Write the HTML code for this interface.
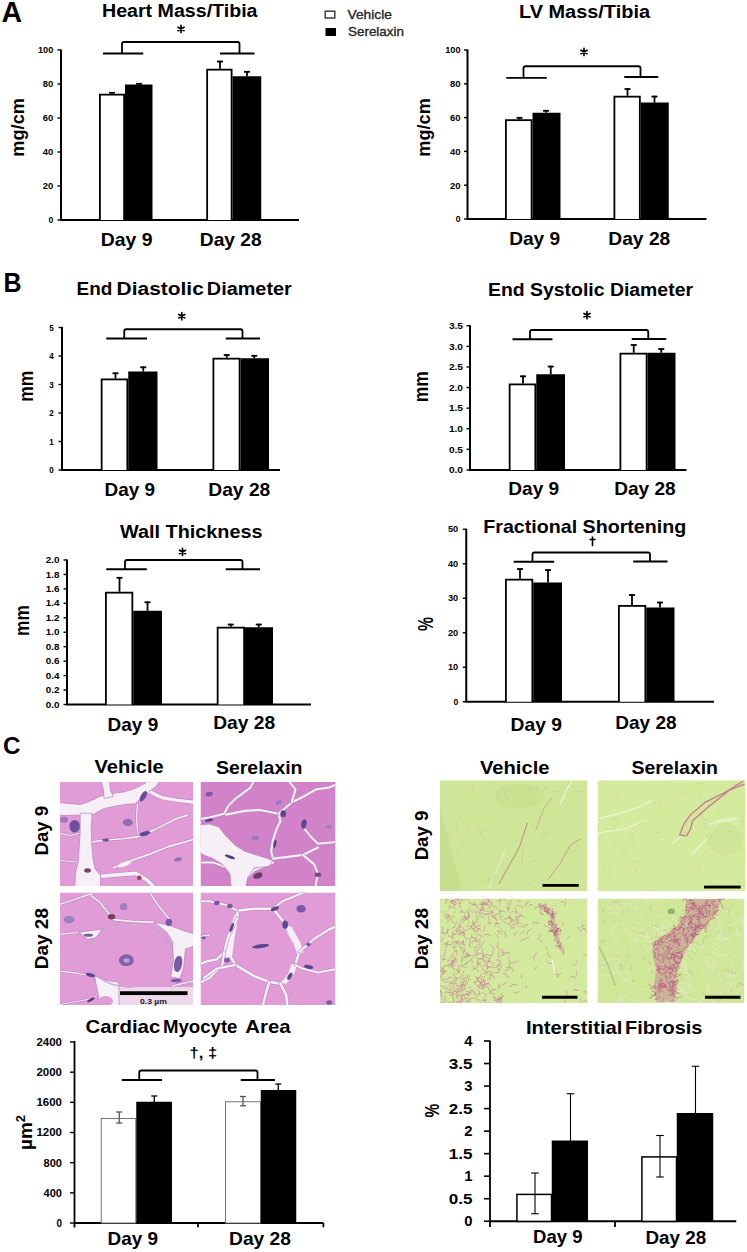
<!DOCTYPE html><html><head><meta charset="utf-8"><style>html,body{margin:0;padding:0;background:#fff;overflow:hidden}svg{display:block}text{font-family:"Liberation Sans",sans-serif;font-weight:bold}</style></head><body>
<svg width="747" height="1252" viewBox="0 0 747 1252">
<rect width="747" height="1252" fill="#fff"/>
<text x="1.4" y="22" font-size="29.3" textLength="20.6" lengthAdjust="spacingAndGlyphs">A</text>
<rect x="325.2" y="11.2" width="9.6" height="6.8" fill="#fff" stroke="#333" stroke-width="1.4"/>
<rect x="325.5" y="28" width="10.5" height="8" fill="#000"/>
<text x="347.5" y="19.3" font-size="13.5" textLength="44.5" lengthAdjust="spacingAndGlyphs" style="font-weight:normal" fill="#262626" stroke="#262626" stroke-width="0.35">Vehicle</text>
<text x="348" y="36.2" font-size="13.5" textLength="56" lengthAdjust="spacingAndGlyphs" style="font-weight:normal" fill="#262626" stroke="#262626" stroke-width="0.35">Serelaxin</text>
<path d="M61,49.5L61,220L299,220" stroke="#000" stroke-width="2" fill="none" stroke-linejoin="miter"/>
<line x1="57.5" y1="50" x2="61" y2="50" stroke="#000" stroke-width="1.4" stroke-linecap="butt"/>
<text x="53.3" y="53.348" font-size="9.3" textLength="15.3" lengthAdjust="spacingAndGlyphs" text-anchor="end">100</text>
<line x1="57.5" y1="84" x2="61" y2="84" stroke="#000" stroke-width="1.4" stroke-linecap="butt"/>
<text x="53.3" y="87.348" font-size="9.3" textLength="10.5" lengthAdjust="spacingAndGlyphs" text-anchor="end">80</text>
<line x1="57.5" y1="118" x2="61" y2="118" stroke="#000" stroke-width="1.4" stroke-linecap="butt"/>
<text x="53.3" y="121.348" font-size="9.3" textLength="10.5" lengthAdjust="spacingAndGlyphs" text-anchor="end">60</text>
<line x1="57.5" y1="152" x2="61" y2="152" stroke="#000" stroke-width="1.4" stroke-linecap="butt"/>
<text x="53.3" y="155.348" font-size="9.3" textLength="10.5" lengthAdjust="spacingAndGlyphs" text-anchor="end">40</text>
<line x1="57.5" y1="186" x2="61" y2="186" stroke="#000" stroke-width="1.4" stroke-linecap="butt"/>
<text x="53.3" y="189.348" font-size="9.3" textLength="10.5" lengthAdjust="spacingAndGlyphs" text-anchor="end">20</text>
<line x1="57.5" y1="220" x2="61" y2="220" stroke="#000" stroke-width="1.4" stroke-linecap="butt"/>
<text x="53.3" y="223.348" font-size="9.3" textLength="4.8" lengthAdjust="spacingAndGlyphs" text-anchor="end">0</text>
<rect x="99" y="93.75" width="26" height="126.25" fill="#000"/>
<rect x="100.8" y="95.55" width="22.4" height="124.45" fill="#fff"/>
<rect x="125" y="84.5" width="27.5" height="135.5" fill="#000"/>
<rect x="206.25" y="68.75" width="26.25" height="151.25" fill="#000"/>
<rect x="208.05" y="70.55" width="22.65" height="149.45" fill="#fff"/>
<rect x="232.5" y="76.25" width="28.75" height="143.75" fill="#000"/>
<line x1="112" y1="92" x2="112" y2="93.75" stroke="#000" stroke-width="1.8" stroke-linecap="butt"/>
<line x1="109" y1="92.8" x2="115" y2="92.8" stroke="#000" stroke-width="1.8" stroke-linecap="butt"/>
<line x1="139" y1="83" x2="139" y2="84.5" stroke="#000" stroke-width="1.8" stroke-linecap="butt"/>
<line x1="136" y1="83.8" x2="142" y2="83.8" stroke="#000" stroke-width="1.8" stroke-linecap="butt"/>
<line x1="220" y1="60.75" x2="220" y2="68.75" stroke="#000" stroke-width="1.8" stroke-linecap="butt"/>
<line x1="217" y1="61.55" x2="223" y2="61.55" stroke="#000" stroke-width="1.8" stroke-linecap="butt"/>
<line x1="247" y1="71" x2="247" y2="76.25" stroke="#000" stroke-width="1.8" stroke-linecap="butt"/>
<line x1="244" y1="71.8" x2="250" y2="71.8" stroke="#000" stroke-width="1.8" stroke-linecap="butt"/>
<path d="M103,53.5L143.25,53.5M122,53.5L122,44Q122,42 124,42L237.5,42Q239.5,42 239.5,44L239.5,53.5M220,53.5L254.5,53.5" stroke="#000" stroke-width="1.8" fill="none"/>
<text x="102" y="17" font-size="17.5" textLength="155.5" lengthAdjust="spacingAndGlyphs">Heart Mass/Tibia</text>
<path d="M181.00,25.40L181.00,32.40M184.03,27.15L177.97,30.65M184.03,30.65L177.97,27.15" stroke="#000" stroke-width="1.7" fill="none" stroke-linecap="round"/>
<text x="100.8" y="245.75" font-size="18.5" textLength="51.8" lengthAdjust="spacingAndGlyphs">Day 9</text>
<text x="199.8" y="245.75" font-size="18.5" textLength="61.8" lengthAdjust="spacingAndGlyphs">Day 28</text>
<text transform="translate(24.1,156.7) rotate(-90)" font-size="19" textLength="58.7" lengthAdjust="spacingAndGlyphs">mg/cm</text>
<path d="M467.5,49.5L467.5,219L706.5,219" stroke="#000" stroke-width="2" fill="none" stroke-linejoin="miter"/>
<line x1="464.0" y1="50" x2="467.5" y2="50" stroke="#000" stroke-width="1.4" stroke-linecap="butt"/>
<text x="460.5" y="53.348" font-size="9.3" textLength="15.3" lengthAdjust="spacingAndGlyphs" text-anchor="end">100</text>
<line x1="464.0" y1="83.8" x2="467.5" y2="83.8" stroke="#000" stroke-width="1.4" stroke-linecap="butt"/>
<text x="460.5" y="87.148" font-size="9.3" textLength="10.5" lengthAdjust="spacingAndGlyphs" text-anchor="end">80</text>
<line x1="464.0" y1="117.6" x2="467.5" y2="117.6" stroke="#000" stroke-width="1.4" stroke-linecap="butt"/>
<text x="460.5" y="120.948" font-size="9.3" textLength="10.5" lengthAdjust="spacingAndGlyphs" text-anchor="end">60</text>
<line x1="464.0" y1="151.4" x2="467.5" y2="151.4" stroke="#000" stroke-width="1.4" stroke-linecap="butt"/>
<text x="460.5" y="154.74800000000002" font-size="9.3" textLength="10.5" lengthAdjust="spacingAndGlyphs" text-anchor="end">40</text>
<line x1="464.0" y1="185.2" x2="467.5" y2="185.2" stroke="#000" stroke-width="1.4" stroke-linecap="butt"/>
<text x="460.5" y="188.548" font-size="9.3" textLength="10.5" lengthAdjust="spacingAndGlyphs" text-anchor="end">20</text>
<line x1="464.0" y1="219" x2="467.5" y2="219" stroke="#000" stroke-width="1.4" stroke-linecap="butt"/>
<text x="460.5" y="222.348" font-size="9.3" textLength="4.8" lengthAdjust="spacingAndGlyphs" text-anchor="end">0</text>
<rect x="505" y="119.25" width="27.5" height="99.75" fill="#000"/>
<rect x="506.8" y="121.05" width="23.9" height="97.95" fill="#fff"/>
<rect x="532.5" y="112.75" width="28.0" height="106.25" fill="#000"/>
<rect x="613.5" y="95.75" width="27.25" height="123.25" fill="#000"/>
<rect x="615.3" y="97.55" width="23.65" height="121.45" fill="#fff"/>
<rect x="640.75" y="102.5" width="28.0" height="116.5" fill="#000"/>
<line x1="519.5" y1="117" x2="519.5" y2="119.25" stroke="#000" stroke-width="1.8" stroke-linecap="butt"/>
<line x1="516.5" y1="117.8" x2="522.5" y2="117.8" stroke="#000" stroke-width="1.8" stroke-linecap="butt"/>
<line x1="546" y1="110" x2="546" y2="112.75" stroke="#000" stroke-width="1.8" stroke-linecap="butt"/>
<line x1="543" y1="110.8" x2="549" y2="110.8" stroke="#000" stroke-width="1.8" stroke-linecap="butt"/>
<line x1="627.5" y1="88.25" x2="627.5" y2="95.75" stroke="#000" stroke-width="1.8" stroke-linecap="butt"/>
<line x1="624.5" y1="89.05" x2="630.5" y2="89.05" stroke="#000" stroke-width="1.8" stroke-linecap="butt"/>
<line x1="654.5" y1="95.75" x2="654.5" y2="102.5" stroke="#000" stroke-width="1.8" stroke-linecap="butt"/>
<line x1="651.5" y1="96.55" x2="657.5" y2="96.55" stroke="#000" stroke-width="1.8" stroke-linecap="butt"/>
<path d="M506.25,77.8L546.75,77.8M523.5,77.8L523.5,68.25Q523.5,66.25 525.5,66.25L638.5,66.25Q640.5,66.25 640.5,68.25L640.5,77M624.25,77L658.25,77" stroke="#000" stroke-width="1.8" fill="none"/>
<text x="519" y="17.5" font-size="17.5" textLength="131" lengthAdjust="spacingAndGlyphs">LV Mass/Tibia</text>
<path d="M584.00,48.40L584.00,55.40M587.03,50.15L580.97,53.65M587.03,53.65L580.97,50.15" stroke="#000" stroke-width="1.7" fill="none" stroke-linecap="round"/>
<text x="509.2" y="245.2" font-size="18.5" textLength="51" lengthAdjust="spacingAndGlyphs">Day 9</text>
<text x="608.3" y="245.2" font-size="18.5" textLength="62" lengthAdjust="spacingAndGlyphs">Day 28</text>
<text transform="translate(430.3,156.7) rotate(-90)" font-size="19" textLength="58.6" lengthAdjust="spacingAndGlyphs">mg/cm</text>
<text x="3.5" y="291.5" font-size="27.5" textLength="18" lengthAdjust="spacingAndGlyphs">B</text>
<path d="M62,327.0L62,470L280,470" stroke="#000" stroke-width="2" fill="none" stroke-linejoin="miter"/>
<line x1="58.5" y1="327.5" x2="62" y2="327.5" stroke="#000" stroke-width="1.4" stroke-linecap="butt"/>
<text x="53.75" y="330.812" font-size="9.2" textLength="4.5" lengthAdjust="spacingAndGlyphs" text-anchor="end">5</text>
<line x1="58.5" y1="356" x2="62" y2="356" stroke="#000" stroke-width="1.4" stroke-linecap="butt"/>
<text x="53.75" y="359.312" font-size="9.2" textLength="4.5" lengthAdjust="spacingAndGlyphs" text-anchor="end">4</text>
<line x1="58.5" y1="384.5" x2="62" y2="384.5" stroke="#000" stroke-width="1.4" stroke-linecap="butt"/>
<text x="53.75" y="387.812" font-size="9.2" textLength="4.5" lengthAdjust="spacingAndGlyphs" text-anchor="end">3</text>
<line x1="58.5" y1="413" x2="62" y2="413" stroke="#000" stroke-width="1.4" stroke-linecap="butt"/>
<text x="53.75" y="416.312" font-size="9.2" textLength="4.5" lengthAdjust="spacingAndGlyphs" text-anchor="end">2</text>
<line x1="58.5" y1="441.5" x2="62" y2="441.5" stroke="#000" stroke-width="1.4" stroke-linecap="butt"/>
<text x="53.75" y="444.812" font-size="9.2" textLength="4.5" lengthAdjust="spacingAndGlyphs" text-anchor="end">1</text>
<line x1="58.5" y1="470" x2="62" y2="470" stroke="#000" stroke-width="1.4" stroke-linecap="butt"/>
<text x="53.75" y="473.312" font-size="9.2" textLength="4.5" lengthAdjust="spacingAndGlyphs" text-anchor="end">0</text>
<rect x="100.75" y="378.5" width="27.5" height="91.5" fill="#000"/>
<rect x="102.55" y="380.3" width="23.9" height="89.7" fill="#fff"/>
<rect x="128.25" y="371.5" width="29.25" height="98.5" fill="#000"/>
<rect x="212.5" y="357.75" width="28.0" height="112.25" fill="#000"/>
<rect x="214.3" y="359.55" width="24.4" height="110.45" fill="#fff"/>
<rect x="240.5" y="358.25" width="28.5" height="111.75" fill="#000"/>
<line x1="115.5" y1="372.5" x2="115.5" y2="378.5" stroke="#000" stroke-width="1.8" stroke-linecap="butt"/>
<line x1="112.5" y1="373.3" x2="118.5" y2="373.3" stroke="#000" stroke-width="1.8" stroke-linecap="butt"/>
<line x1="143.25" y1="366.5" x2="143.25" y2="371.5" stroke="#000" stroke-width="1.8" stroke-linecap="butt"/>
<line x1="140.25" y1="367.3" x2="146.25" y2="367.3" stroke="#000" stroke-width="1.8" stroke-linecap="butt"/>
<line x1="226.75" y1="354.25" x2="226.75" y2="357.75" stroke="#000" stroke-width="1.8" stroke-linecap="butt"/>
<line x1="223.75" y1="355.05" x2="229.75" y2="355.05" stroke="#000" stroke-width="1.8" stroke-linecap="butt"/>
<line x1="254.25" y1="355" x2="254.25" y2="358.25" stroke="#000" stroke-width="1.8" stroke-linecap="butt"/>
<line x1="251.25" y1="355.8" x2="257.25" y2="355.8" stroke="#000" stroke-width="1.8" stroke-linecap="butt"/>
<path d="M106.25,338.5L147,338.5M124.25,338.5L124.25,331.25Q124.25,329.25 126.25,329.25L240.5,329.25Q242.5,329.25 242.5,331.25L242.5,338.5M225.75,338.5L260,338.5" stroke="#000" stroke-width="1.8" fill="none"/>
<text x="76.6" y="295.3" font-size="18.3" textLength="35.8" lengthAdjust="spacingAndGlyphs">End</text>
<text x="116.6" y="295.3" font-size="18.3" textLength="87.2" lengthAdjust="spacingAndGlyphs">Diastolic</text>
<text x="206.8" y="295.3" font-size="18.3" textLength="85.0" lengthAdjust="spacingAndGlyphs">Diameter</text>
<path d="M181.75,312.65L181.75,319.65M184.78,314.40L178.72,317.90M184.78,317.90L178.72,314.40" stroke="#000" stroke-width="1.7" fill="none" stroke-linecap="round"/>
<text x="104.5" y="495.5" font-size="18.5" textLength="50.5" lengthAdjust="spacingAndGlyphs">Day 9</text>
<text x="208.3" y="495.5" font-size="18.5" textLength="62" lengthAdjust="spacingAndGlyphs">Day 28</text>
<text transform="translate(33,401.8) rotate(-90)" font-size="21" textLength="31.1" lengthAdjust="spacingAndGlyphs">mm</text>
<path d="M470,325.25L470,470L686.5,470" stroke="#000" stroke-width="2" fill="none" stroke-linejoin="miter"/>
<line x1="466.5" y1="325.75" x2="470" y2="325.75" stroke="#000" stroke-width="1.4" stroke-linecap="butt"/>
<text x="463" y="329.062" font-size="9.2" textLength="14.1" lengthAdjust="spacingAndGlyphs" text-anchor="end">3.5</text>
<line x1="466.5" y1="346.35" x2="470" y2="346.35" stroke="#000" stroke-width="1.4" stroke-linecap="butt"/>
<text x="463" y="349.66200000000003" font-size="9.2" textLength="14.1" lengthAdjust="spacingAndGlyphs" text-anchor="end">3.0</text>
<line x1="466.5" y1="366.95" x2="470" y2="366.95" stroke="#000" stroke-width="1.4" stroke-linecap="butt"/>
<text x="463" y="370.262" font-size="9.2" textLength="14.1" lengthAdjust="spacingAndGlyphs" text-anchor="end">2.5</text>
<line x1="466.5" y1="387.55" x2="470" y2="387.55" stroke="#000" stroke-width="1.4" stroke-linecap="butt"/>
<text x="463" y="390.862" font-size="9.2" textLength="14.1" lengthAdjust="spacingAndGlyphs" text-anchor="end">2.0</text>
<line x1="466.5" y1="408.15" x2="470" y2="408.15" stroke="#000" stroke-width="1.4" stroke-linecap="butt"/>
<text x="463" y="411.462" font-size="9.2" textLength="14.1" lengthAdjust="spacingAndGlyphs" text-anchor="end">1.5</text>
<line x1="466.5" y1="428.75" x2="470" y2="428.75" stroke="#000" stroke-width="1.4" stroke-linecap="butt"/>
<text x="463" y="432.062" font-size="9.2" textLength="14.1" lengthAdjust="spacingAndGlyphs" text-anchor="end">1.0</text>
<line x1="466.5" y1="449.35" x2="470" y2="449.35" stroke="#000" stroke-width="1.4" stroke-linecap="butt"/>
<text x="463" y="452.66200000000003" font-size="9.2" textLength="14.1" lengthAdjust="spacingAndGlyphs" text-anchor="end">0.5</text>
<line x1="466.5" y1="470" x2="470" y2="470" stroke="#000" stroke-width="1.4" stroke-linecap="butt"/>
<text x="463" y="473.312" font-size="9.2" textLength="14.1" lengthAdjust="spacingAndGlyphs" text-anchor="end">0.0</text>
<rect x="508.75" y="383.5" width="27.5" height="86.5" fill="#000"/>
<rect x="510.55" y="385.3" width="23.9" height="84.7" fill="#fff"/>
<rect x="536.25" y="374.25" width="28.75" height="95.75" fill="#000"/>
<rect x="619.5" y="352.75" width="28.0" height="117.25" fill="#000"/>
<rect x="621.3" y="354.55" width="24.4" height="115.45" fill="#fff"/>
<rect x="647.5" y="352.75" width="28.0" height="117.25" fill="#000"/>
<line x1="523" y1="375.5" x2="523" y2="383.5" stroke="#000" stroke-width="1.8" stroke-linecap="butt"/>
<line x1="520" y1="376.3" x2="526" y2="376.3" stroke="#000" stroke-width="1.8" stroke-linecap="butt"/>
<line x1="550.75" y1="365.75" x2="550.75" y2="374.25" stroke="#000" stroke-width="1.8" stroke-linecap="butt"/>
<line x1="547.75" y1="366.55" x2="553.75" y2="366.55" stroke="#000" stroke-width="1.8" stroke-linecap="butt"/>
<line x1="633.75" y1="344.25" x2="633.75" y2="352.75" stroke="#000" stroke-width="1.8" stroke-linecap="butt"/>
<line x1="630.75" y1="345.05" x2="636.75" y2="345.05" stroke="#000" stroke-width="1.8" stroke-linecap="butt"/>
<line x1="661.25" y1="348.25" x2="661.25" y2="352.75" stroke="#000" stroke-width="1.8" stroke-linecap="butt"/>
<line x1="658.25" y1="349.05" x2="664.25" y2="349.05" stroke="#000" stroke-width="1.8" stroke-linecap="butt"/>
<path d="M512.5,339.25L552.5,339.25M530,339.25L530,332Q530,330 532,330L646.25,330Q648.25,330 648.25,332L648.25,339M631.75,339L666.25,339" stroke="#000" stroke-width="1.8" fill="none"/>
<text x="488" y="296" font-size="17.5" textLength="205" lengthAdjust="spacingAndGlyphs">End Systolic Diameter</text>
<path d="M587.00,311.65L587.00,318.65M590.03,313.40L583.97,316.90M590.03,316.90L583.97,313.40" stroke="#000" stroke-width="1.7" fill="none" stroke-linecap="round"/>
<text x="508.3" y="495" font-size="18.5" textLength="50.8" lengthAdjust="spacingAndGlyphs">Day 9</text>
<text x="614.2" y="495" font-size="18.5" textLength="61.5" lengthAdjust="spacingAndGlyphs">Day 28</text>
<text transform="translate(428,402.3) rotate(-90)" font-size="21" textLength="31.2" lengthAdjust="spacingAndGlyphs">mm</text>
<path d="M67,559.5L67,704.5L311,704.5" stroke="#000" stroke-width="2" fill="none" stroke-linejoin="miter"/>
<line x1="63.5" y1="560.0" x2="67" y2="560.0" stroke="#000" stroke-width="1.4" stroke-linecap="butt"/>
<text x="59.4" y="563.132" font-size="8.7" textLength="13.7" lengthAdjust="spacingAndGlyphs" text-anchor="end">2.0</text>
<line x1="63.5" y1="574.45" x2="67" y2="574.45" stroke="#000" stroke-width="1.4" stroke-linecap="butt"/>
<text x="59.4" y="577.582" font-size="8.7" textLength="13.7" lengthAdjust="spacingAndGlyphs" text-anchor="end">1.8</text>
<line x1="63.5" y1="588.9" x2="67" y2="588.9" stroke="#000" stroke-width="1.4" stroke-linecap="butt"/>
<text x="59.4" y="592.0319999999999" font-size="8.7" textLength="13.7" lengthAdjust="spacingAndGlyphs" text-anchor="end">1.6</text>
<line x1="63.5" y1="603.35" x2="67" y2="603.35" stroke="#000" stroke-width="1.4" stroke-linecap="butt"/>
<text x="59.4" y="606.482" font-size="8.7" textLength="13.7" lengthAdjust="spacingAndGlyphs" text-anchor="end">1.4</text>
<line x1="63.5" y1="617.8" x2="67" y2="617.8" stroke="#000" stroke-width="1.4" stroke-linecap="butt"/>
<text x="59.4" y="620.9319999999999" font-size="8.7" textLength="13.7" lengthAdjust="spacingAndGlyphs" text-anchor="end">1.2</text>
<line x1="63.5" y1="632.25" x2="67" y2="632.25" stroke="#000" stroke-width="1.4" stroke-linecap="butt"/>
<text x="59.4" y="635.382" font-size="8.7" textLength="13.7" lengthAdjust="spacingAndGlyphs" text-anchor="end">1.0</text>
<line x1="63.5" y1="646.7" x2="67" y2="646.7" stroke="#000" stroke-width="1.4" stroke-linecap="butt"/>
<text x="59.4" y="649.832" font-size="8.7" textLength="13.7" lengthAdjust="spacingAndGlyphs" text-anchor="end">0.8</text>
<line x1="63.5" y1="661.15" x2="67" y2="661.15" stroke="#000" stroke-width="1.4" stroke-linecap="butt"/>
<text x="59.4" y="664.2819999999999" font-size="8.7" textLength="13.7" lengthAdjust="spacingAndGlyphs" text-anchor="end">0.6</text>
<line x1="63.5" y1="675.6" x2="67" y2="675.6" stroke="#000" stroke-width="1.4" stroke-linecap="butt"/>
<text x="59.4" y="678.732" font-size="8.7" textLength="13.7" lengthAdjust="spacingAndGlyphs" text-anchor="end">0.4</text>
<line x1="63.5" y1="690.05" x2="67" y2="690.05" stroke="#000" stroke-width="1.4" stroke-linecap="butt"/>
<text x="59.4" y="693.1819999999999" font-size="8.7" textLength="13.7" lengthAdjust="spacingAndGlyphs" text-anchor="end">0.2</text>
<line x1="63.5" y1="704.5" x2="67" y2="704.5" stroke="#000" stroke-width="1.4" stroke-linecap="butt"/>
<text x="59.4" y="707.632" font-size="8.7" textLength="13.7" lengthAdjust="spacingAndGlyphs" text-anchor="end">0.0</text>
<rect x="105" y="591.75" width="28.25" height="112.75" fill="#000"/>
<rect x="106.8" y="593.55" width="24.65" height="110.95" fill="#fff"/>
<rect x="133.25" y="610.75" width="28.75" height="93.75" fill="#000"/>
<rect x="216.75" y="626.75" width="28.25" height="77.75" fill="#000"/>
<rect x="218.55" y="628.55" width="24.65" height="75.95" fill="#fff"/>
<rect x="245" y="627.25" width="28" height="77.25" fill="#000"/>
<line x1="119.5" y1="577" x2="119.5" y2="591.75" stroke="#000" stroke-width="1.8" stroke-linecap="butt"/>
<line x1="116.5" y1="577.8" x2="122.5" y2="577.8" stroke="#000" stroke-width="1.8" stroke-linecap="butt"/>
<line x1="147.5" y1="601.5" x2="147.5" y2="610.75" stroke="#000" stroke-width="1.8" stroke-linecap="butt"/>
<line x1="144.5" y1="602.3" x2="150.5" y2="602.3" stroke="#000" stroke-width="1.8" stroke-linecap="butt"/>
<line x1="230.75" y1="623.75" x2="230.75" y2="626.75" stroke="#000" stroke-width="1.8" stroke-linecap="butt"/>
<line x1="227.75" y1="624.55" x2="233.75" y2="624.55" stroke="#000" stroke-width="1.8" stroke-linecap="butt"/>
<line x1="258.75" y1="623.75" x2="258.75" y2="627.25" stroke="#000" stroke-width="1.8" stroke-linecap="butt"/>
<line x1="255.75" y1="624.55" x2="261.75" y2="624.55" stroke="#000" stroke-width="1.8" stroke-linecap="butt"/>
<path d="M106.25,569.25L146.75,569.25M125,569.25L125,562Q125,560 127,560L240.5,560Q242.5,560 242.5,562L242.5,569.25M225.75,569.25L260,569.25" stroke="#000" stroke-width="1.8" fill="none"/>
<text x="120" y="537.5" font-size="17.5" textLength="142.5" lengthAdjust="spacingAndGlyphs">Wall Thickness</text>
<path d="M182.50,548.40L182.50,555.40M185.53,550.15L179.47,553.65M185.53,553.65L179.47,550.15" stroke="#000" stroke-width="1.7" fill="none" stroke-linecap="round"/>
<text x="107.6" y="730.7" font-size="18.5" textLength="50.6" lengthAdjust="spacingAndGlyphs">Day 9</text>
<text x="213.2" y="729" font-size="18.5" textLength="62" lengthAdjust="spacingAndGlyphs">Day 28</text>
<text transform="translate(28.6,636) rotate(-90)" font-size="20.5" textLength="30.8" lengthAdjust="spacingAndGlyphs">mm</text>
<path d="M466.25,528.75L466.25,701.75L714,701.75" stroke="#000" stroke-width="2" fill="none" stroke-linejoin="miter"/>
<line x1="462.75" y1="529.25" x2="466.25" y2="529.25" stroke="#000" stroke-width="1.4" stroke-linecap="butt"/>
<text x="458.25" y="532.49" font-size="9" textLength="10.25" lengthAdjust="spacingAndGlyphs" text-anchor="end">50</text>
<line x1="462.75" y1="563.75" x2="466.25" y2="563.75" stroke="#000" stroke-width="1.4" stroke-linecap="butt"/>
<text x="458.25" y="566.99" font-size="9" textLength="10.25" lengthAdjust="spacingAndGlyphs" text-anchor="end">40</text>
<line x1="462.75" y1="598.25" x2="466.25" y2="598.25" stroke="#000" stroke-width="1.4" stroke-linecap="butt"/>
<text x="458.25" y="601.49" font-size="9" textLength="10.25" lengthAdjust="spacingAndGlyphs" text-anchor="end">30</text>
<line x1="462.75" y1="632.75" x2="466.25" y2="632.75" stroke="#000" stroke-width="1.4" stroke-linecap="butt"/>
<text x="458.25" y="635.99" font-size="9" textLength="10.25" lengthAdjust="spacingAndGlyphs" text-anchor="end">20</text>
<line x1="462.75" y1="667.25" x2="466.25" y2="667.25" stroke="#000" stroke-width="1.4" stroke-linecap="butt"/>
<text x="458.25" y="670.49" font-size="9" textLength="10.25" lengthAdjust="spacingAndGlyphs" text-anchor="end">10</text>
<line x1="462.75" y1="701.75" x2="466.25" y2="701.75" stroke="#000" stroke-width="1.4" stroke-linecap="butt"/>
<text x="458.25" y="704.99" font-size="9" textLength="4.8" lengthAdjust="spacingAndGlyphs" text-anchor="end">0</text>
<rect x="505" y="578.75" width="28.25" height="123.0" fill="#000"/>
<rect x="506.8" y="580.55" width="24.65" height="121.2" fill="#fff"/>
<rect x="533.25" y="582.5" width="28.75" height="119.25" fill="#000"/>
<rect x="618" y="605" width="28.25" height="96.75" fill="#000"/>
<rect x="619.8" y="606.8" width="24.65" height="94.95" fill="#fff"/>
<rect x="646.25" y="607.5" width="28.25" height="94.25" fill="#000"/>
<line x1="520" y1="568.25" x2="520" y2="578.75" stroke="#000" stroke-width="1.8" stroke-linecap="butt"/>
<line x1="517" y1="569.05" x2="523" y2="569.05" stroke="#000" stroke-width="1.8" stroke-linecap="butt"/>
<line x1="548" y1="569.25" x2="548" y2="582.5" stroke="#000" stroke-width="1.8" stroke-linecap="butt"/>
<line x1="545" y1="570.05" x2="551" y2="570.05" stroke="#000" stroke-width="1.8" stroke-linecap="butt"/>
<line x1="632" y1="594.25" x2="632" y2="605" stroke="#000" stroke-width="1.8" stroke-linecap="butt"/>
<line x1="629" y1="595.05" x2="635" y2="595.05" stroke="#000" stroke-width="1.8" stroke-linecap="butt"/>
<line x1="660" y1="601.75" x2="660" y2="607.5" stroke="#000" stroke-width="1.8" stroke-linecap="butt"/>
<line x1="657" y1="602.55" x2="663" y2="602.55" stroke="#000" stroke-width="1.8" stroke-linecap="butt"/>
<path d="M513.75,561.75L554.25,561.75M532.5,561.75L532.5,554.5Q532.5,552.5 534.5,552.5L648,552.5Q650,552.5 650,554.5L650,561.5M633.25,561.5L667.5,561.5" stroke="#000" stroke-width="1.8" fill="none"/>
<text x="483.25" y="533" font-size="18.5" textLength="203" lengthAdjust="spacingAndGlyphs">Fractional Shortening</text>
<line x1="592.5" y1="536.5" x2="592.5" y2="546.25" stroke="#000" stroke-width="1.6" stroke-linecap="butt"/>
<line x1="589.5" y1="539.5" x2="595.5" y2="539.5" stroke="#000" stroke-width="1.6" stroke-linecap="butt"/>
<text x="510.6" y="730.7" font-size="18.5" textLength="51.3" lengthAdjust="spacingAndGlyphs">Day 9</text>
<text x="615.2" y="729" font-size="18.5" textLength="61.4" lengthAdjust="spacingAndGlyphs">Day 28</text>
<text transform="translate(432.8,631.1) rotate(-90)" font-size="21.5" textLength="14" lengthAdjust="spacingAndGlyphs">%</text>
<text x="3" y="754.25" font-size="24" textLength="17.5" lengthAdjust="spacingAndGlyphs">C</text>
<text x="94.5" y="773" font-size="18.5" textLength="69.25" lengthAdjust="spacingAndGlyphs">Vehicle</text>
<text x="216" y="774" font-size="18.5" textLength="86.5" lengthAdjust="spacingAndGlyphs">Serelaxin</text>
<text x="480" y="774" font-size="18.5" textLength="69.5" lengthAdjust="spacingAndGlyphs">Vehicle</text>
<text x="631.5" y="774" font-size="18.5" textLength="86.5" lengthAdjust="spacingAndGlyphs">Serelaxin</text>
<text transform="translate(48,855.4) rotate(-90)" font-size="18.5" textLength="49.6" lengthAdjust="spacingAndGlyphs">Day 9</text>
<text transform="translate(48,969.3) rotate(-90)" font-size="18.5" textLength="61.3" lengthAdjust="spacingAndGlyphs">Day 28</text>
<text transform="translate(428,860.3) rotate(-90)" font-size="18.5" textLength="49.6" lengthAdjust="spacingAndGlyphs">Day 9</text>
<text transform="translate(428,969.3) rotate(-90)" font-size="18.5" textLength="61.3" lengthAdjust="spacingAndGlyphs">Day 28</text>
<clipPath id="c1"><rect x="60" y="782" width="133" height="104"/></clipPath>
<g clip-path="url(#c1)">
<rect x="60" y="782" width="133" height="104" fill="#e19bd7"/>
<g transform="translate(58,780) scale(0.184739)">
<path d="M0,285L60,300L115,290" fill="none" stroke="#b884c0" stroke-width="12" stroke-linejoin="round" stroke-linecap="round"/><path d="M0,285L60,300L115,290" fill="none" stroke="#f6f0f6" stroke-width="6" stroke-linejoin="round" stroke-linecap="round"/>
<path d="M0,435L60,440L115,445" fill="none" stroke="#b884c0" stroke-width="12" stroke-linejoin="round" stroke-linecap="round"/><path d="M0,435L60,440L115,445" fill="none" stroke="#f6f0f6" stroke-width="6" stroke-linejoin="round" stroke-linecap="round"/>
<path d="M430,130L425,200L432,300" fill="none" stroke="#b884c0" stroke-width="13" stroke-linejoin="round" stroke-linecap="round"/><path d="M430,130L425,200L432,300" fill="none" stroke="#f6f0f6" stroke-width="7" stroke-linejoin="round" stroke-linecap="round"/>
<path d="M185,335L260,325L350,318L430,308L520,270L640,210L700,190" fill="none" stroke="#b884c0" stroke-width="15" stroke-linejoin="round" stroke-linecap="round"/><path d="M185,335L260,325L350,318L430,308L520,270L640,210L700,190" fill="none" stroke="#f6f0f6" stroke-width="9" stroke-linejoin="round" stroke-linecap="round"/>
<path d="M300,475L400,435L500,400L600,360L747,318" fill="none" stroke="#b884c0" stroke-width="16" stroke-linejoin="round" stroke-linecap="round"/><path d="M300,475L400,435L500,400L600,360L747,318" fill="none" stroke="#f6f0f6" stroke-width="10" stroke-linejoin="round" stroke-linecap="round"/>
<path d="M490,60L560,95L650,110L747,122" fill="none" stroke="#b884c0" stroke-width="24" stroke-linejoin="round" stroke-linecap="round"/><path d="M490,60L560,95L650,110L747,122" fill="none" stroke="#f6f0f6" stroke-width="18" stroke-linejoin="round" stroke-linecap="round"/>
<path d="M190,525L300,515L420,505L480,540L530,590" fill="none" stroke="#b884c0" stroke-width="26" stroke-linejoin="round" stroke-linecap="round"/><path d="M190,525L300,515L420,505L480,540L530,590" fill="none" stroke="#f6f0f6" stroke-width="20" stroke-linejoin="round" stroke-linecap="round"/>
<path d="M0,120L60,128L120,132L170,116L230,88L300,72L360,64L420,45L470,18L490,0L555,0L530,35L490,65L450,95L420,128L360,133L300,143L240,158L195,185L150,195L100,190L40,192L0,190Z" fill="#f6f0f6" stroke="#b884c0" stroke-width="4" stroke-linejoin="round"/>
<path d="M120,180L185,180L180,260L182,340L188,420L200,480L230,515L230,600L90,600L95,500L110,440L115,360L120,280Z" fill="#f6f0f6" stroke="#b884c0" stroke-width="4" stroke-linejoin="round"/>
<path d="M232,0L278,0L285,60L300,88L250,100L245,50Z" fill="#f6f0f6" stroke="#b884c0" stroke-width="4" stroke-linejoin="round"/>
<ellipse cx="360" cy="455" rx="40" ry="12" transform="rotate(-20 360 455)" fill="#f6f0f6"/>
<ellipse cx="90" cy="250" rx="28" ry="34" transform="rotate(0 90 250)" fill="#6e4e9e"/>
<ellipse cx="32" cy="215" rx="22" ry="16" transform="rotate(0 32 215)" fill="#a078b8"/>
<ellipse cx="378" cy="230" rx="28" ry="20" transform="rotate(0 378 230)" fill="#9070b4"/>
<ellipse cx="462" cy="88" rx="14" ry="32" transform="rotate(30 462 88)" fill="#6a4c98"/>
<ellipse cx="470" cy="290" rx="30" ry="12" transform="rotate(-15 470 290)" fill="#5e4a96"/>
<ellipse cx="258" cy="325" rx="18" ry="8" transform="rotate(0 258 325)" fill="#6e56a6"/>
<ellipse cx="650" cy="430" rx="22" ry="10" transform="rotate(-10 650 430)" fill="#8c70b8"/>
<ellipse cx="160" cy="490" rx="18" ry="12" transform="rotate(0 160 490)" fill="#7a4070"/>
<ellipse cx="440" cy="530" rx="13" ry="13" transform="rotate(0 440 530)" fill="#a04870"/>
</g></g>
<clipPath id="c2"><rect x="200.5" y="782" width="135.0" height="104"/></clipPath>
<g clip-path="url(#c2)">
<rect x="200.5" y="782" width="135.0" height="104" fill="#d282c8"/>
<g transform="translate(198,780) scale(0.187416)">
<path d="M160,140L200,100L240,70L280,40L300,0" fill="none" stroke="#b884c0" stroke-width="17" stroke-linejoin="round" stroke-linecap="round"/><path d="M160,140L200,100L240,70L280,40L300,0" fill="none" stroke="#f6f0f6" stroke-width="11" stroke-linejoin="round" stroke-linecap="round"/>
<path d="M160,140L140,180L60,200L0,210" fill="none" stroke="#b884c0" stroke-width="17" stroke-linejoin="round" stroke-linecap="round"/><path d="M160,140L140,180L60,200L0,210" fill="none" stroke="#f6f0f6" stroke-width="11" stroke-linejoin="round" stroke-linecap="round"/>
<path d="M150,185L250,165L330,160L430,180L440,220L420,260L400,320L390,380L400,420" fill="none" stroke="#b884c0" stroke-width="18" stroke-linejoin="round" stroke-linecap="round"/><path d="M150,185L250,165L330,160L430,180L440,220L420,260L400,320L390,380L400,420" fill="none" stroke="#f6f0f6" stroke-width="12" stroke-linejoin="round" stroke-linecap="round"/>
<path d="M430,180L500,120L560,90L630,50L700,40L747,20" fill="none" stroke="#b884c0" stroke-width="18" stroke-linejoin="round" stroke-linecap="round"/><path d="M430,180L500,120L560,90L630,50L700,40L747,20" fill="none" stroke="#f6f0f6" stroke-width="12" stroke-linejoin="round" stroke-linecap="round"/>
<path d="M500,120L520,50L480,0" fill="none" stroke="#b884c0" stroke-width="17" stroke-linejoin="round" stroke-linecap="round"/><path d="M500,120L520,50L480,0" fill="none" stroke="#f6f0f6" stroke-width="11" stroke-linejoin="round" stroke-linecap="round"/>
<path d="M560,250L600,300L640,340L747,330" fill="none" stroke="#b884c0" stroke-width="16" stroke-linejoin="round" stroke-linecap="round"/><path d="M560,250L600,300L640,340L747,330" fill="none" stroke="#f6f0f6" stroke-width="10" stroke-linejoin="round" stroke-linecap="round"/>
<path d="M400,420L480,410L560,400L640,360" fill="none" stroke="#b884c0" stroke-width="18" stroke-linejoin="round" stroke-linecap="round"/><path d="M400,420L480,410L560,400L640,360" fill="none" stroke="#f6f0f6" stroke-width="12" stroke-linejoin="round" stroke-linecap="round"/>
<path d="M560,400L620,450L640,500L620,600" fill="none" stroke="#b884c0" stroke-width="17" stroke-linejoin="round" stroke-linecap="round"/><path d="M560,400L620,450L640,500L620,600" fill="none" stroke="#f6f0f6" stroke-width="11" stroke-linejoin="round" stroke-linecap="round"/>
<path d="M250,530L300,480L400,440" fill="none" stroke="#b884c0" stroke-width="18" stroke-linejoin="round" stroke-linecap="round"/><path d="M250,530L300,480L400,440" fill="none" stroke="#f6f0f6" stroke-width="12" stroke-linejoin="round" stroke-linecap="round"/>
<path d="M0,440L80,440L160,470" fill="none" stroke="#b884c0" stroke-width="16" stroke-linejoin="round" stroke-linecap="round"/><path d="M0,440L80,440L160,470" fill="none" stroke="#f6f0f6" stroke-width="10" stroke-linejoin="round" stroke-linecap="round"/>
<path d="M0,240L60,235L110,250L150,300L200,350L250,380L310,400L360,415L400,430L380,460L300,470L265,520L250,600L180,600L170,500L130,450L80,420L30,400L0,380Z" fill="#f6f0f6" stroke="#b884c0" stroke-width="4" stroke-linejoin="round"/>
<ellipse cx="565" cy="235" rx="14" ry="25" transform="rotate(10 565 235)" fill="#5a4690"/>
<ellipse cx="455" cy="180" rx="15" ry="18" transform="rotate(0 455 180)" fill="#5a4690"/>
<ellipse cx="430" cy="120" rx="18" ry="10" transform="rotate(-20 430 120)" fill="#9a78c0"/>
<ellipse cx="305" cy="310" rx="20" ry="12" transform="rotate(0 305 310)" fill="#9a78c0"/>
<ellipse cx="320" cy="510" rx="25" ry="15" transform="rotate(-20 320 510)" fill="#6a3a6a"/>
<ellipse cx="640" cy="505" rx="18" ry="12" transform="rotate(0 640 505)" fill="#7a4a80"/>
<ellipse cx="60" cy="75" rx="20" ry="12" transform="rotate(-10 60 75)" fill="#7a5aa8"/>
<ellipse cx="170" cy="410" rx="28" ry="8" transform="rotate(20 170 410)" fill="#4e3e80"/>
<ellipse cx="410" cy="340" rx="8" ry="22" transform="rotate(10 410 340)" fill="#5a4690"/>
<ellipse cx="700" cy="250" rx="15" ry="12" transform="rotate(0 700 250)" fill="#a080c0"/>
<ellipse cx="60" cy="215" rx="22" ry="8" transform="rotate(-10 60 215)" fill="#5a4690"/>
</g></g>
<clipPath id="c3"><rect x="60" y="892.5" width="133" height="112.5"/></clipPath>
<g clip-path="url(#c3)">
<rect x="60" y="892.5" width="133" height="112.5" fill="#e19bd7"/>
<g transform="translate(58,890) scale(0.184739)">
<rect x="320" y="525" width="430" height="110" fill="#eed8ec"/>
<path d="M180,30L230,70L270,120L300,160L400,170L520,175" fill="none" stroke="#b884c0" stroke-width="15" stroke-linejoin="round" stroke-linecap="round"/><path d="M180,30L230,70L270,120L300,160L400,170L520,175" fill="none" stroke="#f6f0f6" stroke-width="9" stroke-linejoin="round" stroke-linecap="round"/>
<path d="M500,20L540,80L580,130L610,165" fill="none" stroke="#b884c0" stroke-width="14" stroke-linejoin="round" stroke-linecap="round"/><path d="M500,20L540,80L580,130L610,165" fill="none" stroke="#f6f0f6" stroke-width="8" stroke-linejoin="round" stroke-linecap="round"/>
<path d="M0,80L80,55L150,30L185,20" fill="none" stroke="#b884c0" stroke-width="14" stroke-linejoin="round" stroke-linecap="round"/><path d="M0,80L80,55L150,30L185,20" fill="none" stroke="#f6f0f6" stroke-width="8" stroke-linejoin="round" stroke-linecap="round"/>
<path d="M0,240L60,235L110,230" fill="none" stroke="#b884c0" stroke-width="12" stroke-linejoin="round" stroke-linecap="round"/><path d="M0,240L60,235L110,230" fill="none" stroke="#f6f0f6" stroke-width="6" stroke-linejoin="round" stroke-linecap="round"/>
<path d="M0,438L100,450L203,468" fill="none" stroke="#b884c0" stroke-width="12" stroke-linejoin="round" stroke-linecap="round"/><path d="M0,438L100,450L203,468" fill="none" stroke="#f6f0f6" stroke-width="6" stroke-linejoin="round" stroke-linecap="round"/>
<path d="M198,466L260,488L330,500L330,640L235,640L222,590L210,530Z" fill="#f6f0f6" stroke="#b884c0" stroke-width="4" stroke-linejoin="round"/>
<ellipse cx="258" cy="602" rx="40" ry="28" fill="#e19bd7"/>
<path d="M0,622L120,600L195,586L212,560" fill="none" stroke="#b884c0" stroke-width="11" stroke-linejoin="round" stroke-linecap="round"/><path d="M0,622L120,600L195,586L212,560" fill="none" stroke="#f6f0f6" stroke-width="5" stroke-linejoin="round" stroke-linecap="round"/>
<ellipse cx="178" cy="595" rx="22" ry="7" transform="rotate(-30 178 595)" fill="#4e3e80"/>
<path d="M620,520L700,500L747,490" fill="none" stroke="#b884c0" stroke-width="14" stroke-linejoin="round" stroke-linecap="round"/><path d="M620,520L700,500L747,490" fill="none" stroke="#f6f0f6" stroke-width="8" stroke-linejoin="round" stroke-linecap="round"/>
<ellipse cx="388" cy="355" rx="232" ry="170" fill="none" stroke="#b884c0" stroke-width="7"/>
<ellipse cx="388" cy="355" rx="232" ry="170" fill="none" stroke="#f0dcef" stroke-width="3"/>
<path d="M115,228L240,212L205,258L160,268Z" fill="#f6f0f6" stroke="#b884c0" stroke-width="4" stroke-linejoin="round"/>
<path d="M520,175L600,190L680,220L747,240L747,300L690,320L680,420L660,480L610,470L625,380L620,280L590,230Z" fill="#f6f0f6" stroke="#b884c0" stroke-width="4" stroke-linejoin="round"/>
<ellipse cx="370" cy="380" rx="40" ry="32" transform="rotate(0 370 380)" fill="#8060a8"/>
<ellipse cx="372" cy="382" rx="16" ry="12" transform="rotate(0 372 382)" fill="#c0a0d0"/>
<ellipse cx="290" cy="145" rx="20" ry="15" transform="rotate(0 290 145)" fill="#7a3a5a"/>
<ellipse cx="600" cy="175" rx="18" ry="20" transform="rotate(0 600 175)" fill="#7a5aa8"/>
<ellipse cx="60" cy="160" rx="30" ry="20" transform="rotate(0 60 160)" fill="#a080c0"/>
<ellipse cx="355" cy="90" rx="20" ry="20" transform="rotate(0 355 90)" fill="#a080c0"/>
<ellipse cx="650" cy="400" rx="22" ry="45" transform="rotate(10 650 400)" fill="#7a5aa8"/>
<ellipse cx="640" cy="490" rx="30" ry="10" transform="rotate(0 640 490)" fill="#7a5aa8"/>
<ellipse cx="175" cy="460" rx="25" ry="10" transform="rotate(15 175 460)" fill="#5a4690"/>
<ellipse cx="165" cy="245" rx="25" ry="8" transform="rotate(0 165 245)" fill="#7a5aa8"/>
</g></g>
<clipPath id="c4"><rect x="200.5" y="892.5" width="135.0" height="112.5"/></clipPath>
<g clip-path="url(#c4)">
<rect x="200.5" y="892.5" width="135.0" height="112.5" fill="#e19bd7"/>
<g transform="translate(198,890) scale(0.187416)">
<path d="M210,110L300,100L400,100L440,150L480,200L520,280L540,330L520,400L480,470L440,500L380,490L300,460L200,400L170,350L180,250L210,150L210,110" fill="none" stroke="#b884c0" stroke-width="20" stroke-linejoin="round" stroke-linecap="round"/><path d="M210,110L300,100L400,100L440,150L480,200L520,280L540,330L520,400L480,470L440,500L380,490L300,460L200,400L170,350L180,250L210,150L210,110" fill="none" stroke="#f6f0f6" stroke-width="14" stroke-linejoin="round" stroke-linecap="round"/>
<path d="M205,120L218,140L195,250L182,350L150,362L138,330L160,250L190,150Z" fill="#f6f0f6" stroke="#f6f0f6" stroke-width="1" stroke-linejoin="round"/>
<path d="M468,188L500,198L545,280L562,332L532,345L508,282L478,232Z" fill="#f6f0f6" stroke="#f6f0f6" stroke-width="1" stroke-linejoin="round"/>
<path d="M500,395L530,400L510,450L470,500L445,495L480,450Z" fill="#f6f0f6" stroke="#f6f0f6" stroke-width="1" stroke-linejoin="round"/>
<path d="M210,150L160,250L140,330L100,370L50,380L0,400" fill="none" stroke="#b884c0" stroke-width="19" stroke-linejoin="round" stroke-linecap="round"/><path d="M210,150L160,250L140,330L100,370L50,380L0,400" fill="none" stroke="#f6f0f6" stroke-width="13" stroke-linejoin="round" stroke-linecap="round"/>
<path d="M140,330L130,400L60,470L0,500" fill="none" stroke="#b884c0" stroke-width="18" stroke-linejoin="round" stroke-linecap="round"/><path d="M140,330L130,400L60,470L0,500" fill="none" stroke="#f6f0f6" stroke-width="12" stroke-linejoin="round" stroke-linecap="round"/>
<path d="M200,400L100,420L30,470" fill="none" stroke="#b884c0" stroke-width="18" stroke-linejoin="round" stroke-linecap="round"/><path d="M200,400L100,420L30,470" fill="none" stroke="#f6f0f6" stroke-width="12" stroke-linejoin="round" stroke-linecap="round"/>
<path d="M210,110L150,80L60,60L0,60" fill="none" stroke="#b884c0" stroke-width="17" stroke-linejoin="round" stroke-linecap="round"/><path d="M210,110L150,80L60,60L0,60" fill="none" stroke="#f6f0f6" stroke-width="11" stroke-linejoin="round" stroke-linecap="round"/>
<path d="M400,100L450,60L500,40L560,15" fill="none" stroke="#b884c0" stroke-width="17" stroke-linejoin="round" stroke-linecap="round"/><path d="M400,100L450,60L500,40L560,15" fill="none" stroke="#f6f0f6" stroke-width="11" stroke-linejoin="round" stroke-linecap="round"/>
<path d="M540,330L620,260L700,210L747,190" fill="none" stroke="#b884c0" stroke-width="18" stroke-linejoin="round" stroke-linecap="round"/><path d="M540,330L620,260L700,210L747,190" fill="none" stroke="#f6f0f6" stroke-width="12" stroke-linejoin="round" stroke-linecap="round"/>
<path d="M520,400L560,420L640,440L747,420" fill="none" stroke="#b884c0" stroke-width="17" stroke-linejoin="round" stroke-linecap="round"/><path d="M520,400L560,420L640,440L747,420" fill="none" stroke="#f6f0f6" stroke-width="11" stroke-linejoin="round" stroke-linecap="round"/>
<path d="M440,500L470,560L480,640" fill="none" stroke="#b884c0" stroke-width="20" stroke-linejoin="round" stroke-linecap="round"/><path d="M440,500L470,560L480,640" fill="none" stroke="#f6f0f6" stroke-width="14" stroke-linejoin="round" stroke-linecap="round"/>
<path d="M380,490L360,560L340,640" fill="none" stroke="#b884c0" stroke-width="19" stroke-linejoin="round" stroke-linecap="round"/><path d="M380,490L360,560L340,640" fill="none" stroke="#f6f0f6" stroke-width="13" stroke-linejoin="round" stroke-linecap="round"/>
<path d="M0,250L60,240" fill="none" stroke="#b884c0" stroke-width="15" stroke-linejoin="round" stroke-linecap="round"/><path d="M0,250L60,240" fill="none" stroke="#f6f0f6" stroke-width="9" stroke-linejoin="round" stroke-linecap="round"/>
<ellipse cx="335" cy="300" rx="45" ry="10" transform="rotate(-8 335 300)" fill="#5a4690"/>
<ellipse cx="465" cy="185" rx="15" ry="22" transform="rotate(0 465 185)" fill="#5a4690"/>
<ellipse cx="550" cy="100" rx="25" ry="20" transform="rotate(0 550 100)" fill="#7a5aa8"/>
<ellipse cx="410" cy="100" rx="22" ry="10" transform="rotate(-20 410 100)" fill="#5a4690"/>
<ellipse cx="100" cy="70" rx="15" ry="12" transform="rotate(0 100 70)" fill="#7a5aa8"/>
<ellipse cx="170" cy="85" rx="15" ry="12" transform="rotate(0 170 85)" fill="#7a5aa8"/>
<ellipse cx="180" cy="200" rx="8" ry="25" transform="rotate(20 180 200)" fill="#5a4690"/>
<ellipse cx="155" cy="375" rx="15" ry="12" transform="rotate(0 155 375)" fill="#7a5aa8"/>
<ellipse cx="590" cy="410" rx="25" ry="10" transform="rotate(10 590 410)" fill="#5a4690"/>
<ellipse cx="30" cy="255" rx="12" ry="8" transform="rotate(0 30 255)" fill="#7a5aa8"/>
<ellipse cx="590" cy="290" rx="12" ry="10" transform="rotate(0 590 290)" fill="#7a5aa8"/>
<ellipse cx="490" cy="460" rx="10" ry="22" transform="rotate(30 490 460)" fill="#5a4690"/>
<ellipse cx="700" cy="600" rx="15" ry="12" transform="rotate(0 700 600)" fill="#7a5aa8"/>
</g></g>
<clipPath id="c5"><rect x="440" y="780.3" width="147.5" height="110.70000000000005"/></clipPath>
<g clip-path="url(#c5)">
<rect x="440" y="780.3" width="147.5" height="110.70000000000005" fill="#cfe698"/>
<g transform="translate(438,778) scale(0.203481)">
<path d="M10,150 L120,560 L10,560Z" fill="#c2dc88" opacity="0.6"/>
<ellipse cx="400" cy="90" rx="120" ry="60" fill="#c4de8a" opacity="0.5"/>
<path d="M300,520L350,430L400,340L440,220" fill="none" stroke="#c07c88" stroke-width="5" opacity="0.8"/>
<path d="M540,500L600,420L650,330L700,300" fill="none" stroke="#c07c88" stroke-width="4" opacity="0.8"/>
<path d="M480,260L520,150L560,100" fill="none" stroke="#c07c88" stroke-width="3" opacity="0.8"/>
<path d="M600,130 L630,60 L660,15" fill="none" stroke="#eef6d8" stroke-width="6"/>
<path d="M250,540 L300,430 L330,350" fill="none" stroke="#e6f0c8" stroke-width="5"/>
<path d="M462,414L468,406L481,405L485,401L485,392" fill="none" stroke="#c89098" stroke-width="2.4" stroke-linecap="round" stroke-linejoin="round" opacity="0.5"/>
<path d="M286,66L291,72L287,84L293,95L304,97" fill="none" stroke="#c89098" stroke-width="1.6" stroke-linecap="round" stroke-linejoin="round" opacity="0.5"/>
<path d="M11,485L6,489L6,497" fill="none" stroke="#c89098" stroke-width="1.7" stroke-linecap="round" stroke-linejoin="round" opacity="0.5"/>
<path d="M645,351L659,357L664,358L678,357L685,352" fill="none" stroke="#c89098" stroke-width="2.3" stroke-linecap="round" stroke-linejoin="round" opacity="0.5"/>
<path d="M435,335L426,325L421,319" fill="none" stroke="#c89098" stroke-width="2.0" stroke-linecap="round" stroke-linejoin="round" opacity="0.5"/>
<path d="M521,41L526,48L534,55" fill="none" stroke="#c89098" stroke-width="1.9" stroke-linecap="round" stroke-linejoin="round" opacity="0.5"/>
<path d="M283,468L276,481L279,493L268,503L264,511" fill="none" stroke="#c89098" stroke-width="2.0" stroke-linecap="round" stroke-linejoin="round" opacity="0.5"/>
<path d="M572,69L576,65L582,67L593,67" fill="none" stroke="#c89098" stroke-width="2.4" stroke-linecap="round" stroke-linejoin="round" opacity="0.5"/>
<path d="M256,514L250,508L249,497L252,490" fill="none" stroke="#c89098" stroke-width="2.0" stroke-linecap="round" stroke-linejoin="round" opacity="0.5"/>
<path d="M532,54L521,60L516,66L511,69" fill="none" stroke="#c89098" stroke-width="2.5" stroke-linecap="round" stroke-linejoin="round" opacity="0.5"/>
<path d="M473,447L477,458L470,467" fill="none" stroke="#c89098" stroke-width="2.3" stroke-linecap="round" stroke-linejoin="round" opacity="0.5"/>
<path d="M87,247L96,251L95,264L86,268" fill="none" stroke="#c89098" stroke-width="2.0" stroke-linecap="round" stroke-linejoin="round" opacity="0.5"/>
<path d="M539,271L533,273L524,269L510,274" fill="none" stroke="#c89098" stroke-width="2.4" stroke-linecap="round" stroke-linejoin="round" opacity="0.5"/>
<path d="M141,278L136,271L137,258L143,248L151,245" fill="none" stroke="#c89098" stroke-width="2.2" stroke-linecap="round" stroke-linejoin="round" opacity="0.5"/>
<path d="M214,275L222,263L224,256L233,252L241,254" fill="none" stroke="#c89098" stroke-width="1.8" stroke-linecap="round" stroke-linejoin="round" opacity="0.5"/>
<path d="M219,283L211,275L207,262L199,251" fill="none" stroke="#c89098" stroke-width="2.4" stroke-linecap="round" stroke-linejoin="round" opacity="0.5"/>
<path d="M509,542L515,529L513,520L517,514L512,503" fill="none" stroke="#c89098" stroke-width="1.9" stroke-linecap="round" stroke-linejoin="round" opacity="0.5"/>
<path d="M457,520L447,524L441,520L442,513" fill="none" stroke="#c89098" stroke-width="2.1" stroke-linecap="round" stroke-linejoin="round" opacity="0.5"/>
<path d="M462,109L464,103L467,97" fill="none" stroke="#c89098" stroke-width="1.6" stroke-linecap="round" stroke-linejoin="round" opacity="0.5"/>
<path d="M107,183L110,192L117,201" fill="none" stroke="#c89098" stroke-width="1.6" stroke-linecap="round" stroke-linejoin="round" opacity="0.5"/>
<path d="M158,401L154,408L152,414L144,417" fill="none" stroke="#c89098" stroke-width="1.5" stroke-linecap="round" stroke-linejoin="round" opacity="0.5"/>
<path d="M455,62L453,54L450,49L442,41" fill="none" stroke="#c89098" stroke-width="2.0" stroke-linecap="round" stroke-linejoin="round" opacity="0.5"/>
<path d="M349,95L335,90L328,85L328,80" fill="none" stroke="#c89098" stroke-width="1.6" stroke-linecap="round" stroke-linejoin="round" opacity="0.5"/>
<path d="M420,345L418,356L417,370L417,380L412,388" fill="none" stroke="#c89098" stroke-width="2.4" stroke-linecap="round" stroke-linejoin="round" opacity="0.5"/>
<path d="M125,334L125,325L118,312L114,305" fill="none" stroke="#c89098" stroke-width="2.0" stroke-linecap="round" stroke-linejoin="round" opacity="0.5"/>
<path d="M98,349L98,355L99,365L99,372" fill="none" stroke="#c89098" stroke-width="2.0" stroke-linecap="round" stroke-linejoin="round" opacity="0.5"/>
<path d="M37,277L44,279L53,283L61,291L62,297" fill="none" stroke="#c89098" stroke-width="2.3" stroke-linecap="round" stroke-linejoin="round" opacity="0.5"/>
<path d="M228,301L223,303L215,312L209,312" fill="none" stroke="#c89098" stroke-width="1.5" stroke-linecap="round" stroke-linejoin="round" opacity="0.5"/>
<path d="M411,384L415,387L416,397L415,409L411,418" fill="none" stroke="#c89098" stroke-width="2.4" stroke-linecap="round" stroke-linejoin="round" opacity="0.5"/>
<path d="M289,224L299,224L306,229" fill="none" stroke="#c89098" stroke-width="1.5" stroke-linecap="round" stroke-linejoin="round" opacity="0.5"/>
<path d="M575,327L577,321L580,311L582,303" fill="none" stroke="#c89098" stroke-width="1.7" stroke-linecap="round" stroke-linejoin="round" opacity="0.5"/>
<path d="M435,452L441,452L446,438" fill="none" stroke="#c89098" stroke-width="1.8" stroke-linecap="round" stroke-linejoin="round" opacity="0.5"/>
<path d="M321,47L323,61L331,69L327,80" fill="none" stroke="#c89098" stroke-width="1.6" stroke-linecap="round" stroke-linejoin="round" opacity="0.5"/>
<path d="M222,510L235,513L240,507L248,500L256,499" fill="none" stroke="#c89098" stroke-width="2.1" stroke-linecap="round" stroke-linejoin="round" opacity="0.5"/>
<path d="M96,227L89,223L83,215" fill="none" stroke="#c89098" stroke-width="2.4" stroke-linecap="round" stroke-linejoin="round" opacity="0.5"/>
<path d="M281,40L279,29L270,17" fill="none" stroke="#c89098" stroke-width="2.0" stroke-linecap="round" stroke-linejoin="round" opacity="0.5"/>
<path d="M170,44L170,51L176,58L177,64" fill="none" stroke="#c89098" stroke-width="2.2" stroke-linecap="round" stroke-linejoin="round" opacity="0.5"/>
<path d="M485,56L488,47L491,38" fill="none" stroke="#c89098" stroke-width="2.0" stroke-linecap="round" stroke-linejoin="round" opacity="0.5"/>
<path d="M708,69L704,65L690,66L683,64L671,72" fill="none" stroke="#c89098" stroke-width="2.2" stroke-linecap="round" stroke-linejoin="round" opacity="0.5"/>
<path d="M605,86L605,78L616,72L624,74" fill="none" stroke="#c89098" stroke-width="2.2" stroke-linecap="round" stroke-linejoin="round" opacity="0.5"/>
</g></g>
<clipPath id="c6"><rect x="597.5" y="780.3" width="147.5" height="110.70000000000005"/></clipPath>
<g clip-path="url(#c6)">
<rect x="597.5" y="780.3" width="147.5" height="110.70000000000005" fill="#d4eb9e"/>
<g transform="translate(595,778) scale(0.203481)">
<path d="M15,200L100,180L200,150L280,110" fill="none" stroke="#eef4dc" stroke-width="6"/>
<path d="M15,270L150,250L240,210" fill="none" stroke="#eef4dc" stroke-width="5"/>
<path d="M470,380L550,300L600,220L700,200" fill="none" stroke="#eef4dc" stroke-width="5"/>
<path d="M380,320L420,290" fill="none" stroke="#eef4dc" stroke-width="6"/>
<path d="M560,230L620,205L700,195" fill="none" stroke="#eef4dc" stroke-width="5"/>
<ellipse cx="640" cy="300" rx="90" ry="80" fill="#cce090" opacity="0.5"/>
<path d="M730,15 L640,70 L540,120 L470,180 L440,220 L415,280 L440,290 L470,250 L480,210 L560,140 L660,60 L730,30" fill="#d8d8a0" opacity="0.4"/>
<path d="M730,15 L640,70 L540,120 L470,180 L440,220 L415,280 M415,280 L450,285 L470,250 L480,210 L560,140 L660,60 L735,30" fill="none" stroke="#bc6e86" stroke-width="6" stroke-linejoin="round" opacity="0.9"/>
<path d="M585,458L583,464L575,476L567,480" fill="none" stroke="#c89098" stroke-width="1.5" stroke-linecap="round" stroke-linejoin="round" opacity="0.5"/>
<path d="M364,118L369,114L379,108L391,108L396,109" fill="none" stroke="#c89098" stroke-width="1.9" stroke-linecap="round" stroke-linejoin="round" opacity="0.5"/>
<path d="M728,207L723,211L722,222L727,236" fill="none" stroke="#c89098" stroke-width="2.1" stroke-linecap="round" stroke-linejoin="round" opacity="0.5"/>
<path d="M156,367L148,376L136,380" fill="none" stroke="#c89098" stroke-width="2.5" stroke-linecap="round" stroke-linejoin="round" opacity="0.5"/>
<path d="M31,207L25,205L13,202L3,206" fill="none" stroke="#c89098" stroke-width="1.8" stroke-linecap="round" stroke-linejoin="round" opacity="0.5"/>
<path d="M531,217L542,226L544,231L542,236L544,249" fill="none" stroke="#c89098" stroke-width="2.1" stroke-linecap="round" stroke-linejoin="round" opacity="0.5"/>
<path d="M232,216L222,218L217,228" fill="none" stroke="#c89098" stroke-width="2.5" stroke-linecap="round" stroke-linejoin="round" opacity="0.5"/>
<path d="M80,250L91,247L98,253" fill="none" stroke="#c89098" stroke-width="2.3" stroke-linecap="round" stroke-linejoin="round" opacity="0.5"/>
<path d="M587,292L575,284L563,286L552,289L548,285" fill="none" stroke="#c89098" stroke-width="2.0" stroke-linecap="round" stroke-linejoin="round" opacity="0.5"/>
<path d="M192,447L199,459L207,464L209,475L216,482" fill="none" stroke="#c89098" stroke-width="2.0" stroke-linecap="round" stroke-linejoin="round" opacity="0.5"/>
<path d="M113,216L114,227L102,234L94,242" fill="none" stroke="#c89098" stroke-width="1.8" stroke-linecap="round" stroke-linejoin="round" opacity="0.5"/>
<path d="M299,276L303,266L310,265L321,268" fill="none" stroke="#c89098" stroke-width="2.2" stroke-linecap="round" stroke-linejoin="round" opacity="0.5"/>
<path d="M279,546L276,552L264,552L252,554L243,548" fill="none" stroke="#c89098" stroke-width="2.0" stroke-linecap="round" stroke-linejoin="round" opacity="0.5"/>
<path d="M83,207L90,210L98,201L104,200L115,195" fill="none" stroke="#c89098" stroke-width="1.6" stroke-linecap="round" stroke-linejoin="round" opacity="0.5"/>
<path d="M32,311L21,311L10,319" fill="none" stroke="#c89098" stroke-width="2.2" stroke-linecap="round" stroke-linejoin="round" opacity="0.5"/>
<path d="M372,21L375,12L382,6" fill="none" stroke="#c89098" stroke-width="1.8" stroke-linecap="round" stroke-linejoin="round" opacity="0.5"/>
<path d="M527,45L524,31L511,26L497,28" fill="none" stroke="#c89098" stroke-width="1.9" stroke-linecap="round" stroke-linejoin="round" opacity="0.5"/>
<path d="M679,27L685,35L692,34L696,31L707,38" fill="none" stroke="#c89098" stroke-width="2.4" stroke-linecap="round" stroke-linejoin="round" opacity="0.5"/>
<path d="M518,197L524,204L536,205L542,207L557,207" fill="none" stroke="#c89098" stroke-width="1.7" stroke-linecap="round" stroke-linejoin="round" opacity="0.5"/>
<path d="M523,110L524,101L520,95L515,82L511,77" fill="none" stroke="#c89098" stroke-width="1.8" stroke-linecap="round" stroke-linejoin="round" opacity="0.5"/>
<path d="M184,322L184,309L191,302L186,290L182,277" fill="none" stroke="#c89098" stroke-width="1.6" stroke-linecap="round" stroke-linejoin="round" opacity="0.5"/>
<path d="M179,306L185,293L180,283L176,278" fill="none" stroke="#c89098" stroke-width="1.5" stroke-linecap="round" stroke-linejoin="round" opacity="0.5"/>
<path d="M560,72L562,62L557,57" fill="none" stroke="#c89098" stroke-width="1.9" stroke-linecap="round" stroke-linejoin="round" opacity="0.5"/>
<path d="M564,385L575,380L581,383" fill="none" stroke="#c89098" stroke-width="2.2" stroke-linecap="round" stroke-linejoin="round" opacity="0.5"/>
<path d="M97,71L102,73L108,87" fill="none" stroke="#c89098" stroke-width="1.9" stroke-linecap="round" stroke-linejoin="round" opacity="0.5"/>
<path d="M524,149L517,160L518,171L527,181L529,196" fill="none" stroke="#c89098" stroke-width="2.2" stroke-linecap="round" stroke-linejoin="round" opacity="0.5"/>
<path d="M506,433L511,440L512,448L508,455L502,460" fill="none" stroke="#c89098" stroke-width="2.2" stroke-linecap="round" stroke-linejoin="round" opacity="0.5"/>
<path d="M714,197L717,194L723,193L731,195" fill="none" stroke="#c89098" stroke-width="1.6" stroke-linecap="round" stroke-linejoin="round" opacity="0.5"/>
<path d="M314,109L319,117L325,129L322,135" fill="none" stroke="#c89098" stroke-width="1.8" stroke-linecap="round" stroke-linejoin="round" opacity="0.5"/>
<path d="M34,423L43,434L43,444" fill="none" stroke="#c89098" stroke-width="1.6" stroke-linecap="round" stroke-linejoin="round" opacity="0.5"/>
<path d="M440,268L450,266L456,269L462,276L463,285" fill="none" stroke="#c89098" stroke-width="2.4" stroke-linecap="round" stroke-linejoin="round" opacity="0.5"/>
<path d="M18,238L16,251L17,256L21,261" fill="none" stroke="#c89098" stroke-width="2.1" stroke-linecap="round" stroke-linejoin="round" opacity="0.5"/>
<path d="M567,515L579,519L580,526L576,529" fill="none" stroke="#c89098" stroke-width="2.0" stroke-linecap="round" stroke-linejoin="round" opacity="0.5"/>
<path d="M712,512L723,513L730,522L729,528" fill="none" stroke="#c89098" stroke-width="1.6" stroke-linecap="round" stroke-linejoin="round" opacity="0.5"/>
<path d="M89,339L95,330L107,326" fill="none" stroke="#c89098" stroke-width="2.5" stroke-linecap="round" stroke-linejoin="round" opacity="0.5"/>
<path d="M73,464L71,458L74,444" fill="none" stroke="#c89098" stroke-width="1.7" stroke-linecap="round" stroke-linejoin="round" opacity="0.5"/>
<path d="M143,353L155,354L159,358L158,365L158,372" fill="none" stroke="#c89098" stroke-width="1.8" stroke-linecap="round" stroke-linejoin="round" opacity="0.5"/>
<path d="M201,47L205,44L214,49" fill="none" stroke="#c89098" stroke-width="1.6" stroke-linecap="round" stroke-linejoin="round" opacity="0.5"/>
<path d="M209,403L204,414L198,416L189,413L182,403" fill="none" stroke="#c89098" stroke-width="2.3" stroke-linecap="round" stroke-linejoin="round" opacity="0.5"/>
<path d="M696,494L707,503L706,509L704,516" fill="none" stroke="#c89098" stroke-width="2.0" stroke-linecap="round" stroke-linejoin="round" opacity="0.5"/>
<path d="M299,118L292,117L284,115" fill="none" stroke="#c89098" stroke-width="2.0" stroke-linecap="round" stroke-linejoin="round" opacity="0.5"/>
<path d="M651,257L660,262L674,261L679,270L677,280" fill="none" stroke="#c89098" stroke-width="1.8" stroke-linecap="round" stroke-linejoin="round" opacity="0.5"/>
<path d="M622,185L623,178L614,170L609,157L599,151" fill="none" stroke="#c89098" stroke-width="2.1" stroke-linecap="round" stroke-linejoin="round" opacity="0.5"/>
<path d="M75,487L72,496L66,504" fill="none" stroke="#c89098" stroke-width="2.4" stroke-linecap="round" stroke-linejoin="round" opacity="0.5"/>
<path d="M461,77L448,72L439,74L431,87" fill="none" stroke="#c89098" stroke-width="1.6" stroke-linecap="round" stroke-linejoin="round" opacity="0.5"/>
</g></g>
<clipPath id="c7"><rect x="440" y="898.5" width="147.5" height="104.5"/></clipPath>
<g clip-path="url(#c7)">
<rect x="440" y="898.5" width="147.5" height="104.5" fill="#d3e99e"/>
<g transform="translate(438,896) scale(0.203481)">
<path d="M245,88L254,83L260,86L267,82L271,73" fill="none" stroke="#c87896" stroke-width="2.6" stroke-linecap="round" stroke-linejoin="round" opacity="0.75"/>
<path d="M433,42L442,33L444,27" fill="none" stroke="#c87896" stroke-width="2.7" stroke-linecap="round" stroke-linejoin="round" opacity="0.75"/>
<path d="M234,434L228,436L218,433L210,428L201,421" fill="none" stroke="#c87896" stroke-width="3.4" stroke-linecap="round" stroke-linejoin="round" opacity="0.75"/>
<path d="M140,416L129,420L121,430L122,439" fill="none" stroke="#c87896" stroke-width="4.0" stroke-linecap="round" stroke-linejoin="round" opacity="0.75"/>
<path d="M120,264L116,252L108,244L103,235L95,226" fill="none" stroke="#c87896" stroke-width="4.4" stroke-linecap="round" stroke-linejoin="round" opacity="0.75"/>
<path d="M354,355L352,344L350,333L355,327L363,328" fill="none" stroke="#c87896" stroke-width="3.7" stroke-linecap="round" stroke-linejoin="round" opacity="0.75"/>
<path d="M368,123L364,111L355,109L343,105" fill="none" stroke="#c87896" stroke-width="4.1" stroke-linecap="round" stroke-linejoin="round" opacity="0.75"/>
<path d="M119,102L115,107L114,113L112,123" fill="none" stroke="#c87896" stroke-width="3.1" stroke-linecap="round" stroke-linejoin="round" opacity="0.75"/>
<path d="M101,457L88,458L77,451L75,443L72,438" fill="none" stroke="#c87896" stroke-width="3.8" stroke-linecap="round" stroke-linejoin="round" opacity="0.75"/>
<path d="M55,45L57,51L58,60L50,67" fill="none" stroke="#c87896" stroke-width="2.6" stroke-linecap="round" stroke-linejoin="round" opacity="0.75"/>
<path d="M161,206L166,202L179,205L189,207L193,202" fill="none" stroke="#c87896" stroke-width="3.2" stroke-linecap="round" stroke-linejoin="round" opacity="0.75"/>
<path d="M202,441L213,439L221,447L231,451L241,443" fill="none" stroke="#c87896" stroke-width="3.5" stroke-linecap="round" stroke-linejoin="round" opacity="0.75"/>
<path d="M151,134L155,127L151,123" fill="none" stroke="#c87896" stroke-width="3.1" stroke-linecap="round" stroke-linejoin="round" opacity="0.75"/>
<path d="M198,370L189,360L183,357L176,358L169,365" fill="none" stroke="#c87896" stroke-width="4.3" stroke-linecap="round" stroke-linejoin="round" opacity="0.75"/>
<path d="M251,426L245,427L237,438L241,447" fill="none" stroke="#c87896" stroke-width="3.4" stroke-linecap="round" stroke-linejoin="round" opacity="0.75"/>
<path d="M111,523L112,515L108,506" fill="none" stroke="#c87896" stroke-width="3.0" stroke-linecap="round" stroke-linejoin="round" opacity="0.75"/>
<path d="M24,239L30,232L40,230" fill="none" stroke="#c87896" stroke-width="3.2" stroke-linecap="round" stroke-linejoin="round" opacity="0.75"/>
<path d="M87,301L85,311L75,320" fill="none" stroke="#c87896" stroke-width="3.4" stroke-linecap="round" stroke-linejoin="round" opacity="0.75"/>
<path d="M109,73L116,75L122,74" fill="none" stroke="#c87896" stroke-width="4.1" stroke-linecap="round" stroke-linejoin="round" opacity="0.75"/>
<path d="M194,81L191,72L201,65" fill="none" stroke="#c87896" stroke-width="2.8" stroke-linecap="round" stroke-linejoin="round" opacity="0.75"/>
<path d="M323,278L331,280L340,279L348,282" fill="none" stroke="#c87896" stroke-width="3.5" stroke-linecap="round" stroke-linejoin="round" opacity="0.75"/>
<path d="M224,510L229,513L234,513" fill="none" stroke="#c87896" stroke-width="4.1" stroke-linecap="round" stroke-linejoin="round" opacity="0.75"/>
<path d="M206,77L213,70L220,64L223,57" fill="none" stroke="#c87896" stroke-width="4.1" stroke-linecap="round" stroke-linejoin="round" opacity="0.75"/>
<path d="M143,476L147,480L146,485" fill="none" stroke="#c87896" stroke-width="4.2" stroke-linecap="round" stroke-linejoin="round" opacity="0.75"/>
<path d="M392,134L405,137L413,142" fill="none" stroke="#c87896" stroke-width="2.9" stroke-linecap="round" stroke-linejoin="round" opacity="0.75"/>
<path d="M593,527L599,529L612,531L621,523L627,515" fill="none" stroke="#c87896" stroke-width="4.2" stroke-linecap="round" stroke-linejoin="round" opacity="0.75"/>
<path d="M262,38L264,47L274,50L284,50L288,60" fill="none" stroke="#c87896" stroke-width="3.9" stroke-linecap="round" stroke-linejoin="round" opacity="0.75"/>
<path d="M43,106L49,119L51,126L45,131" fill="none" stroke="#c87896" stroke-width="3.2" stroke-linecap="round" stroke-linejoin="round" opacity="0.75"/>
<path d="M11,208L1,215L1,227" fill="none" stroke="#c87896" stroke-width="2.8" stroke-linecap="round" stroke-linejoin="round" opacity="0.75"/>
<path d="M22,367L22,361L13,355L14,347L14,342" fill="none" stroke="#c87896" stroke-width="2.5" stroke-linecap="round" stroke-linejoin="round" opacity="0.75"/>
<path d="M395,137L386,134L376,130" fill="none" stroke="#c87896" stroke-width="2.6" stroke-linecap="round" stroke-linejoin="round" opacity="0.75"/>
<path d="M544,141L540,146L532,151L526,149L524,142" fill="none" stroke="#c87896" stroke-width="2.6" stroke-linecap="round" stroke-linejoin="round" opacity="0.75"/>
<path d="M251,349L245,351L239,360" fill="none" stroke="#c87896" stroke-width="3.9" stroke-linecap="round" stroke-linejoin="round" opacity="0.75"/>
<path d="M163,312L154,321L144,329L137,331" fill="none" stroke="#c87896" stroke-width="4.3" stroke-linecap="round" stroke-linejoin="round" opacity="0.75"/>
<path d="M362,23L351,26L344,30L342,38" fill="none" stroke="#c87896" stroke-width="3.1" stroke-linecap="round" stroke-linejoin="round" opacity="0.75"/>
<path d="M152,16L155,30L155,38" fill="none" stroke="#c87896" stroke-width="3.4" stroke-linecap="round" stroke-linejoin="round" opacity="0.75"/>
<path d="M209,35L214,31L222,35L234,34" fill="none" stroke="#c87896" stroke-width="4.1" stroke-linecap="round" stroke-linejoin="round" opacity="0.75"/>
<path d="M308,330L304,317L295,314L287,314" fill="none" stroke="#c87896" stroke-width="4.0" stroke-linecap="round" stroke-linejoin="round" opacity="0.75"/>
<path d="M228,300L238,300L245,307" fill="none" stroke="#c87896" stroke-width="3.4" stroke-linecap="round" stroke-linejoin="round" opacity="0.75"/>
<path d="M251,405L245,410L246,417" fill="none" stroke="#c87896" stroke-width="3.0" stroke-linecap="round" stroke-linejoin="round" opacity="0.75"/>
<path d="M283,186L290,193L295,205L301,208" fill="none" stroke="#c87896" stroke-width="3.0" stroke-linecap="round" stroke-linejoin="round" opacity="0.75"/>
<path d="M625,464L634,473L630,482L638,492L634,501" fill="none" stroke="#c87896" stroke-width="3.4" stroke-linecap="round" stroke-linejoin="round" opacity="0.75"/>
<path d="M120,515L129,507L136,500L131,489L120,482" fill="none" stroke="#c87896" stroke-width="3.8" stroke-linecap="round" stroke-linejoin="round" opacity="0.75"/>
<path d="M230,77L230,71L223,59L216,57L213,53" fill="none" stroke="#c87896" stroke-width="3.6" stroke-linecap="round" stroke-linejoin="round" opacity="0.75"/>
<path d="M407,25L397,27L389,25" fill="none" stroke="#c87896" stroke-width="3.0" stroke-linecap="round" stroke-linejoin="round" opacity="0.75"/>
<path d="M35,186L27,186L23,182" fill="none" stroke="#c87896" stroke-width="3.5" stroke-linecap="round" stroke-linejoin="round" opacity="0.75"/>
<path d="M155,408L148,405L148,396L142,391" fill="none" stroke="#c87896" stroke-width="3.3" stroke-linecap="round" stroke-linejoin="round" opacity="0.75"/>
<path d="M113,37L102,34L100,21L97,15L102,5" fill="none" stroke="#c87896" stroke-width="2.6" stroke-linecap="round" stroke-linejoin="round" opacity="0.75"/>
<path d="M250,98L251,111L249,123L251,134" fill="none" stroke="#c87896" stroke-width="3.1" stroke-linecap="round" stroke-linejoin="round" opacity="0.75"/>
<path d="M152,292L147,292L135,297L130,295L126,300" fill="none" stroke="#c87896" stroke-width="4.3" stroke-linecap="round" stroke-linejoin="round" opacity="0.75"/>
<path d="M196,399L194,412L204,419L210,431" fill="none" stroke="#c87896" stroke-width="3.1" stroke-linecap="round" stroke-linejoin="round" opacity="0.75"/>
<path d="M88,382L99,377L102,368L91,360" fill="none" stroke="#c87896" stroke-width="3.1" stroke-linecap="round" stroke-linejoin="round" opacity="0.75"/>
<path d="M126,222L114,229L101,224L96,225L92,233" fill="none" stroke="#c87896" stroke-width="3.9" stroke-linecap="round" stroke-linejoin="round" opacity="0.75"/>
<path d="M334,132L324,131L316,122L315,115L310,109" fill="none" stroke="#c87896" stroke-width="3.0" stroke-linecap="round" stroke-linejoin="round" opacity="0.75"/>
<path d="M199,238L191,245L188,253L178,253" fill="none" stroke="#c87896" stroke-width="3.0" stroke-linecap="round" stroke-linejoin="round" opacity="0.75"/>
<path d="M619,485L627,493L627,499" fill="none" stroke="#c87896" stroke-width="2.7" stroke-linecap="round" stroke-linejoin="round" opacity="0.75"/>
<path d="M382,102L387,100L398,99L404,93L403,87" fill="none" stroke="#c87896" stroke-width="3.0" stroke-linecap="round" stroke-linejoin="round" opacity="0.75"/>
<path d="M18,180L23,181L33,182L45,181" fill="none" stroke="#c87896" stroke-width="3.8" stroke-linecap="round" stroke-linejoin="round" opacity="0.75"/>
<path d="M122,288L117,293L114,307L116,316" fill="none" stroke="#c87896" stroke-width="3.2" stroke-linecap="round" stroke-linejoin="round" opacity="0.75"/>
<path d="M317,437L323,436L326,430L334,427" fill="none" stroke="#c87896" stroke-width="3.6" stroke-linecap="round" stroke-linejoin="round" opacity="0.75"/>
<path d="M262,94L274,99L274,106L285,114" fill="none" stroke="#c87896" stroke-width="4.5" stroke-linecap="round" stroke-linejoin="round" opacity="0.75"/>
<path d="M300,279L296,291L301,303" fill="none" stroke="#c87896" stroke-width="4.2" stroke-linecap="round" stroke-linejoin="round" opacity="0.75"/>
<path d="M191,212L186,222L183,228" fill="none" stroke="#c87896" stroke-width="4.0" stroke-linecap="round" stroke-linejoin="round" opacity="0.75"/>
<path d="M353,66L344,63L340,60" fill="none" stroke="#c87896" stroke-width="2.8" stroke-linecap="round" stroke-linejoin="round" opacity="0.75"/>
<path d="M68,401L62,402L51,401" fill="none" stroke="#c87896" stroke-width="2.7" stroke-linecap="round" stroke-linejoin="round" opacity="0.75"/>
<path d="M105,471L114,463L116,450" fill="none" stroke="#c87896" stroke-width="3.7" stroke-linecap="round" stroke-linejoin="round" opacity="0.75"/>
<path d="M193,178L194,169L200,166L205,158" fill="none" stroke="#c87896" stroke-width="3.1" stroke-linecap="round" stroke-linejoin="round" opacity="0.75"/>
<path d="M37,105L42,99L50,98L54,101L57,114" fill="none" stroke="#c87896" stroke-width="3.4" stroke-linecap="round" stroke-linejoin="round" opacity="0.75"/>
<path d="M193,289L184,277L181,270L182,261" fill="none" stroke="#c87896" stroke-width="2.9" stroke-linecap="round" stroke-linejoin="round" opacity="0.75"/>
<path d="M194,342L193,331L196,325L196,314L195,306" fill="none" stroke="#c87896" stroke-width="2.6" stroke-linecap="round" stroke-linejoin="round" opacity="0.75"/>
<path d="M364,329L370,328L377,326L387,325L394,317" fill="none" stroke="#c87896" stroke-width="3.4" stroke-linecap="round" stroke-linejoin="round" opacity="0.75"/>
<path d="M108,497L114,496L121,498" fill="none" stroke="#c87896" stroke-width="4.1" stroke-linecap="round" stroke-linejoin="round" opacity="0.75"/>
<path d="M130,10L135,8L140,9" fill="none" stroke="#c87896" stroke-width="3.6" stroke-linecap="round" stroke-linejoin="round" opacity="0.75"/>
<path d="M578,382L583,382L589,385L589,392L587,398" fill="none" stroke="#c87896" stroke-width="4.3" stroke-linecap="round" stroke-linejoin="round" opacity="0.75"/>
<path d="M48,341L53,335L66,337L73,330L72,317" fill="none" stroke="#c87896" stroke-width="4.2" stroke-linecap="round" stroke-linejoin="round" opacity="0.75"/>
<path d="M149,212L136,209L131,200L126,192L121,193" fill="none" stroke="#c87896" stroke-width="4.4" stroke-linecap="round" stroke-linejoin="round" opacity="0.75"/>
<path d="M180,470L181,483L185,486L198,482L203,477" fill="none" stroke="#c87896" stroke-width="2.6" stroke-linecap="round" stroke-linejoin="round" opacity="0.75"/>
<path d="M40,370L28,368L23,363L26,354L34,344" fill="none" stroke="#c87896" stroke-width="4.0" stroke-linecap="round" stroke-linejoin="round" opacity="0.75"/>
<path d="M671,402L668,397L656,396L649,400L646,404" fill="none" stroke="#c87896" stroke-width="3.0" stroke-linecap="round" stroke-linejoin="round" opacity="0.75"/>
<path d="M215,382L209,394L206,397L201,405L194,408" fill="none" stroke="#c87896" stroke-width="3.9" stroke-linecap="round" stroke-linejoin="round" opacity="0.75"/>
<path d="M76,436L86,431L86,423" fill="none" stroke="#c87896" stroke-width="2.7" stroke-linecap="round" stroke-linejoin="round" opacity="0.75"/>
<path d="M320,293L327,287L336,280L347,279L354,276" fill="none" stroke="#c87896" stroke-width="2.8" stroke-linecap="round" stroke-linejoin="round" opacity="0.75"/>
<path d="M133,238L122,237L114,232" fill="none" stroke="#c87896" stroke-width="3.0" stroke-linecap="round" stroke-linejoin="round" opacity="0.75"/>
<path d="M152,88L151,95L148,100L149,109" fill="none" stroke="#c87896" stroke-width="2.6" stroke-linecap="round" stroke-linejoin="round" opacity="0.75"/>
<path d="M113,324L117,315L126,306L136,301" fill="none" stroke="#c87896" stroke-width="4.3" stroke-linecap="round" stroke-linejoin="round" opacity="0.75"/>
<path d="M142,75L148,80L151,91L150,98L151,107" fill="none" stroke="#c87896" stroke-width="3.7" stroke-linecap="round" stroke-linejoin="round" opacity="0.75"/>
<path d="M143,350L137,349L130,351L117,348" fill="none" stroke="#c87896" stroke-width="2.9" stroke-linecap="round" stroke-linejoin="round" opacity="0.75"/>
<path d="M262,451L265,461L260,469L256,482" fill="none" stroke="#c87896" stroke-width="2.9" stroke-linecap="round" stroke-linejoin="round" opacity="0.75"/>
<path d="M99,522L104,522L112,512L121,505" fill="none" stroke="#c87896" stroke-width="3.7" stroke-linecap="round" stroke-linejoin="round" opacity="0.75"/>
<path d="M89,168L98,178L102,183" fill="none" stroke="#c87896" stroke-width="4.4" stroke-linecap="round" stroke-linejoin="round" opacity="0.75"/>
<path d="M60,425L47,422L36,423L26,416L20,412" fill="none" stroke="#c87896" stroke-width="3.6" stroke-linecap="round" stroke-linejoin="round" opacity="0.75"/>
<path d="M101,444L111,439L119,446L129,454" fill="none" stroke="#c87896" stroke-width="4.1" stroke-linecap="round" stroke-linejoin="round" opacity="0.75"/>
<path d="M270,350L259,348L246,349L242,345L241,332" fill="none" stroke="#c87896" stroke-width="4.1" stroke-linecap="round" stroke-linejoin="round" opacity="0.75"/>
<path d="M112,442L116,439L121,430" fill="none" stroke="#c87896" stroke-width="3.7" stroke-linecap="round" stroke-linejoin="round" opacity="0.75"/>
<path d="M368,121L378,120L384,116L385,106L377,101" fill="none" stroke="#c87896" stroke-width="2.8" stroke-linecap="round" stroke-linejoin="round" opacity="0.75"/>
<path d="M222,440L217,434L208,432L203,436" fill="none" stroke="#c87896" stroke-width="3.9" stroke-linecap="round" stroke-linejoin="round" opacity="0.75"/>
<path d="M102,516L114,522L118,525L123,526" fill="none" stroke="#c87896" stroke-width="2.9" stroke-linecap="round" stroke-linejoin="round" opacity="0.75"/>
<path d="M83,104L73,97L65,100L53,97L48,100" fill="none" stroke="#c87896" stroke-width="2.5" stroke-linecap="round" stroke-linejoin="round" opacity="0.75"/>
<path d="M303,45L305,36L305,30L307,23L304,19" fill="none" stroke="#c87896" stroke-width="2.5" stroke-linecap="round" stroke-linejoin="round" opacity="0.75"/>
<path d="M74,462L83,465L91,475L101,481L105,486" fill="none" stroke="#c87896" stroke-width="4.0" stroke-linecap="round" stroke-linejoin="round" opacity="0.75"/>
<path d="M223,300L225,295L222,291L225,280" fill="none" stroke="#c87896" stroke-width="3.7" stroke-linecap="round" stroke-linejoin="round" opacity="0.75"/>
<path d="M292,172L300,172L305,183L309,188" fill="none" stroke="#c87896" stroke-width="4.4" stroke-linecap="round" stroke-linejoin="round" opacity="0.75"/>
<path d="M95,506L95,494L106,489L113,487" fill="none" stroke="#c87896" stroke-width="2.6" stroke-linecap="round" stroke-linejoin="round" opacity="0.75"/>
<path d="M251,325L261,322L265,328L272,333L274,340" fill="none" stroke="#c87896" stroke-width="3.4" stroke-linecap="round" stroke-linejoin="round" opacity="0.75"/>
<path d="M124,489L134,482L144,485L156,482" fill="none" stroke="#c87896" stroke-width="4.1" stroke-linecap="round" stroke-linejoin="round" opacity="0.75"/>
<path d="M72,298L67,303L58,309L52,314L49,325" fill="none" stroke="#c87896" stroke-width="4.1" stroke-linecap="round" stroke-linejoin="round" opacity="0.75"/>
<path d="M149,104L145,115L138,118L131,112L131,103" fill="none" stroke="#c87896" stroke-width="3.4" stroke-linecap="round" stroke-linejoin="round" opacity="0.75"/>
<path d="M69,174L74,177L71,190L69,200L73,211" fill="none" stroke="#c87896" stroke-width="3.4" stroke-linecap="round" stroke-linejoin="round" opacity="0.75"/>
<path d="M709,142L711,146L720,145" fill="none" stroke="#c87896" stroke-width="3.9" stroke-linecap="round" stroke-linejoin="round" opacity="0.75"/>
<path d="M135,500L138,512L149,515L157,522L155,528" fill="none" stroke="#c87896" stroke-width="2.8" stroke-linecap="round" stroke-linejoin="round" opacity="0.75"/>
<path d="M227,318L235,321L243,321L255,320" fill="none" stroke="#c87896" stroke-width="4.3" stroke-linecap="round" stroke-linejoin="round" opacity="0.75"/>
<path d="M66,332L78,326L82,322L79,309" fill="none" stroke="#c87896" stroke-width="3.1" stroke-linecap="round" stroke-linejoin="round" opacity="0.75"/>
<path d="M180,70L186,80L188,86L185,92L183,98" fill="none" stroke="#c87896" stroke-width="3.0" stroke-linecap="round" stroke-linejoin="round" opacity="0.75"/>
<path d="M93,519L102,522L105,528L102,541L101,549" fill="none" stroke="#c87896" stroke-width="3.0" stroke-linecap="round" stroke-linejoin="round" opacity="0.75"/>
<path d="M183,213L179,218L172,223L164,229L155,237" fill="none" stroke="#c87896" stroke-width="4.4" stroke-linecap="round" stroke-linejoin="round" opacity="0.75"/>
<path d="M218,197L212,200L207,211L202,215" fill="none" stroke="#c87896" stroke-width="2.7" stroke-linecap="round" stroke-linejoin="round" opacity="0.75"/>
<path d="M73,326L81,335L83,341" fill="none" stroke="#c87896" stroke-width="3.1" stroke-linecap="round" stroke-linejoin="round" opacity="0.75"/>
<path d="M17,370L22,363L23,353" fill="none" stroke="#c87896" stroke-width="4.4" stroke-linecap="round" stroke-linejoin="round" opacity="0.75"/>
<path d="M75,223L82,225L86,232L94,234L98,237" fill="none" stroke="#c87896" stroke-width="3.5" stroke-linecap="round" stroke-linejoin="round" opacity="0.75"/>
<path d="M243,380L240,375L240,366" fill="none" stroke="#c87896" stroke-width="2.6" stroke-linecap="round" stroke-linejoin="round" opacity="0.75"/>
<path d="M74,332L69,334L67,345L70,350L73,359" fill="none" stroke="#c87896" stroke-width="3.5" stroke-linecap="round" stroke-linejoin="round" opacity="0.75"/>
<path d="M98,221L89,224L83,222" fill="none" stroke="#c87896" stroke-width="4.2" stroke-linecap="round" stroke-linejoin="round" opacity="0.75"/>
<path d="M184,184L194,192L203,188L214,196" fill="none" stroke="#c87896" stroke-width="3.0" stroke-linecap="round" stroke-linejoin="round" opacity="0.75"/>
<path d="M316,339L309,341L302,339" fill="none" stroke="#c87896" stroke-width="3.3" stroke-linecap="round" stroke-linejoin="round" opacity="0.75"/>
<path d="M298,529L305,521L307,510" fill="none" stroke="#c87896" stroke-width="3.0" stroke-linecap="round" stroke-linejoin="round" opacity="0.75"/>
<path d="M192,281L194,273L192,268L200,257" fill="none" stroke="#c87896" stroke-width="4.3" stroke-linecap="round" stroke-linejoin="round" opacity="0.75"/>
<path d="M71,317L69,324L68,332L71,337L76,348" fill="none" stroke="#c87896" stroke-width="3.7" stroke-linecap="round" stroke-linejoin="round" opacity="0.75"/>
<path d="M186,125L178,136L181,150L186,156L198,161" fill="none" stroke="#c87896" stroke-width="2.9" stroke-linecap="round" stroke-linejoin="round" opacity="0.75"/>
<path d="M51,21L46,19L38,16L34,12" fill="none" stroke="#c87896" stroke-width="3.0" stroke-linecap="round" stroke-linejoin="round" opacity="0.75"/>
<path d="M144,168L131,170L120,178L113,180L103,189" fill="none" stroke="#c87896" stroke-width="4.3" stroke-linecap="round" stroke-linejoin="round" opacity="0.75"/>
<path d="M237,332L243,327L249,319L252,305L258,298" fill="none" stroke="#c87896" stroke-width="2.7" stroke-linecap="round" stroke-linejoin="round" opacity="0.75"/>
<path d="M90,475L99,473L103,467L108,459L107,452" fill="none" stroke="#c87896" stroke-width="3.8" stroke-linecap="round" stroke-linejoin="round" opacity="0.75"/>
<path d="M124,405L122,414L122,423" fill="none" stroke="#c87896" stroke-width="4.1" stroke-linecap="round" stroke-linejoin="round" opacity="0.75"/>
<path d="M114,134L124,125L131,121L137,115L135,102" fill="none" stroke="#c87896" stroke-width="3.7" stroke-linecap="round" stroke-linejoin="round" opacity="0.75"/>
<path d="M186,213L191,223L204,223L207,218" fill="none" stroke="#c87896" stroke-width="3.3" stroke-linecap="round" stroke-linejoin="round" opacity="0.75"/>
<path d="M16,469L10,475L7,479L11,491" fill="none" stroke="#c87896" stroke-width="3.2" stroke-linecap="round" stroke-linejoin="round" opacity="0.75"/>
<path d="M188,109L191,114L190,121" fill="none" stroke="#c87896" stroke-width="2.8" stroke-linecap="round" stroke-linejoin="round" opacity="0.75"/>
<path d="M152,293L147,282L140,279L134,273" fill="none" stroke="#c87896" stroke-width="4.4" stroke-linecap="round" stroke-linejoin="round" opacity="0.75"/>
<path d="M161,504L157,517L147,518L133,522" fill="none" stroke="#c87896" stroke-width="3.6" stroke-linecap="round" stroke-linejoin="round" opacity="0.75"/>
<path d="M303,275L303,265L297,255L290,247L285,241" fill="none" stroke="#c87896" stroke-width="3.3" stroke-linecap="round" stroke-linejoin="round" opacity="0.75"/>
<path d="M243,355L238,344L227,340L221,344" fill="none" stroke="#c87896" stroke-width="4.1" stroke-linecap="round" stroke-linejoin="round" opacity="0.75"/>
<path d="M206,327L200,327L194,332L191,336" fill="none" stroke="#c87896" stroke-width="3.1" stroke-linecap="round" stroke-linejoin="round" opacity="0.75"/>
<path d="M325,366L330,363L340,367L345,362L344,350" fill="none" stroke="#c87896" stroke-width="2.9" stroke-linecap="round" stroke-linejoin="round" opacity="0.75"/>
<path d="M673,400L681,393L683,383L680,370" fill="none" stroke="#c87896" stroke-width="3.4" stroke-linecap="round" stroke-linejoin="round" opacity="0.75"/>
<path d="M147,505L135,499L128,492" fill="none" stroke="#c87896" stroke-width="3.0" stroke-linecap="round" stroke-linejoin="round" opacity="0.75"/>
<path d="M53,196L63,200L72,204L75,207" fill="none" stroke="#c87896" stroke-width="3.9" stroke-linecap="round" stroke-linejoin="round" opacity="0.75"/>
<path d="M106,343L117,343L128,338L139,334L144,325" fill="none" stroke="#c87896" stroke-width="3.7" stroke-linecap="round" stroke-linejoin="round" opacity="0.75"/>
<path d="M93,160L88,166L90,174" fill="none" stroke="#c87896" stroke-width="4.4" stroke-linecap="round" stroke-linejoin="round" opacity="0.75"/>
<path d="M127,241L131,245L126,256L132,265L127,274" fill="none" stroke="#c87896" stroke-width="2.7" stroke-linecap="round" stroke-linejoin="round" opacity="0.75"/>
<path d="M111,24L114,11L118,-1L122,-6" fill="none" stroke="#c87896" stroke-width="3.9" stroke-linecap="round" stroke-linejoin="round" opacity="0.75"/>
<path d="M235,331L228,327L221,322L220,315" fill="none" stroke="#c87896" stroke-width="2.6" stroke-linecap="round" stroke-linejoin="round" opacity="0.75"/>
<path d="M227,312L217,309L203,308" fill="none" stroke="#c87896" stroke-width="4.2" stroke-linecap="round" stroke-linejoin="round" opacity="0.75"/>
<path d="M358,124L364,134L368,140L371,149L375,156" fill="none" stroke="#c87896" stroke-width="3.4" stroke-linecap="round" stroke-linejoin="round" opacity="0.75"/>
<path d="M129,164L121,159L114,153L105,148" fill="none" stroke="#c87896" stroke-width="3.8" stroke-linecap="round" stroke-linejoin="round" opacity="0.75"/>
<path d="M122,219L126,226L127,236" fill="none" stroke="#c87896" stroke-width="3.3" stroke-linecap="round" stroke-linejoin="round" opacity="0.75"/>
<path d="M277,351L282,352L291,345L295,341L303,337" fill="none" stroke="#c87896" stroke-width="3.7" stroke-linecap="round" stroke-linejoin="round" opacity="0.75"/>
<path d="M297,69L304,69L312,76L324,76L330,79" fill="none" stroke="#c87896" stroke-width="3.4" stroke-linecap="round" stroke-linejoin="round" opacity="0.75"/>
<path d="M354,58L346,57L341,66L342,74" fill="none" stroke="#c87896" stroke-width="3.9" stroke-linecap="round" stroke-linejoin="round" opacity="0.75"/>
<path d="M258,407L256,398L255,389" fill="none" stroke="#c87896" stroke-width="3.5" stroke-linecap="round" stroke-linejoin="round" opacity="0.75"/>
<path d="M247,324L250,317L254,305" fill="none" stroke="#c87896" stroke-width="3.7" stroke-linecap="round" stroke-linejoin="round" opacity="0.75"/>
<path d="M92,21L86,9L90,-1" fill="none" stroke="#c87896" stroke-width="4.2" stroke-linecap="round" stroke-linejoin="round" opacity="0.75"/>
<path d="M28,527L24,524L11,526" fill="none" stroke="#c87896" stroke-width="3.9" stroke-linecap="round" stroke-linejoin="round" opacity="0.75"/>
<path d="M295,257L294,244L294,236L294,228" fill="none" stroke="#c87896" stroke-width="2.8" stroke-linecap="round" stroke-linejoin="round" opacity="0.75"/>
<path d="M360,128L359,122L359,114L356,106L347,100" fill="none" stroke="#c87896" stroke-width="3.6" stroke-linecap="round" stroke-linejoin="round" opacity="0.75"/>
<path d="M704,526L700,514L701,504" fill="none" stroke="#c87896" stroke-width="3.2" stroke-linecap="round" stroke-linejoin="round" opacity="0.75"/>
<path d="M214,424L216,410L214,402L219,396L230,396" fill="none" stroke="#c87896" stroke-width="3.2" stroke-linecap="round" stroke-linejoin="round" opacity="0.75"/>
<path d="M159,472L152,475L150,481L151,488" fill="none" stroke="#c87896" stroke-width="4.0" stroke-linecap="round" stroke-linejoin="round" opacity="0.75"/>
<path d="M678,313L684,320L681,330L671,339L663,338" fill="none" stroke="#c87896" stroke-width="2.9" stroke-linecap="round" stroke-linejoin="round" opacity="0.75"/>
<path d="M464,133L474,129L483,134L495,131" fill="none" stroke="#c87896" stroke-width="4.4" stroke-linecap="round" stroke-linejoin="round" opacity="0.75"/>
<path d="M146,289L139,288L131,280" fill="none" stroke="#c87896" stroke-width="3.3" stroke-linecap="round" stroke-linejoin="round" opacity="0.75"/>
<path d="M502,186L502,196L493,207" fill="none" stroke="#c87896" stroke-width="3.3" stroke-linecap="round" stroke-linejoin="round" opacity="0.75"/>
<path d="M692,464L686,464L675,461L669,461L666,466" fill="none" stroke="#c87896" stroke-width="4.0" stroke-linecap="round" stroke-linejoin="round" opacity="0.75"/>
<path d="M75,433L72,428L79,420L80,409L86,403" fill="none" stroke="#c87896" stroke-width="2.6" stroke-linecap="round" stroke-linejoin="round" opacity="0.75"/>
<path d="M394,152L385,144L372,139" fill="none" stroke="#c87896" stroke-width="3.0" stroke-linecap="round" stroke-linejoin="round" opacity="0.75"/>
<path d="M559,57L563,62L562,70" fill="none" stroke="#c87896" stroke-width="3.7" stroke-linecap="round" stroke-linejoin="round" opacity="0.75"/>
<path d="M264,379L271,375L280,376" fill="none" stroke="#c87896" stroke-width="3.1" stroke-linecap="round" stroke-linejoin="round" opacity="0.75"/>
<path d="M57,346L58,337L65,333" fill="none" stroke="#c87896" stroke-width="3.8" stroke-linecap="round" stroke-linejoin="round" opacity="0.75"/>
<path d="M634,26L628,22L625,11" fill="none" stroke="#c87896" stroke-width="3.1" stroke-linecap="round" stroke-linejoin="round" opacity="0.75"/>
<path d="M124,459L118,464L113,472" fill="none" stroke="#c87896" stroke-width="4.3" stroke-linecap="round" stroke-linejoin="round" opacity="0.75"/>
<path d="M127,365L125,377L115,383L115,395L117,403" fill="none" stroke="#c87896" stroke-width="2.8" stroke-linecap="round" stroke-linejoin="round" opacity="0.75"/>
<path d="M120,485L116,488L114,499L121,504L119,516" fill="none" stroke="#c87896" stroke-width="4.3" stroke-linecap="round" stroke-linejoin="round" opacity="0.75"/>
<path d="M584,369L573,366L569,362" fill="none" stroke="#c87896" stroke-width="4.3" stroke-linecap="round" stroke-linejoin="round" opacity="0.75"/>
<path d="M714,283L724,289L729,293L738,295L741,302" fill="none" stroke="#c87896" stroke-width="2.9" stroke-linecap="round" stroke-linejoin="round" opacity="0.75"/>
<path d="M208,102L213,101L226,106" fill="none" stroke="#c87896" stroke-width="3.0" stroke-linecap="round" stroke-linejoin="round" opacity="0.75"/>
<path d="M246,32L238,42L226,43L219,45" fill="none" stroke="#c87896" stroke-width="3.3" stroke-linecap="round" stroke-linejoin="round" opacity="0.75"/>
<path d="M14,326L6,338L-5,340L-8,350L-1,358" fill="none" stroke="#c87896" stroke-width="3.3" stroke-linecap="round" stroke-linejoin="round" opacity="0.75"/>
<path d="M258,294L266,292L270,279L268,269L271,264" fill="none" stroke="#c87896" stroke-width="4.1" stroke-linecap="round" stroke-linejoin="round" opacity="0.75"/>
<path d="M200,447L196,453L200,466L203,475L205,488" fill="none" stroke="#c87896" stroke-width="3.0" stroke-linecap="round" stroke-linejoin="round" opacity="0.75"/>
<path d="M135,437L136,432L135,420L139,415L138,408" fill="none" stroke="#c87896" stroke-width="2.7" stroke-linecap="round" stroke-linejoin="round" opacity="0.75"/>
<path d="M338,56L345,47L351,45L355,43L358,34" fill="none" stroke="#c87896" stroke-width="3.8" stroke-linecap="round" stroke-linejoin="round" opacity="0.75"/>
<path d="M193,299L201,308L208,310L220,307L223,296" fill="none" stroke="#c87896" stroke-width="4.2" stroke-linecap="round" stroke-linejoin="round" opacity="0.75"/>
<path d="M156,230L158,219L158,213L164,201" fill="none" stroke="#c87896" stroke-width="3.4" stroke-linecap="round" stroke-linejoin="round" opacity="0.75"/>
<path d="M68,242L63,241L54,239L42,236L32,236" fill="none" stroke="#c87896" stroke-width="4.3" stroke-linecap="round" stroke-linejoin="round" opacity="0.75"/>
<path d="M301,31L298,26L292,24L290,19" fill="none" stroke="#c87896" stroke-width="2.7" stroke-linecap="round" stroke-linejoin="round" opacity="0.75"/>
<path d="M556,303L547,295L539,286L540,280L539,274" fill="none" stroke="#c87896" stroke-width="3.8" stroke-linecap="round" stroke-linejoin="round" opacity="0.75"/>
<path d="M145,290L158,290L167,291L173,290" fill="none" stroke="#c87896" stroke-width="3.1" stroke-linecap="round" stroke-linejoin="round" opacity="0.75"/>
<path d="M196,115L193,105L194,98L202,96" fill="none" stroke="#c87896" stroke-width="3.4" stroke-linecap="round" stroke-linejoin="round" opacity="0.75"/>
<path d="M328,114L341,111L353,105L354,97L356,92" fill="none" stroke="#c87896" stroke-width="4.2" stroke-linecap="round" stroke-linejoin="round" opacity="0.75"/>
<path d="M62,320L69,321L78,314L90,314L97,315" fill="none" stroke="#c87896" stroke-width="4.1" stroke-linecap="round" stroke-linejoin="round" opacity="0.75"/>
<path d="M156,58L153,66L151,79L146,81" fill="none" stroke="#c87896" stroke-width="2.8" stroke-linecap="round" stroke-linejoin="round" opacity="0.75"/>
<path d="M234,144L228,149L229,158L228,164L227,170" fill="none" stroke="#c87896" stroke-width="3.4" stroke-linecap="round" stroke-linejoin="round" opacity="0.75"/>
<path d="M93,441L101,446L109,447L117,453L116,458" fill="none" stroke="#c87896" stroke-width="3.5" stroke-linecap="round" stroke-linejoin="round" opacity="0.75"/>
<path d="M74,83L81,79L87,77" fill="none" stroke="#c87896" stroke-width="2.5" stroke-linecap="round" stroke-linejoin="round" opacity="0.75"/>
<path d="M151,89L155,95L155,102L151,108" fill="none" stroke="#c87896" stroke-width="2.6" stroke-linecap="round" stroke-linejoin="round" opacity="0.75"/>
<path d="M415,60L415,54L406,50L395,47L383,47" fill="none" stroke="#c87896" stroke-width="2.7" stroke-linecap="round" stroke-linejoin="round" opacity="0.75"/>
<path d="M490,57L484,54L478,57L476,64" fill="none" stroke="#c87896" stroke-width="3.6" stroke-linecap="round" stroke-linejoin="round" opacity="0.75"/>
<path d="M245,138L252,138L258,136L261,129" fill="none" stroke="#c87896" stroke-width="4.2" stroke-linecap="round" stroke-linejoin="round" opacity="0.75"/>
<path d="M374,473L384,477L395,473L397,467" fill="none" stroke="#c87896" stroke-width="4.2" stroke-linecap="round" stroke-linejoin="round" opacity="0.75"/>
<path d="M89,306L80,302L74,292" fill="none" stroke="#c87896" stroke-width="2.6" stroke-linecap="round" stroke-linejoin="round" opacity="0.75"/>
<path d="M188,322L192,327L197,329L202,338L210,341" fill="none" stroke="#c87896" stroke-width="4.4" stroke-linecap="round" stroke-linejoin="round" opacity="0.75"/>
<path d="M117,276L112,264L112,252" fill="none" stroke="#c87896" stroke-width="2.6" stroke-linecap="round" stroke-linejoin="round" opacity="0.75"/>
<path d="M12,468L7,457L6,451L9,438" fill="none" stroke="#c87896" stroke-width="4.1" stroke-linecap="round" stroke-linejoin="round" opacity="0.75"/>
<path d="M77,383L79,395L89,401L89,414" fill="none" stroke="#c87896" stroke-width="4.0" stroke-linecap="round" stroke-linejoin="round" opacity="0.75"/>
<path d="M342,133L347,135L353,141L359,151L366,156" fill="none" stroke="#c87896" stroke-width="4.4" stroke-linecap="round" stroke-linejoin="round" opacity="0.75"/>
<path d="M176,359L176,354L177,349L168,341" fill="none" stroke="#c87896" stroke-width="3.3" stroke-linecap="round" stroke-linejoin="round" opacity="0.75"/>
<path d="M459,162L451,166L445,169L440,178L438,191" fill="none" stroke="#c87896" stroke-width="3.3" stroke-linecap="round" stroke-linejoin="round" opacity="0.75"/>
<path d="M251,88L238,89L231,92L220,87L210,79" fill="none" stroke="#c87896" stroke-width="4.4" stroke-linecap="round" stroke-linejoin="round" opacity="0.75"/>
<path d="M85,138L80,134L71,126L65,120L69,107" fill="none" stroke="#c87896" stroke-width="3.8" stroke-linecap="round" stroke-linejoin="round" opacity="0.75"/>
<path d="M65,334L73,327L86,323L91,326" fill="none" stroke="#c87896" stroke-width="3.8" stroke-linecap="round" stroke-linejoin="round" opacity="0.75"/>
<path d="M368,370L367,361L361,353L351,352L337,351" fill="none" stroke="#c87896" stroke-width="3.5" stroke-linecap="round" stroke-linejoin="round" opacity="0.75"/>
<path d="M15,497L20,510L30,514L30,525L37,535" fill="none" stroke="#c87896" stroke-width="2.6" stroke-linecap="round" stroke-linejoin="round" opacity="0.75"/>
<path d="M407,222L419,214L430,213L435,209L446,204" fill="none" stroke="#c87896" stroke-width="4.1" stroke-linecap="round" stroke-linejoin="round" opacity="0.75"/>
<path d="M262,83L265,74L274,64" fill="none" stroke="#c87896" stroke-width="3.7" stroke-linecap="round" stroke-linejoin="round" opacity="0.75"/>
<path d="M302,364L303,371L296,377L286,376" fill="none" stroke="#c87896" stroke-width="4.1" stroke-linecap="round" stroke-linejoin="round" opacity="0.75"/>
<path d="M40,440L39,447L47,453L51,463" fill="none" stroke="#c87896" stroke-width="3.3" stroke-linecap="round" stroke-linejoin="round" opacity="0.75"/>
<path d="M295,429L298,438L297,451" fill="none" stroke="#c87896" stroke-width="2.8" stroke-linecap="round" stroke-linejoin="round" opacity="0.75"/>
<path d="M256,44L246,40L236,38L224,43L213,39" fill="none" stroke="#c87896" stroke-width="2.8" stroke-linecap="round" stroke-linejoin="round" opacity="0.75"/>
<path d="M105,376L101,365L100,355L102,342" fill="none" stroke="#c87896" stroke-width="3.1" stroke-linecap="round" stroke-linejoin="round" opacity="0.75"/>
<path d="M67,22L76,23L83,29L93,38" fill="none" stroke="#c87896" stroke-width="3.7" stroke-linecap="round" stroke-linejoin="round" opacity="0.75"/>
<path d="M442,27L435,35L432,42L429,49" fill="none" stroke="#c87896" stroke-width="4.1" stroke-linecap="round" stroke-linejoin="round" opacity="0.75"/>
<path d="M162,446L156,449L149,447" fill="none" stroke="#c87896" stroke-width="3.2" stroke-linecap="round" stroke-linejoin="round" opacity="0.75"/>
<path d="M702,152L710,159L722,160L726,172" fill="none" stroke="#c87896" stroke-width="4.4" stroke-linecap="round" stroke-linejoin="round" opacity="0.75"/>
<path d="M249,523L236,527L227,521" fill="none" stroke="#c87896" stroke-width="2.9" stroke-linecap="round" stroke-linejoin="round" opacity="0.75"/>
<path d="M22,414L14,406L14,398L18,394" fill="none" stroke="#c87896" stroke-width="4.0" stroke-linecap="round" stroke-linejoin="round" opacity="0.75"/>
<path d="M511,229L504,218L494,211" fill="none" stroke="#c87896" stroke-width="3.5" stroke-linecap="round" stroke-linejoin="round" opacity="0.75"/>
<path d="M70,186L80,187L87,184" fill="none" stroke="#c87896" stroke-width="3.2" stroke-linecap="round" stroke-linejoin="round" opacity="0.75"/>
<path d="M212,434L210,422L214,417L211,411L209,403" fill="none" stroke="#c87896" stroke-width="2.5" stroke-linecap="round" stroke-linejoin="round" opacity="0.75"/>
<path d="M41,472L51,473L63,472L66,477" fill="none" stroke="#c87896" stroke-width="2.9" stroke-linecap="round" stroke-linejoin="round" opacity="0.75"/>
<path d="M267,468L273,460L284,461" fill="none" stroke="#c87896" stroke-width="4.3" stroke-linecap="round" stroke-linejoin="round" opacity="0.75"/>
<path d="M96,269L86,268L80,264" fill="none" stroke="#c87896" stroke-width="4.0" stroke-linecap="round" stroke-linejoin="round" opacity="0.75"/>
<path d="M155,10L150,10L140,8" fill="none" stroke="#c87896" stroke-width="3.3" stroke-linecap="round" stroke-linejoin="round" opacity="0.75"/>
<path d="M40,253L42,247L46,238L46,228L53,224" fill="none" stroke="#c87896" stroke-width="4.3" stroke-linecap="round" stroke-linejoin="round" opacity="0.75"/>
<path d="M62,25L69,33L69,39L78,43L87,43" fill="none" stroke="#c87896" stroke-width="2.5" stroke-linecap="round" stroke-linejoin="round" opacity="0.75"/>
<path d="M90,518L92,524L85,536" fill="none" stroke="#c87896" stroke-width="2.7" stroke-linecap="round" stroke-linejoin="round" opacity="0.75"/>
<path d="M209,171L203,160L198,161L192,170L185,177" fill="none" stroke="#c87896" stroke-width="3.4" stroke-linecap="round" stroke-linejoin="round" opacity="0.75"/>
<path d="M32,364L27,377L25,388" fill="none" stroke="#c87896" stroke-width="3.0" stroke-linecap="round" stroke-linejoin="round" opacity="0.75"/>
<path d="M228,191L241,188L250,190L261,195" fill="none" stroke="#c87896" stroke-width="4.0" stroke-linecap="round" stroke-linejoin="round" opacity="0.75"/>
<path d="M246,428L234,433L228,429L224,417" fill="none" stroke="#c87896" stroke-width="4.3" stroke-linecap="round" stroke-linejoin="round" opacity="0.75"/>
<path d="M127,286L124,277L128,267L132,262" fill="none" stroke="#c87896" stroke-width="4.0" stroke-linecap="round" stroke-linejoin="round" opacity="0.75"/>
<path d="M96,503L91,492L93,485" fill="none" stroke="#c87896" stroke-width="3.0" stroke-linecap="round" stroke-linejoin="round" opacity="0.75"/>
<path d="M30,369L26,379L19,386L11,389L10,394" fill="none" stroke="#c87896" stroke-width="2.5" stroke-linecap="round" stroke-linejoin="round" opacity="0.75"/>
<path d="M272,84L265,81L262,75L254,74L243,76" fill="none" stroke="#c87896" stroke-width="3.4" stroke-linecap="round" stroke-linejoin="round" opacity="0.75"/>
<path d="M258,443L255,437L249,431" fill="none" stroke="#c87896" stroke-width="3.7" stroke-linecap="round" stroke-linejoin="round" opacity="0.75"/>
<path d="M623,48L627,38L625,32L612,28L601,29" fill="none" stroke="#c87896" stroke-width="3.6" stroke-linecap="round" stroke-linejoin="round" opacity="0.75"/>
<path d="M172,44L180,45L186,46" fill="none" stroke="#c87896" stroke-width="3.2" stroke-linecap="round" stroke-linejoin="round" opacity="0.75"/>
<path d="M130,406L136,402L142,396L150,392L155,394" fill="none" stroke="#c87896" stroke-width="3.8" stroke-linecap="round" stroke-linejoin="round" opacity="0.75"/>
<path d="M616,132L614,142L612,150" fill="none" stroke="#c87896" stroke-width="3.5" stroke-linecap="round" stroke-linejoin="round" opacity="0.75"/>
<path d="M54,109L46,103L40,105" fill="none" stroke="#c87896" stroke-width="4.0" stroke-linecap="round" stroke-linejoin="round" opacity="0.75"/>
<path d="M391,135L388,126L384,113" fill="none" stroke="#c87896" stroke-width="4.1" stroke-linecap="round" stroke-linejoin="round" opacity="0.75"/>
<path d="M106,430L110,436L124,438L130,438" fill="none" stroke="#c87896" stroke-width="2.5" stroke-linecap="round" stroke-linejoin="round" opacity="0.75"/>
<path d="M483,278L481,288L472,295L471,303L474,316" fill="none" stroke="#c87896" stroke-width="3.1" stroke-linecap="round" stroke-linejoin="round" opacity="0.75"/>
<path d="M40,456L30,453L29,447L24,445L18,442" fill="none" stroke="#c87896" stroke-width="2.9" stroke-linecap="round" stroke-linejoin="round" opacity="0.75"/>
<path d="M301,363L303,355L313,349" fill="none" stroke="#c87896" stroke-width="3.8" stroke-linecap="round" stroke-linejoin="round" opacity="0.75"/>
<path d="M164,481L159,473L146,469L138,469" fill="none" stroke="#c87896" stroke-width="3.2" stroke-linecap="round" stroke-linejoin="round" opacity="0.75"/>
<path d="M128,441L122,433L118,426L109,421" fill="none" stroke="#c87896" stroke-width="3.0" stroke-linecap="round" stroke-linejoin="round" opacity="0.75"/>
<path d="M108,177L118,180L127,181L132,190" fill="none" stroke="#c87896" stroke-width="4.2" stroke-linecap="round" stroke-linejoin="round" opacity="0.75"/>
<path d="M85,19L78,23L66,27" fill="none" stroke="#c87896" stroke-width="4.1" stroke-linecap="round" stroke-linejoin="round" opacity="0.75"/>
<path d="M187,352L193,351L199,339L202,334L209,330" fill="none" stroke="#c87896" stroke-width="3.0" stroke-linecap="round" stroke-linejoin="round" opacity="0.75"/>
<path d="M63,395L52,403L46,408L33,410L26,403" fill="none" stroke="#c87896" stroke-width="3.1" stroke-linecap="round" stroke-linejoin="round" opacity="0.75"/>
<path d="M714,519L727,513L733,517L736,525L737,536" fill="none" stroke="#c87896" stroke-width="2.8" stroke-linecap="round" stroke-linejoin="round" opacity="0.75"/>
<path d="M171,122L176,131L176,141" fill="none" stroke="#c87896" stroke-width="3.4" stroke-linecap="round" stroke-linejoin="round" opacity="0.75"/>
<path d="M251,292L245,285L234,289L230,296" fill="none" stroke="#c87896" stroke-width="4.4" stroke-linecap="round" stroke-linejoin="round" opacity="0.75"/>
<path d="M152,408L149,421L139,425" fill="none" stroke="#c87896" stroke-width="2.9" stroke-linecap="round" stroke-linejoin="round" opacity="0.75"/>
<path d="M21,288L11,296L12,303" fill="none" stroke="#c87896" stroke-width="2.8" stroke-linecap="round" stroke-linejoin="round" opacity="0.75"/>
<path d="M137,478L148,485L147,492" fill="none" stroke="#c87896" stroke-width="3.2" stroke-linecap="round" stroke-linejoin="round" opacity="0.75"/>
<path d="M389,176L377,183L374,190L377,194" fill="none" stroke="#c87896" stroke-width="4.4" stroke-linecap="round" stroke-linejoin="round" opacity="0.75"/>
<path d="M106,461L96,470L91,473" fill="none" stroke="#c87896" stroke-width="2.8" stroke-linecap="round" stroke-linejoin="round" opacity="0.75"/>
<path d="M176,425L188,422L197,418L207,422L210,431" fill="none" stroke="#c87896" stroke-width="3.4" stroke-linecap="round" stroke-linejoin="round" opacity="0.75"/>
<path d="M20,495L19,488L17,479L18,474" fill="none" stroke="#c87896" stroke-width="3.9" stroke-linecap="round" stroke-linejoin="round" opacity="0.75"/>
<path d="M170,161L164,158L165,144L170,141L170,132" fill="none" stroke="#c87896" stroke-width="3.2" stroke-linecap="round" stroke-linejoin="round" opacity="0.75"/>
<path d="M232,413L230,419L218,422L211,424" fill="none" stroke="#c87896" stroke-width="2.7" stroke-linecap="round" stroke-linejoin="round" opacity="0.75"/>
<path d="M87,46L79,41L68,35L68,26" fill="none" stroke="#c87896" stroke-width="3.9" stroke-linecap="round" stroke-linejoin="round" opacity="0.75"/>
<path d="M74,490L72,481L72,473L63,466L60,458" fill="none" stroke="#c87896" stroke-width="2.7" stroke-linecap="round" stroke-linejoin="round" opacity="0.75"/>
<path d="M47,160L49,167L44,176" fill="none" stroke="#c87896" stroke-width="3.3" stroke-linecap="round" stroke-linejoin="round" opacity="0.75"/>
<path d="M342,297L350,302L348,313L352,321L350,333" fill="none" stroke="#c87896" stroke-width="2.8" stroke-linecap="round" stroke-linejoin="round" opacity="0.75"/>
<path d="M150,508L155,506L166,501L180,502" fill="none" stroke="#c87896" stroke-width="3.7" stroke-linecap="round" stroke-linejoin="round" opacity="0.75"/>
<path d="M237,389L230,379L233,369L223,362L215,352" fill="none" stroke="#c87896" stroke-width="4.4" stroke-linecap="round" stroke-linejoin="round" opacity="0.75"/>
<path d="M247,451L251,461L255,467L253,472" fill="none" stroke="#c87896" stroke-width="3.9" stroke-linecap="round" stroke-linejoin="round" opacity="0.75"/>
<path d="M48,473L58,476L71,477L77,470" fill="none" stroke="#c87896" stroke-width="3.2" stroke-linecap="round" stroke-linejoin="round" opacity="0.75"/>
<path d="M165,187L165,200L173,204L180,210" fill="none" stroke="#c87896" stroke-width="2.6" stroke-linecap="round" stroke-linejoin="round" opacity="0.75"/>
<path d="M733,476L724,470L716,471" fill="none" stroke="#c87896" stroke-width="3.2" stroke-linecap="round" stroke-linejoin="round" opacity="0.75"/>
<path d="M323,383L333,384L338,388L340,398L348,400" fill="none" stroke="#c87896" stroke-width="4.4" stroke-linecap="round" stroke-linejoin="round" opacity="0.75"/>
<path d="M66,227L72,230L79,235L83,241L75,253" fill="none" stroke="#c87896" stroke-width="3.6" stroke-linecap="round" stroke-linejoin="round" opacity="0.75"/>
<path d="M272,490L279,500L279,507L280,513L285,517" fill="none" stroke="#c87896" stroke-width="3.4" stroke-linecap="round" stroke-linejoin="round" opacity="0.75"/>
<path d="M32,81L23,77L18,74" fill="none" stroke="#c87896" stroke-width="2.5" stroke-linecap="round" stroke-linejoin="round" opacity="0.75"/>
<path d="M257,383L265,392L271,393L278,406" fill="none" stroke="#c87896" stroke-width="3.9" stroke-linecap="round" stroke-linejoin="round" opacity="0.75"/>
<path d="M90,250L86,254L77,252L73,255" fill="none" stroke="#c87896" stroke-width="4.1" stroke-linecap="round" stroke-linejoin="round" opacity="0.75"/>
<path d="M127,223L121,230L123,240" fill="none" stroke="#c87896" stroke-width="2.7" stroke-linecap="round" stroke-linejoin="round" opacity="0.75"/>
<path d="M211,280L207,283L193,287L186,291L180,296" fill="none" stroke="#c87896" stroke-width="3.9" stroke-linecap="round" stroke-linejoin="round" opacity="0.75"/>
<path d="M226,298L219,293L218,281L220,270L216,257" fill="none" stroke="#c87896" stroke-width="3.6" stroke-linecap="round" stroke-linejoin="round" opacity="0.75"/>
<path d="M302,105L313,100L320,97" fill="none" stroke="#c87896" stroke-width="3.5" stroke-linecap="round" stroke-linejoin="round" opacity="0.75"/>
<path d="M24,295L28,302L29,312L26,316" fill="none" stroke="#c87896" stroke-width="4.1" stroke-linecap="round" stroke-linejoin="round" opacity="0.75"/>
<path d="M59,431L67,427L74,432L80,430" fill="none" stroke="#c87896" stroke-width="4.0" stroke-linecap="round" stroke-linejoin="round" opacity="0.75"/>
<path d="M112,172L101,170L95,158" fill="none" stroke="#c87896" stroke-width="3.6" stroke-linecap="round" stroke-linejoin="round" opacity="0.75"/>
<path d="M632,211L644,203L644,198" fill="none" stroke="#c87896" stroke-width="2.7" stroke-linecap="round" stroke-linejoin="round" opacity="0.75"/>
<path d="M26,378L32,377L44,369" fill="none" stroke="#c87896" stroke-width="2.9" stroke-linecap="round" stroke-linejoin="round" opacity="0.75"/>
<path d="M98,456L93,469L81,469L77,474" fill="none" stroke="#c87896" stroke-width="2.8" stroke-linecap="round" stroke-linejoin="round" opacity="0.75"/>
<path d="M264,393L260,382L256,370L247,369L242,378" fill="none" stroke="#c87896" stroke-width="3.8" stroke-linecap="round" stroke-linejoin="round" opacity="0.75"/>
<path d="M381,87L377,81L368,74L357,81L348,79" fill="none" stroke="#c87896" stroke-width="2.5" stroke-linecap="round" stroke-linejoin="round" opacity="0.75"/>
<path d="M205,480L216,478L226,472" fill="none" stroke="#c87896" stroke-width="3.0" stroke-linecap="round" stroke-linejoin="round" opacity="0.75"/>
<path d="M70,494L76,506L78,514" fill="none" stroke="#c87896" stroke-width="4.4" stroke-linecap="round" stroke-linejoin="round" opacity="0.75"/>
<path d="M73,414L70,422L58,425" fill="none" stroke="#c87896" stroke-width="2.7" stroke-linecap="round" stroke-linejoin="round" opacity="0.75"/>
<path d="M335,202L334,191L328,184L333,172" fill="none" stroke="#c87896" stroke-width="4.5" stroke-linecap="round" stroke-linejoin="round" opacity="0.75"/>
<path d="M301,504L301,516L306,525L302,536L294,538" fill="none" stroke="#c87896" stroke-width="4.2" stroke-linecap="round" stroke-linejoin="round" opacity="0.75"/>
<path d="M332,23L328,14L331,9" fill="none" stroke="#c87896" stroke-width="3.1" stroke-linecap="round" stroke-linejoin="round" opacity="0.75"/>
<path d="M172,145L184,152L192,148L205,145L210,138" fill="none" stroke="#c87896" stroke-width="3.4" stroke-linecap="round" stroke-linejoin="round" opacity="0.75"/>
<path d="M237,41L239,28L245,25L255,26" fill="none" stroke="#c87896" stroke-width="3.3" stroke-linecap="round" stroke-linejoin="round" opacity="0.75"/>
<path d="M132,81L126,81L112,79L104,82" fill="none" stroke="#c87896" stroke-width="2.7" stroke-linecap="round" stroke-linejoin="round" opacity="0.75"/>
<path d="M372,157L366,157L361,161" fill="none" stroke="#c87896" stroke-width="3.1" stroke-linecap="round" stroke-linejoin="round" opacity="0.75"/>
<path d="M228,514L234,512L236,502" fill="none" stroke="#c87896" stroke-width="3.8" stroke-linecap="round" stroke-linejoin="round" opacity="0.75"/>
<path d="M218,62L214,66L205,76L202,86L209,91" fill="none" stroke="#c87896" stroke-width="4.3" stroke-linecap="round" stroke-linejoin="round" opacity="0.75"/>
<path d="M437,439L433,444L433,450" fill="none" stroke="#c87896" stroke-width="3.7" stroke-linecap="round" stroke-linejoin="round" opacity="0.75"/>
<path d="M289,526L290,520L295,515L294,507L299,494" fill="none" stroke="#c87896" stroke-width="4.5" stroke-linecap="round" stroke-linejoin="round" opacity="0.75"/>
<path d="M127,388L126,394L130,399L136,409" fill="none" stroke="#c87896" stroke-width="2.8" stroke-linecap="round" stroke-linejoin="round" opacity="0.75"/>
<path d="M309,293L321,286L319,273L314,263" fill="none" stroke="#c87896" stroke-width="4.2" stroke-linecap="round" stroke-linejoin="round" opacity="0.75"/>
<path d="M40,517L45,516L50,520L62,521L68,527" fill="none" stroke="#c87896" stroke-width="2.7" stroke-linecap="round" stroke-linejoin="round" opacity="0.75"/>
<path d="M323,494L314,492L313,480" fill="none" stroke="#c87896" stroke-width="4.0" stroke-linecap="round" stroke-linejoin="round" opacity="0.75"/>
<path d="M39,35L39,28L42,20" fill="none" stroke="#c87896" stroke-width="3.8" stroke-linecap="round" stroke-linejoin="round" opacity="0.75"/>
<path d="M76,479L84,483L91,487L98,488" fill="none" stroke="#c87896" stroke-width="3.8" stroke-linecap="round" stroke-linejoin="round" opacity="0.75"/>
<path d="M249,30L248,24L246,10" fill="none" stroke="#c87896" stroke-width="4.3" stroke-linecap="round" stroke-linejoin="round" opacity="0.75"/>
<path d="M82,271L76,279L73,284L64,293L65,299" fill="none" stroke="#c87896" stroke-width="3.4" stroke-linecap="round" stroke-linejoin="round" opacity="0.75"/>
<path d="M305,440L305,446L298,457" fill="none" stroke="#c87896" stroke-width="3.8" stroke-linecap="round" stroke-linejoin="round" opacity="0.75"/>
<path d="M123,463L129,462L135,450L132,444" fill="none" stroke="#c87896" stroke-width="3.7" stroke-linecap="round" stroke-linejoin="round" opacity="0.75"/>
<path d="M102,194L109,189L117,184L123,183L131,182" fill="none" stroke="#c87896" stroke-width="4.0" stroke-linecap="round" stroke-linejoin="round" opacity="0.75"/>
<path d="M190,491L187,503L192,508L203,512" fill="none" stroke="#c87896" stroke-width="4.0" stroke-linecap="round" stroke-linejoin="round" opacity="0.75"/>
<path d="M72,197L81,190L91,186L94,181" fill="none" stroke="#c87896" stroke-width="3.2" stroke-linecap="round" stroke-linejoin="round" opacity="0.75"/>
<path d="M33,510L35,503L34,497L40,488" fill="none" stroke="#c87896" stroke-width="3.5" stroke-linecap="round" stroke-linejoin="round" opacity="0.75"/>
<path d="M278,150L285,140L289,132L289,118" fill="none" stroke="#c87896" stroke-width="2.9" stroke-linecap="round" stroke-linejoin="round" opacity="0.75"/>
<path d="M442,143L430,143L425,149L427,154" fill="none" stroke="#c87896" stroke-width="3.9" stroke-linecap="round" stroke-linejoin="round" opacity="0.75"/>
<path d="M160,311L169,320L168,327" fill="none" stroke="#c87896" stroke-width="3.7" stroke-linecap="round" stroke-linejoin="round" opacity="0.75"/>
<path d="M427,177L421,179L414,181L402,188L398,186" fill="none" stroke="#c87896" stroke-width="3.0" stroke-linecap="round" stroke-linejoin="round" opacity="0.75"/>
<path d="M316,183L316,171L309,161L301,150L293,151" fill="none" stroke="#c87896" stroke-width="3.0" stroke-linecap="round" stroke-linejoin="round" opacity="0.75"/>
<path d="M86,145L77,155L72,157" fill="none" stroke="#c87896" stroke-width="4.3" stroke-linecap="round" stroke-linejoin="round" opacity="0.75"/>
<path d="M143,12L137,17L131,18L125,19L116,24" fill="none" stroke="#c87896" stroke-width="2.9" stroke-linecap="round" stroke-linejoin="round" opacity="0.75"/>
<path d="M110,360L105,368L104,374" fill="none" stroke="#c87896" stroke-width="3.8" stroke-linecap="round" stroke-linejoin="round" opacity="0.75"/>
<path d="M179,421L184,419L195,412L199,404" fill="none" stroke="#c87896" stroke-width="2.6" stroke-linecap="round" stroke-linejoin="round" opacity="0.75"/>
<path d="M59,101L54,91L45,89L35,90L30,98" fill="none" stroke="#c87896" stroke-width="3.7" stroke-linecap="round" stroke-linejoin="round" opacity="0.75"/>
<path d="M108,171L100,159L103,149L108,143L107,130" fill="none" stroke="#c87896" stroke-width="3.5" stroke-linecap="round" stroke-linejoin="round" opacity="0.75"/>
<path d="M409,95L414,95L422,105" fill="none" stroke="#c87896" stroke-width="4.0" stroke-linecap="round" stroke-linejoin="round" opacity="0.75"/>
<path d="M204,450L198,441L192,440L187,432L181,429" fill="none" stroke="#c87896" stroke-width="3.1" stroke-linecap="round" stroke-linejoin="round" opacity="0.75"/>
<path d="M280,483L274,479L260,478" fill="none" stroke="#c87896" stroke-width="4.3" stroke-linecap="round" stroke-linejoin="round" opacity="0.75"/>
<path d="M76,491L67,487L55,485" fill="none" stroke="#c87896" stroke-width="4.2" stroke-linecap="round" stroke-linejoin="round" opacity="0.75"/>
<path d="M232,34L224,37L215,43L203,41" fill="none" stroke="#c87896" stroke-width="3.9" stroke-linecap="round" stroke-linejoin="round" opacity="0.75"/>
<path d="M301,93L303,82L303,75L310,72" fill="none" stroke="#c87896" stroke-width="4.4" stroke-linecap="round" stroke-linejoin="round" opacity="0.75"/>
<path d="M98,157L100,152L107,149L116,153" fill="none" stroke="#c87896" stroke-width="3.7" stroke-linecap="round" stroke-linejoin="round" opacity="0.75"/>
<path d="M222,459L215,450L219,444L215,436" fill="none" stroke="#c87896" stroke-width="3.5" stroke-linecap="round" stroke-linejoin="round" opacity="0.75"/>
<path d="M291,87L282,91L276,100" fill="none" stroke="#c87896" stroke-width="3.5" stroke-linecap="round" stroke-linejoin="round" opacity="0.75"/>
<path d="M82,520L72,522L64,531L62,542L66,551" fill="none" stroke="#c87896" stroke-width="3.8" stroke-linecap="round" stroke-linejoin="round" opacity="0.75"/>
<path d="M279,260L273,256L268,245L258,244L255,238" fill="none" stroke="#c87896" stroke-width="2.9" stroke-linecap="round" stroke-linejoin="round" opacity="0.75"/>
<path d="M195,443L203,449L214,453" fill="none" stroke="#c87896" stroke-width="3.9" stroke-linecap="round" stroke-linejoin="round" opacity="0.75"/>
<path d="M93,126L89,135L94,140" fill="none" stroke="#c87896" stroke-width="3.2" stroke-linecap="round" stroke-linejoin="round" opacity="0.75"/>
<path d="M397,126L394,116L394,106L398,100L411,97" fill="none" stroke="#c87896" stroke-width="4.1" stroke-linecap="round" stroke-linejoin="round" opacity="0.75"/>
<path d="M163,36L169,43L180,43" fill="none" stroke="#c87896" stroke-width="4.3" stroke-linecap="round" stroke-linejoin="round" opacity="0.75"/>
<path d="M322,15L316,8L308,9" fill="none" stroke="#c87896" stroke-width="3.9" stroke-linecap="round" stroke-linejoin="round" opacity="0.75"/>
<path d="M486,352L479,354L478,360L482,363" fill="none" stroke="#c87896" stroke-width="3.1" stroke-linecap="round" stroke-linejoin="round" opacity="0.75"/>
<path d="M76,344L66,347L55,347L44,340L35,342" fill="none" stroke="#c87896" stroke-width="3.5" stroke-linecap="round" stroke-linejoin="round" opacity="0.75"/>
<path d="M286,114L280,104L275,100L267,105" fill="none" stroke="#c87896" stroke-width="4.2" stroke-linecap="round" stroke-linejoin="round" opacity="0.75"/>
<path d="M157,239L155,245L158,252" fill="none" stroke="#c87896" stroke-width="4.2" stroke-linecap="round" stroke-linejoin="round" opacity="0.75"/>
<path d="M99,19L100,11L104,0L95,-10L88,-9" fill="none" stroke="#c87896" stroke-width="3.9" stroke-linecap="round" stroke-linejoin="round" opacity="0.75"/>
<path d="M24,205L21,214L15,225" fill="none" stroke="#c87896" stroke-width="3.6" stroke-linecap="round" stroke-linejoin="round" opacity="0.75"/>
<path d="M448,47L453,42L459,42L463,45" fill="none" stroke="#c87896" stroke-width="4.4" stroke-linecap="round" stroke-linejoin="round" opacity="0.75"/>
<path d="M83,43L81,32L75,24L66,26L58,32" fill="none" stroke="#c87896" stroke-width="3.8" stroke-linecap="round" stroke-linejoin="round" opacity="0.75"/>
<path d="M379,59L382,68L386,79L392,86" fill="none" stroke="#c87896" stroke-width="4.3" stroke-linecap="round" stroke-linejoin="round" opacity="0.75"/>
<path d="M209,520L218,513L225,510L232,518" fill="none" stroke="#c87896" stroke-width="4.1" stroke-linecap="round" stroke-linejoin="round" opacity="0.75"/>
<path d="M137,145L147,149L159,149L167,141" fill="none" stroke="#c87896" stroke-width="3.6" stroke-linecap="round" stroke-linejoin="round" opacity="0.75"/>
<path d="M294,366L295,355L293,345L292,339L303,331" fill="none" stroke="#c87896" stroke-width="4.1" stroke-linecap="round" stroke-linejoin="round" opacity="0.75"/>
<path d="M184,396L191,400L194,409L200,414" fill="none" stroke="#c87896" stroke-width="4.1" stroke-linecap="round" stroke-linejoin="round" opacity="0.75"/>
<path d="M133,91L128,99L130,108L120,116" fill="none" stroke="#c87896" stroke-width="4.4" stroke-linecap="round" stroke-linejoin="round" opacity="0.75"/>
<path d="M219,53L223,44L225,34L230,30" fill="none" stroke="#c87896" stroke-width="4.4" stroke-linecap="round" stroke-linejoin="round" opacity="0.75"/>
<path d="M302,135L293,135L287,140L279,136" fill="none" stroke="#c87896" stroke-width="4.5" stroke-linecap="round" stroke-linejoin="round" opacity="0.75"/>
<path d="M25,380L17,377L15,368L11,362L-2,363" fill="none" stroke="#c87896" stroke-width="4.1" stroke-linecap="round" stroke-linejoin="round" opacity="0.75"/>
<path d="M150,161L156,161L167,156L176,162L183,174" fill="none" stroke="#c87896" stroke-width="4.1" stroke-linecap="round" stroke-linejoin="round" opacity="0.75"/>
<path d="M240,67L249,61L256,60" fill="none" stroke="#c87896" stroke-width="2.9" stroke-linecap="round" stroke-linejoin="round" opacity="0.75"/>
<path d="M538,261L536,255L534,250" fill="none" stroke="#c87896" stroke-width="3.5" stroke-linecap="round" stroke-linejoin="round" opacity="0.75"/>
<path d="M309,506L314,501L317,493" fill="none" stroke="#c87896" stroke-width="3.3" stroke-linecap="round" stroke-linejoin="round" opacity="0.75"/>
<path d="M253,16L257,25L260,33L268,35" fill="none" stroke="#c87896" stroke-width="3.1" stroke-linecap="round" stroke-linejoin="round" opacity="0.75"/>
<path d="M85,61L77,54L67,56L56,48" fill="none" stroke="#c87896" stroke-width="4.0" stroke-linecap="round" stroke-linejoin="round" opacity="0.75"/>
<path d="M43,467L33,474L29,484" fill="none" stroke="#c87896" stroke-width="3.3" stroke-linecap="round" stroke-linejoin="round" opacity="0.75"/>
<path d="M225,406L226,418L231,430L227,441L225,453" fill="none" stroke="#c87896" stroke-width="3.8" stroke-linecap="round" stroke-linejoin="round" opacity="0.75"/>
<path d="M230,479L237,484L237,490L233,494L223,500" fill="none" stroke="#c87896" stroke-width="3.0" stroke-linecap="round" stroke-linejoin="round" opacity="0.75"/>
<path d="M137,300L148,296L149,290" fill="none" stroke="#c87896" stroke-width="4.2" stroke-linecap="round" stroke-linejoin="round" opacity="0.75"/>
<path d="M11,444L8,439L1,437L-7,430" fill="none" stroke="#c87896" stroke-width="2.7" stroke-linecap="round" stroke-linejoin="round" opacity="0.75"/>
<path d="M11,461L14,471L7,483" fill="none" stroke="#c87896" stroke-width="3.2" stroke-linecap="round" stroke-linejoin="round" opacity="0.75"/>
<path d="M421,153L414,149L403,152" fill="none" stroke="#c87896" stroke-width="2.5" stroke-linecap="round" stroke-linejoin="round" opacity="0.75"/>
<path d="M15,178L25,171L26,165L23,153L19,150" fill="none" stroke="#c87896" stroke-width="4.0" stroke-linecap="round" stroke-linejoin="round" opacity="0.75"/>
<path d="M76,357L88,363L92,368L98,371L105,377" fill="none" stroke="#c87896" stroke-width="3.2" stroke-linecap="round" stroke-linejoin="round" opacity="0.75"/>
<path d="M222,71L212,66L205,62" fill="none" stroke="#c87896" stroke-width="4.3" stroke-linecap="round" stroke-linejoin="round" opacity="0.75"/>
<path d="M85,271L90,272L95,284L90,290" fill="none" stroke="#c87896" stroke-width="3.8" stroke-linecap="round" stroke-linejoin="round" opacity="0.75"/>
<path d="M414,386L410,395L411,404" fill="none" stroke="#c87896" stroke-width="3.4" stroke-linecap="round" stroke-linejoin="round" opacity="0.75"/>
<path d="M310,525L314,513L309,502L305,495" fill="none" stroke="#c87896" stroke-width="2.9" stroke-linecap="round" stroke-linejoin="round" opacity="0.75"/>
<path d="M590,390L596,386L603,378" fill="none" stroke="#c87896" stroke-width="3.9" stroke-linecap="round" stroke-linejoin="round" opacity="0.75"/>
<path d="M174,170L177,161L182,156L190,150" fill="none" stroke="#c87896" stroke-width="4.5" stroke-linecap="round" stroke-linejoin="round" opacity="0.75"/>
<path d="M51,165L47,173L42,181L45,186" fill="none" stroke="#c87896" stroke-width="3.8" stroke-linecap="round" stroke-linejoin="round" opacity="0.75"/>
<path d="M604,167L598,166L593,172L585,172L578,167" fill="none" stroke="#c87896" stroke-width="4.5" stroke-linecap="round" stroke-linejoin="round" opacity="0.75"/>
<path d="M204,253L214,247L216,236L225,229L224,221" fill="none" stroke="#c87896" stroke-width="3.2" stroke-linecap="round" stroke-linejoin="round" opacity="0.75"/>
<path d="M241,15L234,14L224,20L218,30L216,42" fill="none" stroke="#c87896" stroke-width="3.6" stroke-linecap="round" stroke-linejoin="round" opacity="0.75"/>
<path d="M32,294L33,285L37,275L34,262" fill="none" stroke="#c87896" stroke-width="3.4" stroke-linecap="round" stroke-linejoin="round" opacity="0.75"/>
<path d="M109,404L100,402L89,408" fill="none" stroke="#c87896" stroke-width="4.5" stroke-linecap="round" stroke-linejoin="round" opacity="0.75"/>
<path d="M299,22L305,19L311,21" fill="none" stroke="#c87896" stroke-width="4.0" stroke-linecap="round" stroke-linejoin="round" opacity="0.75"/>
<path d="M117,60L109,56L107,45L110,32" fill="none" stroke="#c87896" stroke-width="3.2" stroke-linecap="round" stroke-linejoin="round" opacity="0.75"/>
<path d="M171,129L176,128L183,131L193,123" fill="none" stroke="#c87896" stroke-width="3.0" stroke-linecap="round" stroke-linejoin="round" opacity="0.75"/>
<path d="M164,71L169,74L168,83" fill="none" stroke="#c87896" stroke-width="3.2" stroke-linecap="round" stroke-linejoin="round" opacity="0.75"/>
<path d="M385,437L375,435L367,434L358,443L352,445" fill="none" stroke="#c87896" stroke-width="4.4" stroke-linecap="round" stroke-linejoin="round" opacity="0.75"/>
<path d="M183,289L181,294L176,299L170,306" fill="none" stroke="#c87896" stroke-width="2.6" stroke-linecap="round" stroke-linejoin="round" opacity="0.75"/>
<path d="M259,54L253,55L248,51L241,40L234,40" fill="none" stroke="#c87896" stroke-width="4.0" stroke-linecap="round" stroke-linejoin="round" opacity="0.75"/>
<path d="M299,508L304,500L310,501L317,511" fill="none" stroke="#c87896" stroke-width="4.0" stroke-linecap="round" stroke-linejoin="round" opacity="0.75"/>
<path d="M84,417L88,422L91,429L93,441L95,448" fill="none" stroke="#c87896" stroke-width="3.2" stroke-linecap="round" stroke-linejoin="round" opacity="0.75"/>
<path d="M139,116L140,103L145,101" fill="none" stroke="#c87896" stroke-width="3.9" stroke-linecap="round" stroke-linejoin="round" opacity="0.75"/>
<path d="M537,325L547,331L560,331L570,329" fill="none" stroke="#c87896" stroke-width="3.6" stroke-linecap="round" stroke-linejoin="round" opacity="0.75"/>
<path d="M206,250L205,237L207,227" fill="none" stroke="#c87896" stroke-width="2.8" stroke-linecap="round" stroke-linejoin="round" opacity="0.75"/>
<path d="M310,502L297,509L288,514" fill="none" stroke="#c87896" stroke-width="4.2" stroke-linecap="round" stroke-linejoin="round" opacity="0.75"/>
<path d="M685,155L691,157L694,166L702,171L708,168" fill="none" stroke="#c87896" stroke-width="3.0" stroke-linecap="round" stroke-linejoin="round" opacity="0.75"/>
<path d="M176,34L187,41L193,51L192,59" fill="none" stroke="#c87896" stroke-width="4.0" stroke-linecap="round" stroke-linejoin="round" opacity="0.75"/>
<path d="M159,299L151,293L143,293" fill="none" stroke="#c87896" stroke-width="4.3" stroke-linecap="round" stroke-linejoin="round" opacity="0.75"/>
<path d="M15,310L24,312L34,312L42,309" fill="none" stroke="#c87896" stroke-width="3.4" stroke-linecap="round" stroke-linejoin="round" opacity="0.75"/>
<path d="M279,515L286,508L286,502L276,498L271,500" fill="none" stroke="#c87896" stroke-width="3.9" stroke-linecap="round" stroke-linejoin="round" opacity="0.75"/>
<path d="M145,430L134,438L125,439L121,444" fill="none" stroke="#c87896" stroke-width="4.0" stroke-linecap="round" stroke-linejoin="round" opacity="0.75"/>
<path d="M60,431L54,440L60,447L67,456L61,465" fill="none" stroke="#c87896" stroke-width="3.4" stroke-linecap="round" stroke-linejoin="round" opacity="0.75"/>
<path d="M168,475L165,465L173,457" fill="none" stroke="#c87896" stroke-width="2.6" stroke-linecap="round" stroke-linejoin="round" opacity="0.75"/>
<path d="M159,459L171,464L177,471L179,478L177,485" fill="none" stroke="#c87896" stroke-width="3.7" stroke-linecap="round" stroke-linejoin="round" opacity="0.75"/>
<path d="M500,50 L555,80 L572,150 L588,220 L610,262" fill="none" stroke="#c68a9c" stroke-width="22" stroke-linejoin="round" stroke-linecap="round" opacity="0.45"/>
<path d="M568,141L564,132L559,125" fill="none" stroke="#b85a80" stroke-width="3.8" stroke-linecap="round" stroke-linejoin="round" opacity="0.8"/>
<path d="M596,256L599,245L599,238L608,233" fill="none" stroke="#b85a80" stroke-width="3.3" stroke-linecap="round" stroke-linejoin="round" opacity="0.8"/>
<path d="M579,173L571,178L565,177L556,174L552,168" fill="none" stroke="#b85a80" stroke-width="4.7" stroke-linecap="round" stroke-linejoin="round" opacity="0.8"/>
<path d="M557,104L558,97L560,89L563,79L570,77" fill="none" stroke="#b85a80" stroke-width="3.1" stroke-linecap="round" stroke-linejoin="round" opacity="0.8"/>
<path d="M518,54L522,59L533,60L545,59" fill="none" stroke="#b85a80" stroke-width="3.5" stroke-linecap="round" stroke-linejoin="round" opacity="0.8"/>
<path d="M587,163L581,168L578,179L573,183L573,189" fill="none" stroke="#b85a80" stroke-width="4.9" stroke-linecap="round" stroke-linejoin="round" opacity="0.8"/>
<path d="M563,165L557,168L546,169" fill="none" stroke="#b85a80" stroke-width="3.9" stroke-linecap="round" stroke-linejoin="round" opacity="0.8"/>
<path d="M563,168L552,173L547,173L544,178" fill="none" stroke="#b85a80" stroke-width="4.1" stroke-linecap="round" stroke-linejoin="round" opacity="0.8"/>
<path d="M564,141L555,135L556,128L557,121" fill="none" stroke="#b85a80" stroke-width="4.0" stroke-linecap="round" stroke-linejoin="round" opacity="0.8"/>
<path d="M587,166L590,160L590,155" fill="none" stroke="#b85a80" stroke-width="3.5" stroke-linecap="round" stroke-linejoin="round" opacity="0.8"/>
<path d="M581,170L577,179L579,186L575,193L580,204" fill="none" stroke="#b85a80" stroke-width="3.6" stroke-linecap="round" stroke-linejoin="round" opacity="0.8"/>
<path d="M575,157L580,152L583,143L588,137" fill="none" stroke="#b85a80" stroke-width="4.2" stroke-linecap="round" stroke-linejoin="round" opacity="0.8"/>
<path d="M588,234L593,224L588,217" fill="none" stroke="#b85a80" stroke-width="4.5" stroke-linecap="round" stroke-linejoin="round" opacity="0.8"/>
<path d="M567,89L564,82L562,76" fill="none" stroke="#b85a80" stroke-width="3.2" stroke-linecap="round" stroke-linejoin="round" opacity="0.8"/>
<path d="M573,174L582,180L591,176" fill="none" stroke="#b85a80" stroke-width="4.7" stroke-linecap="round" stroke-linejoin="round" opacity="0.8"/>
<path d="M524,78L522,72L525,61L531,59L531,49" fill="none" stroke="#b85a80" stroke-width="4.2" stroke-linecap="round" stroke-linejoin="round" opacity="0.8"/>
<path d="M511,49L520,46L523,39" fill="none" stroke="#b85a80" stroke-width="5.0" stroke-linecap="round" stroke-linejoin="round" opacity="0.8"/>
<path d="M564,154L560,157L553,160L547,155" fill="none" stroke="#b85a80" stroke-width="3.3" stroke-linecap="round" stroke-linejoin="round" opacity="0.8"/>
<path d="M523,54L526,48L534,41" fill="none" stroke="#b85a80" stroke-width="3.5" stroke-linecap="round" stroke-linejoin="round" opacity="0.8"/>
<path d="M561,96L566,105L564,110" fill="none" stroke="#b85a80" stroke-width="4.3" stroke-linecap="round" stroke-linejoin="round" opacity="0.8"/>
<path d="M573,143L574,151L573,161L566,166L561,176" fill="none" stroke="#b85a80" stroke-width="3.0" stroke-linecap="round" stroke-linejoin="round" opacity="0.8"/>
<path d="M583,160L595,160L604,167L603,172L599,177" fill="none" stroke="#b85a80" stroke-width="3.6" stroke-linecap="round" stroke-linejoin="round" opacity="0.8"/>
<path d="M545,62L541,64L537,76L539,83L535,88" fill="none" stroke="#b85a80" stroke-width="3.1" stroke-linecap="round" stroke-linejoin="round" opacity="0.8"/>
<path d="M543,90L539,79L533,76L528,74" fill="none" stroke="#b85a80" stroke-width="3.6" stroke-linecap="round" stroke-linejoin="round" opacity="0.8"/>
<path d="M561,150L553,144L546,137L544,128L546,123" fill="none" stroke="#b85a80" stroke-width="5.0" stroke-linecap="round" stroke-linejoin="round" opacity="0.8"/>
<path d="M590,190L597,189L603,186" fill="none" stroke="#b85a80" stroke-width="3.0" stroke-linecap="round" stroke-linejoin="round" opacity="0.8"/>
<path d="M603,253L601,248L593,245L584,248L576,244" fill="none" stroke="#b85a80" stroke-width="4.3" stroke-linecap="round" stroke-linejoin="round" opacity="0.8"/>
<path d="M581,174L585,168L592,163" fill="none" stroke="#b85a80" stroke-width="3.7" stroke-linecap="round" stroke-linejoin="round" opacity="0.8"/>
<path d="M546,88L556,92L563,93L574,89L583,84" fill="none" stroke="#b85a80" stroke-width="4.4" stroke-linecap="round" stroke-linejoin="round" opacity="0.8"/>
<path d="M535,68L531,77L535,81L542,82" fill="none" stroke="#b85a80" stroke-width="3.8" stroke-linecap="round" stroke-linejoin="round" opacity="0.8"/>
<path d="M551,65L539,68L538,75L537,82" fill="none" stroke="#b85a80" stroke-width="3.5" stroke-linecap="round" stroke-linejoin="round" opacity="0.8"/>
<path d="M507,68L503,72L504,84L512,90L518,88" fill="none" stroke="#b85a80" stroke-width="3.6" stroke-linecap="round" stroke-linejoin="round" opacity="0.8"/>
<path d="M578,223L574,220L567,214" fill="none" stroke="#b85a80" stroke-width="3.2" stroke-linecap="round" stroke-linejoin="round" opacity="0.8"/>
<path d="M567,142L563,135L558,130L553,123L546,125" fill="none" stroke="#b85a80" stroke-width="3.7" stroke-linecap="round" stroke-linejoin="round" opacity="0.8"/>
<path d="M566,82L566,91L565,96L561,104" fill="none" stroke="#b85a80" stroke-width="4.5" stroke-linecap="round" stroke-linejoin="round" opacity="0.8"/>
<path d="M567,110L571,105L577,99" fill="none" stroke="#b85a80" stroke-width="4.7" stroke-linecap="round" stroke-linejoin="round" opacity="0.8"/>
<path d="M500,37L498,44L502,50L504,57" fill="none" stroke="#b85a80" stroke-width="3.6" stroke-linecap="round" stroke-linejoin="round" opacity="0.8"/>
<path d="M568,186L571,178L576,174L582,166" fill="none" stroke="#b85a80" stroke-width="4.4" stroke-linecap="round" stroke-linejoin="round" opacity="0.8"/>
<path d="M570,193L574,194L581,190L586,190" fill="none" stroke="#b85a80" stroke-width="4.6" stroke-linecap="round" stroke-linejoin="round" opacity="0.8"/>
<path d="M617,271L619,276L613,285L616,289" fill="none" stroke="#b85a80" stroke-width="4.1" stroke-linecap="round" stroke-linejoin="round" opacity="0.8"/>
<path d="M560,310 L575,380" fill="none" stroke="#eef4dc" stroke-width="8"/>
</g></g>
<clipPath id="c8"><rect x="597.5" y="898.5" width="147.0" height="104.5"/></clipPath>
<g clip-path="url(#c8)">
<rect x="597.5" y="898.5" width="147.0" height="104.5" fill="#d0e79a"/>
<g transform="translate(595,896) scale(0.203481)">
<path d="M175,510L189,506L208,515L221,518L239,521" fill="none" stroke="#e4eecc" stroke-width="3.1" stroke-linecap="round" stroke-linejoin="round" opacity="0.9"/>
<path d="M665,219L645,211L618,202" fill="none" stroke="#e4eecc" stroke-width="3.2" stroke-linecap="round" stroke-linejoin="round" opacity="0.9"/>
<path d="M494,61L506,46L522,38L543,37" fill="none" stroke="#e4eecc" stroke-width="3.1" stroke-linecap="round" stroke-linejoin="round" opacity="0.9"/>
<path d="M668,312L675,323L676,338" fill="none" stroke="#e4eecc" stroke-width="3.4" stroke-linecap="round" stroke-linejoin="round" opacity="0.9"/>
<path d="M343,314L322,332L321,357L341,371L355,397" fill="none" stroke="#e4eecc" stroke-width="3.3" stroke-linecap="round" stroke-linejoin="round" opacity="0.9"/>
<path d="M378,113L399,123L410,148L398,166L392,194" fill="none" stroke="#e4eecc" stroke-width="2.8" stroke-linecap="round" stroke-linejoin="round" opacity="0.9"/>
<path d="M170,27L150,46L149,65L165,83" fill="none" stroke="#e4eecc" stroke-width="3.5" stroke-linecap="round" stroke-linejoin="round" opacity="0.9"/>
<path d="M157,409L141,418L120,413" fill="none" stroke="#e4eecc" stroke-width="3.4" stroke-linecap="round" stroke-linejoin="round" opacity="0.9"/>
<path d="M111,303L95,310L92,323" fill="none" stroke="#e4eecc" stroke-width="2.6" stroke-linecap="round" stroke-linejoin="round" opacity="0.9"/>
<path d="M390,197L395,183L404,171L422,171L435,176" fill="none" stroke="#e4eecc" stroke-width="2.8" stroke-linecap="round" stroke-linejoin="round" opacity="0.9"/>
<path d="M248,200L220,194L202,217L174,225" fill="none" stroke="#e4eecc" stroke-width="3.1" stroke-linecap="round" stroke-linejoin="round" opacity="0.9"/>
<path d="M140,514L132,529L108,537" fill="none" stroke="#e4eecc" stroke-width="2.9" stroke-linecap="round" stroke-linejoin="round" opacity="0.9"/>
<path d="M89,385L71,367L66,347L57,331L42,326" fill="none" stroke="#e4eecc" stroke-width="2.9" stroke-linecap="round" stroke-linejoin="round" opacity="0.9"/>
<path d="M89,387L105,369L126,368L138,390L145,416" fill="none" stroke="#e4eecc" stroke-width="3.1" stroke-linecap="round" stroke-linejoin="round" opacity="0.9"/>
<path d="M376,179L365,183L337,186L311,173L312,157" fill="none" stroke="#e4eecc" stroke-width="2.8" stroke-linecap="round" stroke-linejoin="round" opacity="0.9"/>
<path d="M410,518L388,518L361,508L351,494L355,479" fill="none" stroke="#e4eecc" stroke-width="2.9" stroke-linecap="round" stroke-linejoin="round" opacity="0.9"/>
<path d="M710,450L707,469L688,478L669,477" fill="none" stroke="#e4eecc" stroke-width="3.2" stroke-linecap="round" stroke-linejoin="round" opacity="0.9"/>
<path d="M437,360L441,373L460,382L468,411L458,432" fill="none" stroke="#e4eecc" stroke-width="3.3" stroke-linecap="round" stroke-linejoin="round" opacity="0.9"/>
<path d="M730,153L729,125L724,107L743,89" fill="none" stroke="#e4eecc" stroke-width="3.2" stroke-linecap="round" stroke-linejoin="round" opacity="0.9"/>
<path d="M192,433L167,425L157,410" fill="none" stroke="#e4eecc" stroke-width="3.2" stroke-linecap="round" stroke-linejoin="round" opacity="0.9"/>
<path d="M580,526L578,511L570,500" fill="none" stroke="#e4eecc" stroke-width="3.0" stroke-linecap="round" stroke-linejoin="round" opacity="0.9"/>
<path d="M499,157L477,140L468,124" fill="none" stroke="#e4eecc" stroke-width="2.5" stroke-linecap="round" stroke-linejoin="round" opacity="0.9"/>
<path d="M681,457L689,446L688,433L697,420" fill="none" stroke="#e4eecc" stroke-width="3.2" stroke-linecap="round" stroke-linejoin="round" opacity="0.9"/>
<path d="M716,44L735,37L745,11L734,-11L712,-13" fill="none" stroke="#e4eecc" stroke-width="2.6" stroke-linecap="round" stroke-linejoin="round" opacity="0.9"/>
<path d="M685,185L711,190L724,182" fill="none" stroke="#e4eecc" stroke-width="3.1" stroke-linecap="round" stroke-linejoin="round" opacity="0.9"/>
<path d="M226,136L197,132L191,104" fill="none" stroke="#e4eecc" stroke-width="2.6" stroke-linecap="round" stroke-linejoin="round" opacity="0.9"/>
<path d="M249,222L277,222L299,227L328,227" fill="none" stroke="#e4eecc" stroke-width="3.1" stroke-linecap="round" stroke-linejoin="round" opacity="0.9"/>
<path d="M664,490L657,473L667,453L666,429L665,415" fill="none" stroke="#e4eecc" stroke-width="3.3" stroke-linecap="round" stroke-linejoin="round" opacity="0.9"/>
<path d="M375,515L360,520L335,526L314,513L297,520" fill="none" stroke="#e4eecc" stroke-width="2.5" stroke-linecap="round" stroke-linejoin="round" opacity="0.9"/>
<path d="M281,501L296,527L293,539L275,549L254,535" fill="none" stroke="#e4eecc" stroke-width="3.3" stroke-linecap="round" stroke-linejoin="round" opacity="0.9"/>
<path d="M422,311L433,316L452,331L447,349" fill="none" stroke="#e4eecc" stroke-width="3.4" stroke-linecap="round" stroke-linejoin="round" opacity="0.9"/>
<path d="M485,258L497,277L485,300" fill="none" stroke="#e4eecc" stroke-width="2.9" stroke-linecap="round" stroke-linejoin="round" opacity="0.9"/>
<path d="M552,359L559,336L539,315L525,299L514,289" fill="none" stroke="#e4eecc" stroke-width="2.6" stroke-linecap="round" stroke-linejoin="round" opacity="0.9"/>
<path d="M205,22L188,25L174,14L173,-6" fill="none" stroke="#e4eecc" stroke-width="3.1" stroke-linecap="round" stroke-linejoin="round" opacity="0.9"/>
<path d="M374,350L361,348L342,334L320,327L301,335" fill="none" stroke="#e4eecc" stroke-width="3.1" stroke-linecap="round" stroke-linejoin="round" opacity="0.9"/>
<path d="M581,272L596,293L619,298L645,289L652,276" fill="none" stroke="#e4eecc" stroke-width="2.5" stroke-linecap="round" stroke-linejoin="round" opacity="0.9"/>
<path d="M535,120L514,134L492,144" fill="none" stroke="#e4eecc" stroke-width="2.5" stroke-linecap="round" stroke-linejoin="round" opacity="0.9"/>
<path d="M603,181L604,154L623,139L636,130" fill="none" stroke="#e4eecc" stroke-width="3.4" stroke-linecap="round" stroke-linejoin="round" opacity="0.9"/>
<path d="M562,436L550,445L549,470" fill="none" stroke="#e4eecc" stroke-width="3.5" stroke-linecap="round" stroke-linejoin="round" opacity="0.9"/>
<path d="M495,190L478,199L448,201L427,216L419,228" fill="none" stroke="#e4eecc" stroke-width="2.6" stroke-linecap="round" stroke-linejoin="round" opacity="0.9"/>
<path d="M614,171L603,187L605,211L599,225" fill="none" stroke="#e4eecc" stroke-width="3.3" stroke-linecap="round" stroke-linejoin="round" opacity="0.9"/>
<path d="M488,461L472,439L445,430L418,426" fill="none" stroke="#e4eecc" stroke-width="3.3" stroke-linecap="round" stroke-linejoin="round" opacity="0.9"/>
<path d="M411,269L397,251L389,232L366,219L355,209" fill="none" stroke="#e4eecc" stroke-width="2.7" stroke-linecap="round" stroke-linejoin="round" opacity="0.9"/>
<path d="M171,386L157,383L149,372" fill="none" stroke="#e4eecc" stroke-width="2.8" stroke-linecap="round" stroke-linejoin="round" opacity="0.9"/>
<path d="M427,354L444,330L454,307L444,290" fill="none" stroke="#e4eecc" stroke-width="3.4" stroke-linecap="round" stroke-linejoin="round" opacity="0.9"/>
<path d="M495,242L471,237L458,211L446,212" fill="none" stroke="#e4eecc" stroke-width="3.2" stroke-linecap="round" stroke-linejoin="round" opacity="0.9"/>
<path d="M512,176L498,171L483,184L485,197L505,217" fill="none" stroke="#e4eecc" stroke-width="2.6" stroke-linecap="round" stroke-linejoin="round" opacity="0.9"/>
<path d="M262,379L267,358L287,346L312,361L330,370" fill="none" stroke="#e4eecc" stroke-width="3.3" stroke-linecap="round" stroke-linejoin="round" opacity="0.9"/>
<path d="M652,291L626,292L599,282L574,271L553,249" fill="none" stroke="#e4eecc" stroke-width="3.1" stroke-linecap="round" stroke-linejoin="round" opacity="0.9"/>
<path d="M459,430L457,452L436,461L423,469" fill="none" stroke="#e4eecc" stroke-width="2.7" stroke-linecap="round" stroke-linejoin="round" opacity="0.9"/>
<path d="M588,476L596,494L587,504L585,531L566,539" fill="none" stroke="#e4eecc" stroke-width="2.8" stroke-linecap="round" stroke-linejoin="round" opacity="0.9"/>
<path d="M698,258L711,269L725,269" fill="none" stroke="#e4eecc" stroke-width="2.6" stroke-linecap="round" stroke-linejoin="round" opacity="0.9"/>
<path d="M145,262L129,267L111,279L101,298L95,309" fill="none" stroke="#e4eecc" stroke-width="2.6" stroke-linecap="round" stroke-linejoin="round" opacity="0.9"/>
<path d="M542,142L547,122L553,110" fill="none" stroke="#e4eecc" stroke-width="3.3" stroke-linecap="round" stroke-linejoin="round" opacity="0.9"/>
<path d="M30,76L2,73L-12,75L-39,86" fill="none" stroke="#e4eecc" stroke-width="3.1" stroke-linecap="round" stroke-linejoin="round" opacity="0.9"/>
<path d="M618,414L613,398L608,375" fill="none" stroke="#e4eecc" stroke-width="3.4" stroke-linecap="round" stroke-linejoin="round" opacity="0.9"/>
<path d="M119,508L127,525L120,545L108,570" fill="none" stroke="#e4eecc" stroke-width="3.4" stroke-linecap="round" stroke-linejoin="round" opacity="0.9"/>
<path d="M229,124L231,110L210,94L198,77L205,56" fill="none" stroke="#e4eecc" stroke-width="2.6" stroke-linecap="round" stroke-linejoin="round" opacity="0.9"/>
<path d="M529,508L516,524L514,552L539,566" fill="none" stroke="#e4eecc" stroke-width="3.2" stroke-linecap="round" stroke-linejoin="round" opacity="0.9"/>
<path d="M25,483L13,505L-12,502L-25,521L-43,534" fill="none" stroke="#e4eecc" stroke-width="3.4" stroke-linecap="round" stroke-linejoin="round" opacity="0.9"/>
<path d="M48,19L39,5L53,-18" fill="none" stroke="#e4eecc" stroke-width="2.9" stroke-linecap="round" stroke-linejoin="round" opacity="0.9"/>
<path d="M377,290L405,294L414,313" fill="none" stroke="#e4eecc" stroke-width="2.8" stroke-linecap="round" stroke-linejoin="round" opacity="0.9"/>
<path d="M468,228L464,245L459,261" fill="none" stroke="#e4eecc" stroke-width="2.6" stroke-linecap="round" stroke-linejoin="round" opacity="0.9"/>
<path d="M249,195L249,218L225,229L208,213L196,210" fill="none" stroke="#e4eecc" stroke-width="2.8" stroke-linecap="round" stroke-linejoin="round" opacity="0.9"/>
<path d="M615,284L604,271L596,258L583,256" fill="none" stroke="#e4eecc" stroke-width="3.0" stroke-linecap="round" stroke-linejoin="round" opacity="0.9"/>
<path d="M451,194L433,217L411,228L392,228L369,231" fill="none" stroke="#e4eecc" stroke-width="2.7" stroke-linecap="round" stroke-linejoin="round" opacity="0.9"/>
<path d="M391,361L411,351L431,366L446,357" fill="none" stroke="#e4eecc" stroke-width="3.4" stroke-linecap="round" stroke-linejoin="round" opacity="0.9"/>
<path d="M96,18L69,10L63,-17L63,-33L52,-37" fill="none" stroke="#e4eecc" stroke-width="3.3" stroke-linecap="round" stroke-linejoin="round" opacity="0.9"/>
<path d="M418,471L434,471L455,464L466,447L467,422" fill="none" stroke="#e4eecc" stroke-width="3.3" stroke-linecap="round" stroke-linejoin="round" opacity="0.9"/>
<path d="M435,461L413,445L398,432L396,411L399,398" fill="none" stroke="#e4eecc" stroke-width="3.0" stroke-linecap="round" stroke-linejoin="round" opacity="0.9"/>
<path d="M652,415L655,433L664,447" fill="none" stroke="#e4eecc" stroke-width="2.8" stroke-linecap="round" stroke-linejoin="round" opacity="0.9"/>
<path d="M376,458L376,485L384,504L403,516" fill="none" stroke="#e4eecc" stroke-width="2.7" stroke-linecap="round" stroke-linejoin="round" opacity="0.9"/>
<path d="M712,463L725,466L739,478" fill="none" stroke="#e4eecc" stroke-width="3.0" stroke-linecap="round" stroke-linejoin="round" opacity="0.9"/>
<path d="M422,470L436,474L454,479L473,463" fill="none" stroke="#e4eecc" stroke-width="3.0" stroke-linecap="round" stroke-linejoin="round" opacity="0.9"/>
<path d="M577,349L593,331L588,318L569,301L540,306" fill="none" stroke="#e4eecc" stroke-width="3.4" stroke-linecap="round" stroke-linejoin="round" opacity="0.9"/>
<path d="M428,466L426,454L441,440" fill="none" stroke="#e4eecc" stroke-width="2.9" stroke-linecap="round" stroke-linejoin="round" opacity="0.9"/>
<path d="M176,39L148,34L131,35L118,37" fill="none" stroke="#e4eecc" stroke-width="2.8" stroke-linecap="round" stroke-linejoin="round" opacity="0.9"/>
<path d="M549,220L537,233L534,246" fill="none" stroke="#e4eecc" stroke-width="2.5" stroke-linecap="round" stroke-linejoin="round" opacity="0.9"/>
<path d="M575,27L602,34L619,18L632,11L654,-6" fill="none" stroke="#e4eecc" stroke-width="3.5" stroke-linecap="round" stroke-linejoin="round" opacity="0.9"/>
<path d="M65,26L61,44L69,64" fill="none" stroke="#e4eecc" stroke-width="2.8" stroke-linecap="round" stroke-linejoin="round" opacity="0.9"/>
<path d="M401,135L429,135L450,131L465,118" fill="none" stroke="#e4eecc" stroke-width="3.4" stroke-linecap="round" stroke-linejoin="round" opacity="0.9"/>
<path d="M93,375L73,393L54,393L35,385" fill="none" stroke="#e4eecc" stroke-width="3.3" stroke-linecap="round" stroke-linejoin="round" opacity="0.9"/>
<path d="M259,179L253,204L263,213L277,230" fill="none" stroke="#e4eecc" stroke-width="3.3" stroke-linecap="round" stroke-linejoin="round" opacity="0.9"/>
<path d="M34,15L19,2L2,1" fill="none" stroke="#e4eecc" stroke-width="3.4" stroke-linecap="round" stroke-linejoin="round" opacity="0.9"/>
<path d="M232,91L232,74L218,60L195,52" fill="none" stroke="#e4eecc" stroke-width="2.6" stroke-linecap="round" stroke-linejoin="round" opacity="0.9"/>
<path d="M538,124L513,135L493,124" fill="none" stroke="#e4eecc" stroke-width="2.7" stroke-linecap="round" stroke-linejoin="round" opacity="0.9"/>
<path d="M199,243L201,225L198,197L218,184L220,172" fill="none" stroke="#e4eecc" stroke-width="3.2" stroke-linecap="round" stroke-linejoin="round" opacity="0.9"/>
<path d="M89,81L87,67L65,59" fill="none" stroke="#e4eecc" stroke-width="3.4" stroke-linecap="round" stroke-linejoin="round" opacity="0.9"/>
<path d="M144,480L142,501L129,507L105,518" fill="none" stroke="#e4eecc" stroke-width="3.2" stroke-linecap="round" stroke-linejoin="round" opacity="0.9"/>
<path d="M339,146L314,158L297,162L288,175" fill="none" stroke="#e4eecc" stroke-width="2.8" stroke-linecap="round" stroke-linejoin="round" opacity="0.9"/>
<path d="M76,165L83,187L97,213L112,218" fill="none" stroke="#e4eecc" stroke-width="3.1" stroke-linecap="round" stroke-linejoin="round" opacity="0.9"/>
<path d="M311,168L288,149L290,120L307,99L320,97" fill="none" stroke="#e4eecc" stroke-width="2.7" stroke-linecap="round" stroke-linejoin="round" opacity="0.9"/>
<path d="M740,17L745,32L765,33L783,16L807,25" fill="none" stroke="#e4eecc" stroke-width="3.1" stroke-linecap="round" stroke-linejoin="round" opacity="0.9"/>
<path d="M307,24L295,20L267,30L255,35L243,27" fill="none" stroke="#e4eecc" stroke-width="3.1" stroke-linecap="round" stroke-linejoin="round" opacity="0.9"/>
<path d="M572,511L590,528L619,525" fill="none" stroke="#e4eecc" stroke-width="3.2" stroke-linecap="round" stroke-linejoin="round" opacity="0.9"/>
<path d="M675,94L684,104L684,129L688,141" fill="none" stroke="#e4eecc" stroke-width="3.0" stroke-linecap="round" stroke-linejoin="round" opacity="0.9"/>
<path d="M469,382L454,361L443,353L443,335L430,320" fill="none" stroke="#e4eecc" stroke-width="2.8" stroke-linecap="round" stroke-linejoin="round" opacity="0.9"/>
<path d="M128,407L117,380L107,368L102,338L121,325" fill="none" stroke="#e4eecc" stroke-width="2.8" stroke-linecap="round" stroke-linejoin="round" opacity="0.9"/>
<path d="M683,89L659,89L654,77L638,76L622,80" fill="none" stroke="#e4eecc" stroke-width="3.1" stroke-linecap="round" stroke-linejoin="round" opacity="0.9"/>
<path d="M734,492L747,491L761,489L774,489L782,507" fill="none" stroke="#e4eecc" stroke-width="2.7" stroke-linecap="round" stroke-linejoin="round" opacity="0.9"/>
<path d="M313,172L295,157L269,149L268,134" fill="none" stroke="#e4eecc" stroke-width="3.4" stroke-linecap="round" stroke-linejoin="round" opacity="0.9"/>
<path d="M648,219L637,195L648,179" fill="none" stroke="#e4eecc" stroke-width="2.7" stroke-linecap="round" stroke-linejoin="round" opacity="0.9"/>
<path d="M392,284L370,268L358,273" fill="none" stroke="#e4eecc" stroke-width="2.9" stroke-linecap="round" stroke-linejoin="round" opacity="0.9"/>
<path d="M385,101L379,122L366,131L345,120" fill="none" stroke="#e4eecc" stroke-width="3.0" stroke-linecap="round" stroke-linejoin="round" opacity="0.9"/>
<path d="M717,194L702,191L695,174L696,158" fill="none" stroke="#e4eecc" stroke-width="3.1" stroke-linecap="round" stroke-linejoin="round" opacity="0.9"/>
<path d="M725,125L749,134L772,135L786,120" fill="none" stroke="#e4eecc" stroke-width="2.6" stroke-linecap="round" stroke-linejoin="round" opacity="0.9"/>
<path d="M716,357L708,376L689,392L673,391L644,387" fill="none" stroke="#e4eecc" stroke-width="3.3" stroke-linecap="round" stroke-linejoin="round" opacity="0.9"/>
<path d="M127,478L127,497L114,518L90,532L78,522" fill="none" stroke="#e4eecc" stroke-width="2.9" stroke-linecap="round" stroke-linejoin="round" opacity="0.9"/>
<path d="M608,144L623,166L617,191L612,202L615,223" fill="none" stroke="#e4eecc" stroke-width="3.2" stroke-linecap="round" stroke-linejoin="round" opacity="0.9"/>
<path d="M288,245L272,257L252,262L242,254L240,240" fill="none" stroke="#e4eecc" stroke-width="3.4" stroke-linecap="round" stroke-linejoin="round" opacity="0.9"/>
<path d="M228,161L225,178L231,198L256,206L272,199" fill="none" stroke="#e4eecc" stroke-width="3.3" stroke-linecap="round" stroke-linejoin="round" opacity="0.9"/>
<path d="M659,145L679,145L689,129L711,125L721,135" fill="none" stroke="#e4eecc" stroke-width="3.0" stroke-linecap="round" stroke-linejoin="round" opacity="0.9"/>
<path d="M125,239L111,230L112,212L110,190" fill="none" stroke="#e4eecc" stroke-width="2.8" stroke-linecap="round" stroke-linejoin="round" opacity="0.9"/>
<path d="M277,34L267,22L240,9" fill="none" stroke="#e4eecc" stroke-width="3.4" stroke-linecap="round" stroke-linejoin="round" opacity="0.9"/>
<path d="M711,121L714,107L725,101L737,96" fill="none" stroke="#e4eecc" stroke-width="2.9" stroke-linecap="round" stroke-linejoin="round" opacity="0.9"/>
<path d="M166,134L162,147L178,162L197,157" fill="none" stroke="#e4eecc" stroke-width="2.5" stroke-linecap="round" stroke-linejoin="round" opacity="0.9"/>
<path d="M513,459L518,479L530,498L518,515L499,530" fill="none" stroke="#e4eecc" stroke-width="3.2" stroke-linecap="round" stroke-linejoin="round" opacity="0.9"/>
<path d="M89,301L75,310L51,314" fill="none" stroke="#e4eecc" stroke-width="2.9" stroke-linecap="round" stroke-linejoin="round" opacity="0.9"/>
<path d="M582,233L609,241L625,256" fill="none" stroke="#e4eecc" stroke-width="2.7" stroke-linecap="round" stroke-linejoin="round" opacity="0.9"/>
<path d="M559,471L551,450L558,435L571,413" fill="none" stroke="#e4eecc" stroke-width="2.9" stroke-linecap="round" stroke-linejoin="round" opacity="0.9"/>
<path d="M543,226L530,231L526,257L518,270" fill="none" stroke="#e4eecc" stroke-width="2.5" stroke-linecap="round" stroke-linejoin="round" opacity="0.9"/>
<path d="M379,21L383,6L398,-6" fill="none" stroke="#e4eecc" stroke-width="3.0" stroke-linecap="round" stroke-linejoin="round" opacity="0.9"/>
<path d="M622,485L616,464L595,457" fill="none" stroke="#e4eecc" stroke-width="3.3" stroke-linecap="round" stroke-linejoin="round" opacity="0.9"/>
<path d="M325,163L332,134L355,116" fill="none" stroke="#e4eecc" stroke-width="2.6" stroke-linecap="round" stroke-linejoin="round" opacity="0.9"/>
<path d="M644,392L669,405L684,398L687,372" fill="none" stroke="#e4eecc" stroke-width="3.4" stroke-linecap="round" stroke-linejoin="round" opacity="0.9"/>
<path d="M345,407L368,402L381,403" fill="none" stroke="#e4eecc" stroke-width="2.7" stroke-linecap="round" stroke-linejoin="round" opacity="0.9"/>
<path d="M735,285L756,301L762,315" fill="none" stroke="#e4eecc" stroke-width="3.3" stroke-linecap="round" stroke-linejoin="round" opacity="0.9"/>
<path d="M113,141L100,145L86,154L75,164" fill="none" stroke="#e4eecc" stroke-width="3.3" stroke-linecap="round" stroke-linejoin="round" opacity="0.9"/>
<path d="M80,321L56,319L39,338L37,353" fill="none" stroke="#e4eecc" stroke-width="3.1" stroke-linecap="round" stroke-linejoin="round" opacity="0.9"/>
<path d="M116,130L105,143L95,162L82,167" fill="none" stroke="#e4eecc" stroke-width="2.9" stroke-linecap="round" stroke-linejoin="round" opacity="0.9"/>
<path d="M183,231L173,255L185,270" fill="none" stroke="#e4eecc" stroke-width="2.9" stroke-linecap="round" stroke-linejoin="round" opacity="0.9"/>
<path d="M578,76L589,103L604,109L612,101" fill="none" stroke="#e4eecc" stroke-width="3.3" stroke-linecap="round" stroke-linejoin="round" opacity="0.9"/>
<path d="M526,166L538,182L556,185" fill="none" stroke="#e4eecc" stroke-width="3.3" stroke-linecap="round" stroke-linejoin="round" opacity="0.9"/>
<path d="M239,165L222,171L207,157" fill="none" stroke="#e4eecc" stroke-width="3.3" stroke-linecap="round" stroke-linejoin="round" opacity="0.9"/>
<path d="M523,250L500,259L480,280" fill="none" stroke="#e4eecc" stroke-width="3.3" stroke-linecap="round" stroke-linejoin="round" opacity="0.9"/>
<path d="M521,379L531,354L543,339L559,337L585,352" fill="none" stroke="#e4eecc" stroke-width="2.6" stroke-linecap="round" stroke-linejoin="round" opacity="0.9"/>
<path d="M183,201L173,189L161,167L142,159L140,132" fill="none" stroke="#e4eecc" stroke-width="3.2" stroke-linecap="round" stroke-linejoin="round" opacity="0.9"/>
<path d="M423,300L438,282L440,261L430,248L410,234" fill="none" stroke="#e4eecc" stroke-width="3.3" stroke-linecap="round" stroke-linejoin="round" opacity="0.9"/>
<path d="M59,269L54,257L64,241" fill="none" stroke="#e4eecc" stroke-width="2.7" stroke-linecap="round" stroke-linejoin="round" opacity="0.9"/>
<path d="M728,180L723,197L737,212L759,208" fill="none" stroke="#e4eecc" stroke-width="2.7" stroke-linecap="round" stroke-linejoin="round" opacity="0.9"/>
<path d="M369,511L350,496L326,505L304,511L291,534" fill="none" stroke="#e4eecc" stroke-width="3.2" stroke-linecap="round" stroke-linejoin="round" opacity="0.9"/>
<path d="M526,305L538,322L553,323L562,341L557,364" fill="none" stroke="#e4eecc" stroke-width="2.9" stroke-linecap="round" stroke-linejoin="round" opacity="0.9"/>
<path d="M452,479L449,491L458,500L483,508L496,505" fill="none" stroke="#e4eecc" stroke-width="3.3" stroke-linecap="round" stroke-linejoin="round" opacity="0.9"/>
<path d="M344,161L334,187L320,188L300,187L291,200" fill="none" stroke="#e4eecc" stroke-width="3.1" stroke-linecap="round" stroke-linejoin="round" opacity="0.9"/>
<path d="M324,158L354,155L372,139L378,119L389,109" fill="none" stroke="#e4eecc" stroke-width="2.8" stroke-linecap="round" stroke-linejoin="round" opacity="0.9"/>
<path d="M308,241L283,255L268,263L249,272" fill="none" stroke="#e4eecc" stroke-width="2.5" stroke-linecap="round" stroke-linejoin="round" opacity="0.9"/>
<path d="M651,322L656,311L675,296L696,290L707,298" fill="none" stroke="#e4eecc" stroke-width="2.9" stroke-linecap="round" stroke-linejoin="round" opacity="0.9"/>
<path d="M589,212L613,204L617,188" fill="none" stroke="#e4eecc" stroke-width="3.0" stroke-linecap="round" stroke-linejoin="round" opacity="0.9"/>
<path d="M11,347L-9,329L-7,309" fill="none" stroke="#e4eecc" stroke-width="2.9" stroke-linecap="round" stroke-linejoin="round" opacity="0.9"/>
<path d="M444,162L449,150L467,142L472,126" fill="none" stroke="#e4eecc" stroke-width="2.7" stroke-linecap="round" stroke-linejoin="round" opacity="0.9"/>
<path d="M735,312L727,324L727,341L728,365" fill="none" stroke="#e4eecc" stroke-width="3.3" stroke-linecap="round" stroke-linejoin="round" opacity="0.9"/>
<path d="M119,87L98,82L79,88L66,81" fill="none" stroke="#e4eecc" stroke-width="3.2" stroke-linecap="round" stroke-linejoin="round" opacity="0.9"/>
<path d="M101,33L108,52L122,62L122,88" fill="none" stroke="#e4eecc" stroke-width="3.4" stroke-linecap="round" stroke-linejoin="round" opacity="0.9"/>
<path d="M659,207L642,205L625,215L628,234" fill="none" stroke="#e4eecc" stroke-width="3.1" stroke-linecap="round" stroke-linejoin="round" opacity="0.9"/>
<path d="M432,462L414,476L408,505L393,520L366,528" fill="none" stroke="#e4eecc" stroke-width="2.6" stroke-linecap="round" stroke-linejoin="round" opacity="0.9"/>
<path d="M388,69L365,76L342,84L334,100" fill="none" stroke="#e4eecc" stroke-width="2.8" stroke-linecap="round" stroke-linejoin="round" opacity="0.9"/>
<path d="M422,465L406,472L387,459L388,433L377,412" fill="none" stroke="#e4eecc" stroke-width="3.0" stroke-linecap="round" stroke-linejoin="round" opacity="0.9"/>
<path d="M286,43L292,56L312,72" fill="none" stroke="#e4eecc" stroke-width="2.6" stroke-linecap="round" stroke-linejoin="round" opacity="0.9"/>
<path d="M293,443L272,451L255,462L232,453" fill="none" stroke="#e4eecc" stroke-width="3.2" stroke-linecap="round" stroke-linejoin="round" opacity="0.9"/>
<path d="M581,323L577,337L577,353L582,367" fill="none" stroke="#e4eecc" stroke-width="3.4" stroke-linecap="round" stroke-linejoin="round" opacity="0.9"/>
<path d="M450,15 L620,15 L600,80 L540,150 L470,230 L430,300 L400,380 L400,460 L390,520 L300,520 L290,440 L300,360 L285,300 L280,230 L330,200 L400,150 L440,90Z" fill="#c88a98" opacity="0.55"/>
<path d="M563,96L559,101L551,100L547,105" fill="none" stroke="#b85a80" stroke-width="3.5" stroke-linecap="round" stroke-linejoin="round" opacity="0.75"/>
<path d="M321,246L315,236L314,227L312,219" fill="none" stroke="#b85a80" stroke-width="3.8" stroke-linecap="round" stroke-linejoin="round" opacity="0.75"/>
<path d="M371,304L364,306L354,304L347,311" fill="none" stroke="#b85a80" stroke-width="3.6" stroke-linecap="round" stroke-linejoin="round" opacity="0.75"/>
<path d="M301,472L297,478L296,485L287,488L280,488" fill="none" stroke="#b85a80" stroke-width="4.9" stroke-linecap="round" stroke-linejoin="round" opacity="0.75"/>
<path d="M587,91L585,83L583,75" fill="none" stroke="#b85a80" stroke-width="4.9" stroke-linecap="round" stroke-linejoin="round" opacity="0.75"/>
<path d="M346,390L350,399L361,399L367,403L376,398" fill="none" stroke="#b85a80" stroke-width="3.2" stroke-linecap="round" stroke-linejoin="round" opacity="0.75"/>
<path d="M501,188L491,185L483,181" fill="none" stroke="#b85a80" stroke-width="3.5" stroke-linecap="round" stroke-linejoin="round" opacity="0.75"/>
<path d="M389,345L386,356L380,362" fill="none" stroke="#b85a80" stroke-width="4.6" stroke-linecap="round" stroke-linejoin="round" opacity="0.75"/>
<path d="M472,189L477,195L480,201" fill="none" stroke="#b85a80" stroke-width="5.0" stroke-linecap="round" stroke-linejoin="round" opacity="0.75"/>
<path d="M463,21L470,20L479,25L484,25" fill="none" stroke="#b85a80" stroke-width="4.0" stroke-linecap="round" stroke-linejoin="round" opacity="0.75"/>
<path d="M355,270L358,279L364,286" fill="none" stroke="#b85a80" stroke-width="3.0" stroke-linecap="round" stroke-linejoin="round" opacity="0.75"/>
<path d="M508,111L514,113L515,123L521,129L523,140" fill="none" stroke="#b85a80" stroke-width="3.7" stroke-linecap="round" stroke-linejoin="round" opacity="0.75"/>
<path d="M544,102L532,104L523,110" fill="none" stroke="#b85a80" stroke-width="3.2" stroke-linecap="round" stroke-linejoin="round" opacity="0.75"/>
<path d="M433,259L443,256L449,249L458,246" fill="none" stroke="#b85a80" stroke-width="4.5" stroke-linecap="round" stroke-linejoin="round" opacity="0.75"/>
<path d="M321,436L323,441L331,444L336,443" fill="none" stroke="#b85a80" stroke-width="4.4" stroke-linecap="round" stroke-linejoin="round" opacity="0.75"/>
<path d="M294,444L299,451L306,455L313,456" fill="none" stroke="#b85a80" stroke-width="3.6" stroke-linecap="round" stroke-linejoin="round" opacity="0.75"/>
<path d="M518,49L526,56L534,56L541,59L548,60" fill="none" stroke="#b85a80" stroke-width="3.8" stroke-linecap="round" stroke-linejoin="round" opacity="0.75"/>
<path d="M379,228L385,227L394,226L396,231L404,231" fill="none" stroke="#b85a80" stroke-width="4.8" stroke-linecap="round" stroke-linejoin="round" opacity="0.75"/>
<path d="M408,221L401,219L396,214" fill="none" stroke="#b85a80" stroke-width="4.6" stroke-linecap="round" stroke-linejoin="round" opacity="0.75"/>
<path d="M300,482L291,487L283,493L275,500L268,501" fill="none" stroke="#b85a80" stroke-width="4.2" stroke-linecap="round" stroke-linejoin="round" opacity="0.75"/>
<path d="M473,116L472,126L475,137L474,148L469,157" fill="none" stroke="#b85a80" stroke-width="3.6" stroke-linecap="round" stroke-linejoin="round" opacity="0.75"/>
<path d="M320,357L310,362L301,363" fill="none" stroke="#b85a80" stroke-width="5.0" stroke-linecap="round" stroke-linejoin="round" opacity="0.75"/>
<path d="M341,359L346,349L344,341L347,337" fill="none" stroke="#b85a80" stroke-width="4.4" stroke-linecap="round" stroke-linejoin="round" opacity="0.75"/>
<path d="M447,227L454,227L459,219" fill="none" stroke="#b85a80" stroke-width="3.2" stroke-linecap="round" stroke-linejoin="round" opacity="0.75"/>
<path d="M397,287L389,288L383,288" fill="none" stroke="#b85a80" stroke-width="3.5" stroke-linecap="round" stroke-linejoin="round" opacity="0.75"/>
<path d="M380,450L384,458L387,469L384,474L383,484" fill="none" stroke="#b85a80" stroke-width="4.6" stroke-linecap="round" stroke-linejoin="round" opacity="0.75"/>
<path d="M396,467L402,476L410,475L415,481" fill="none" stroke="#b85a80" stroke-width="4.9" stroke-linecap="round" stroke-linejoin="round" opacity="0.75"/>
<path d="M377,287L383,294L389,296L400,298L409,300" fill="none" stroke="#b85a80" stroke-width="4.4" stroke-linecap="round" stroke-linejoin="round" opacity="0.75"/>
<path d="M396,194L405,187L411,183L421,182" fill="none" stroke="#b85a80" stroke-width="3.5" stroke-linecap="round" stroke-linejoin="round" opacity="0.75"/>
<path d="M348,294L354,298L356,304L361,304L370,312" fill="none" stroke="#b85a80" stroke-width="3.3" stroke-linecap="round" stroke-linejoin="round" opacity="0.75"/>
<path d="M349,420L357,423L364,429L373,436L372,443" fill="none" stroke="#b85a80" stroke-width="4.2" stroke-linecap="round" stroke-linejoin="round" opacity="0.75"/>
<path d="M392,427L394,421L401,415L406,409" fill="none" stroke="#b85a80" stroke-width="3.5" stroke-linecap="round" stroke-linejoin="round" opacity="0.75"/>
<path d="M549,34L547,29L554,19L564,16" fill="none" stroke="#b85a80" stroke-width="3.0" stroke-linecap="round" stroke-linejoin="round" opacity="0.75"/>
<path d="M406,360L404,368L397,370L392,371" fill="none" stroke="#b85a80" stroke-width="3.5" stroke-linecap="round" stroke-linejoin="round" opacity="0.75"/>
<path d="M372,462L379,470L386,477L395,483" fill="none" stroke="#b85a80" stroke-width="4.1" stroke-linecap="round" stroke-linejoin="round" opacity="0.75"/>
<path d="M409,327L407,337L410,343L416,353L416,360" fill="none" stroke="#b85a80" stroke-width="3.2" stroke-linecap="round" stroke-linejoin="round" opacity="0.75"/>
<path d="M357,190L364,191L369,195L380,200" fill="none" stroke="#b85a80" stroke-width="4.2" stroke-linecap="round" stroke-linejoin="round" opacity="0.75"/>
<path d="M452,182L447,189L448,197L442,206" fill="none" stroke="#b85a80" stroke-width="3.5" stroke-linecap="round" stroke-linejoin="round" opacity="0.75"/>
<path d="M455,238L454,232L453,223L459,216L455,208" fill="none" stroke="#b85a80" stroke-width="4.7" stroke-linecap="round" stroke-linejoin="round" opacity="0.75"/>
<path d="M397,338L401,335L411,331L418,331" fill="none" stroke="#b85a80" stroke-width="4.2" stroke-linecap="round" stroke-linejoin="round" opacity="0.75"/>
<path d="M504,135L509,141L514,146L515,155L508,159" fill="none" stroke="#b85a80" stroke-width="4.8" stroke-linecap="round" stroke-linejoin="round" opacity="0.75"/>
<path d="M532,106L542,102L552,100" fill="none" stroke="#b85a80" stroke-width="3.2" stroke-linecap="round" stroke-linejoin="round" opacity="0.75"/>
<path d="M532,157L521,160L514,160L506,152L505,146" fill="none" stroke="#b85a80" stroke-width="3.9" stroke-linecap="round" stroke-linejoin="round" opacity="0.75"/>
<path d="M346,211L341,205L331,208L324,209L321,220" fill="none" stroke="#b85a80" stroke-width="3.3" stroke-linecap="round" stroke-linejoin="round" opacity="0.75"/>
<path d="M567,27L573,22L580,19L587,24" fill="none" stroke="#b85a80" stroke-width="3.7" stroke-linecap="round" stroke-linejoin="round" opacity="0.75"/>
<path d="M322,451L331,448L338,449L344,442L342,433" fill="none" stroke="#b85a80" stroke-width="4.8" stroke-linecap="round" stroke-linejoin="round" opacity="0.75"/>
<path d="M526,63L524,74L528,82L534,91" fill="none" stroke="#b85a80" stroke-width="4.3" stroke-linecap="round" stroke-linejoin="round" opacity="0.75"/>
<path d="M566,40L563,46L557,46" fill="none" stroke="#b85a80" stroke-width="3.5" stroke-linecap="round" stroke-linejoin="round" opacity="0.75"/>
<path d="M317,471L322,462L331,455" fill="none" stroke="#b85a80" stroke-width="3.0" stroke-linecap="round" stroke-linejoin="round" opacity="0.75"/>
<path d="M463,166L459,177L452,183" fill="none" stroke="#b85a80" stroke-width="4.7" stroke-linecap="round" stroke-linejoin="round" opacity="0.75"/>
<path d="M404,271L400,267L392,268" fill="none" stroke="#b85a80" stroke-width="3.4" stroke-linecap="round" stroke-linejoin="round" opacity="0.75"/>
<path d="M334,233L329,225L329,215L321,207L314,203" fill="none" stroke="#b85a80" stroke-width="4.5" stroke-linecap="round" stroke-linejoin="round" opacity="0.75"/>
<path d="M376,466L370,460L363,459" fill="none" stroke="#b85a80" stroke-width="4.0" stroke-linecap="round" stroke-linejoin="round" opacity="0.75"/>
<path d="M393,434L402,434L407,432L408,424L407,419" fill="none" stroke="#b85a80" stroke-width="3.0" stroke-linecap="round" stroke-linejoin="round" opacity="0.75"/>
<path d="M320,493L314,502L310,505L304,506L294,510" fill="none" stroke="#b85a80" stroke-width="4.2" stroke-linecap="round" stroke-linejoin="round" opacity="0.75"/>
<path d="M508,93L514,83L519,74L524,72L527,67" fill="none" stroke="#b85a80" stroke-width="3.7" stroke-linecap="round" stroke-linejoin="round" opacity="0.75"/>
<path d="M540,29L550,25L555,22" fill="none" stroke="#b85a80" stroke-width="3.9" stroke-linecap="round" stroke-linejoin="round" opacity="0.75"/>
<path d="M346,455L348,449L344,439L337,434L331,426" fill="none" stroke="#b85a80" stroke-width="4.0" stroke-linecap="round" stroke-linejoin="round" opacity="0.75"/>
<path d="M469,144L463,138L464,130L468,125L475,127" fill="none" stroke="#b85a80" stroke-width="4.3" stroke-linecap="round" stroke-linejoin="round" opacity="0.75"/>
<path d="M560,39L567,48L562,58" fill="none" stroke="#b85a80" stroke-width="4.2" stroke-linecap="round" stroke-linejoin="round" opacity="0.75"/>
<path d="M331,227L338,227L348,223" fill="none" stroke="#b85a80" stroke-width="4.2" stroke-linecap="round" stroke-linejoin="round" opacity="0.75"/>
<path d="M379,451L385,450L390,442" fill="none" stroke="#b85a80" stroke-width="3.9" stroke-linecap="round" stroke-linejoin="round" opacity="0.75"/>
<path d="M317,305L311,300L312,291" fill="none" stroke="#b85a80" stroke-width="4.0" stroke-linecap="round" stroke-linejoin="round" opacity="0.75"/>
<path d="M513,83L512,76L512,69L512,64L519,61" fill="none" stroke="#b85a80" stroke-width="3.7" stroke-linecap="round" stroke-linejoin="round" opacity="0.75"/>
<path d="M471,150L464,157L459,157L454,160L452,167" fill="none" stroke="#b85a80" stroke-width="3.8" stroke-linecap="round" stroke-linejoin="round" opacity="0.75"/>
<path d="M451,40L449,46L451,53" fill="none" stroke="#b85a80" stroke-width="4.4" stroke-linecap="round" stroke-linejoin="round" opacity="0.75"/>
<path d="M552,133L557,130L558,121" fill="none" stroke="#b85a80" stroke-width="4.2" stroke-linecap="round" stroke-linejoin="round" opacity="0.75"/>
<path d="M391,298L385,293L385,286" fill="none" stroke="#b85a80" stroke-width="3.5" stroke-linecap="round" stroke-linejoin="round" opacity="0.75"/>
<path d="M511,74L510,83L505,88L496,89L488,91" fill="none" stroke="#b85a80" stroke-width="4.2" stroke-linecap="round" stroke-linejoin="round" opacity="0.75"/>
<path d="M298,239L297,230L295,223" fill="none" stroke="#b85a80" stroke-width="4.6" stroke-linecap="round" stroke-linejoin="round" opacity="0.75"/>
<path d="M505,148L511,157L517,156L525,164" fill="none" stroke="#b85a80" stroke-width="4.8" stroke-linecap="round" stroke-linejoin="round" opacity="0.75"/>
<path d="M297,455L289,450L284,453" fill="none" stroke="#b85a80" stroke-width="3.6" stroke-linecap="round" stroke-linejoin="round" opacity="0.75"/>
<path d="M518,85L524,85L533,77L541,69" fill="none" stroke="#b85a80" stroke-width="3.1" stroke-linecap="round" stroke-linejoin="round" opacity="0.75"/>
<path d="M329,238L318,240L311,245L305,251L299,260" fill="none" stroke="#b85a80" stroke-width="3.2" stroke-linecap="round" stroke-linejoin="round" opacity="0.75"/>
<path d="M402,359L397,357L396,351L390,341" fill="none" stroke="#b85a80" stroke-width="3.7" stroke-linecap="round" stroke-linejoin="round" opacity="0.75"/>
<path d="M378,340L384,341L389,334L396,327" fill="none" stroke="#b85a80" stroke-width="4.6" stroke-linecap="round" stroke-linejoin="round" opacity="0.75"/>
<path d="M396,251L407,257L415,263" fill="none" stroke="#b85a80" stroke-width="4.4" stroke-linecap="round" stroke-linejoin="round" opacity="0.75"/>
<path d="M368,205L364,200L356,201L352,197L347,195" fill="none" stroke="#b85a80" stroke-width="3.9" stroke-linecap="round" stroke-linejoin="round" opacity="0.75"/>
<path d="M406,332L409,341L408,347L399,353" fill="none" stroke="#b85a80" stroke-width="3.0" stroke-linecap="round" stroke-linejoin="round" opacity="0.75"/>
<path d="M501,60L491,60L485,63L485,70" fill="none" stroke="#b85a80" stroke-width="4.6" stroke-linecap="round" stroke-linejoin="round" opacity="0.75"/>
<path d="M347,196L340,195L331,201L324,204" fill="none" stroke="#b85a80" stroke-width="4.3" stroke-linecap="round" stroke-linejoin="round" opacity="0.75"/>
<path d="M507,124L512,131L516,140L523,143" fill="none" stroke="#b85a80" stroke-width="4.0" stroke-linecap="round" stroke-linejoin="round" opacity="0.75"/>
<path d="M479,44L475,52L480,60L479,68" fill="none" stroke="#b85a80" stroke-width="3.6" stroke-linecap="round" stroke-linejoin="round" opacity="0.75"/>
<path d="M582,65L580,55L588,48" fill="none" stroke="#b85a80" stroke-width="3.0" stroke-linecap="round" stroke-linejoin="round" opacity="0.75"/>
<path d="M387,182L394,174L393,165L397,156" fill="none" stroke="#b85a80" stroke-width="3.9" stroke-linecap="round" stroke-linejoin="round" opacity="0.75"/>
<path d="M564,120L571,114L578,113L583,109" fill="none" stroke="#b85a80" stroke-width="4.2" stroke-linecap="round" stroke-linejoin="round" opacity="0.75"/>
<path d="M494,77L501,75L506,64L514,64L517,57" fill="none" stroke="#b85a80" stroke-width="4.1" stroke-linecap="round" stroke-linejoin="round" opacity="0.75"/>
<path d="M332,311L338,306L341,298L348,290L356,291" fill="none" stroke="#b85a80" stroke-width="4.1" stroke-linecap="round" stroke-linejoin="round" opacity="0.75"/>
<path d="M539,104L534,96L524,92L519,86L513,85" fill="none" stroke="#b85a80" stroke-width="4.8" stroke-linecap="round" stroke-linejoin="round" opacity="0.75"/>
<path d="M419,277L423,275L432,269" fill="none" stroke="#b85a80" stroke-width="4.1" stroke-linecap="round" stroke-linejoin="round" opacity="0.75"/>
<path d="M399,354L407,350L411,344" fill="none" stroke="#b85a80" stroke-width="3.1" stroke-linecap="round" stroke-linejoin="round" opacity="0.75"/>
<path d="M489,94L481,96L479,104L469,105" fill="none" stroke="#b85a80" stroke-width="4.1" stroke-linecap="round" stroke-linejoin="round" opacity="0.75"/>
<path d="M521,65L522,54L528,47" fill="none" stroke="#b85a80" stroke-width="3.2" stroke-linecap="round" stroke-linejoin="round" opacity="0.75"/>
<path d="M310,284L311,274L312,268" fill="none" stroke="#b85a80" stroke-width="4.1" stroke-linecap="round" stroke-linejoin="round" opacity="0.75"/>
<path d="M394,389L399,381L406,374" fill="none" stroke="#b85a80" stroke-width="3.7" stroke-linecap="round" stroke-linejoin="round" opacity="0.75"/>
<path d="M564,74L558,74L554,76" fill="none" stroke="#b85a80" stroke-width="4.7" stroke-linecap="round" stroke-linejoin="round" opacity="0.75"/>
<path d="M373,476L380,477L385,481L383,487L371,488" fill="none" stroke="#b85a80" stroke-width="3.2" stroke-linecap="round" stroke-linejoin="round" opacity="0.75"/>
<path d="M549,49L545,46L536,50L528,44" fill="none" stroke="#b85a80" stroke-width="4.7" stroke-linecap="round" stroke-linejoin="round" opacity="0.75"/>
<path d="M382,491L390,493L395,486" fill="none" stroke="#b85a80" stroke-width="3.4" stroke-linecap="round" stroke-linejoin="round" opacity="0.75"/>
<path d="M482,73L476,66L478,55L479,45" fill="none" stroke="#b85a80" stroke-width="3.2" stroke-linecap="round" stroke-linejoin="round" opacity="0.75"/>
<path d="M412,305L419,307L425,302" fill="none" stroke="#b85a80" stroke-width="4.9" stroke-linecap="round" stroke-linejoin="round" opacity="0.75"/>
<path d="M360,363L356,357L354,352L348,351L340,348" fill="none" stroke="#b85a80" stroke-width="3.1" stroke-linecap="round" stroke-linejoin="round" opacity="0.75"/>
<path d="M329,389L332,382L340,381L346,371" fill="none" stroke="#b85a80" stroke-width="3.9" stroke-linecap="round" stroke-linejoin="round" opacity="0.75"/>
<path d="M368,275L365,268L369,260L378,260L383,258" fill="none" stroke="#b85a80" stroke-width="3.8" stroke-linecap="round" stroke-linejoin="round" opacity="0.75"/>
<path d="M477,104L471,98L464,97L457,104L450,104" fill="none" stroke="#b85a80" stroke-width="4.0" stroke-linecap="round" stroke-linejoin="round" opacity="0.75"/>
<path d="M521,88L521,94L514,99L509,107L503,111" fill="none" stroke="#b85a80" stroke-width="4.9" stroke-linecap="round" stroke-linejoin="round" opacity="0.75"/>
<path d="M294,439L295,446L286,453L280,452L270,455" fill="none" stroke="#b85a80" stroke-width="3.6" stroke-linecap="round" stroke-linejoin="round" opacity="0.75"/>
<path d="M532,39L540,39L545,35" fill="none" stroke="#b85a80" stroke-width="3.8" stroke-linecap="round" stroke-linejoin="round" opacity="0.75"/>
<path d="M384,270L384,278L381,284L378,291L370,299" fill="none" stroke="#b85a80" stroke-width="3.0" stroke-linecap="round" stroke-linejoin="round" opacity="0.75"/>
<path d="M345,337L350,347L359,355L364,356L372,355" fill="none" stroke="#b85a80" stroke-width="3.6" stroke-linecap="round" stroke-linejoin="round" opacity="0.75"/>
<path d="M484,35L486,45L488,55L482,63" fill="none" stroke="#b85a80" stroke-width="3.7" stroke-linecap="round" stroke-linejoin="round" opacity="0.75"/>
<path d="M456,202L467,200L470,195L473,190L476,185" fill="none" stroke="#b85a80" stroke-width="3.1" stroke-linecap="round" stroke-linejoin="round" opacity="0.75"/>
<path d="M596,60L599,53L599,44" fill="none" stroke="#b85a80" stroke-width="3.8" stroke-linecap="round" stroke-linejoin="round" opacity="0.75"/>
<path d="M479,35L487,42L497,48L498,55L498,61" fill="none" stroke="#b85a80" stroke-width="4.5" stroke-linecap="round" stroke-linejoin="round" opacity="0.75"/>
<path d="M388,284L394,290L396,300L404,302L409,305" fill="none" stroke="#b85a80" stroke-width="4.0" stroke-linecap="round" stroke-linejoin="round" opacity="0.75"/>
<path d="M354,206L356,201L363,193L374,188L376,183" fill="none" stroke="#b85a80" stroke-width="4.5" stroke-linecap="round" stroke-linejoin="round" opacity="0.75"/>
<path d="M321,383L317,372L310,363L314,352" fill="none" stroke="#b85a80" stroke-width="5.0" stroke-linecap="round" stroke-linejoin="round" opacity="0.75"/>
<path d="M404,327L393,331L388,337L380,341L375,350" fill="none" stroke="#b85a80" stroke-width="4.0" stroke-linecap="round" stroke-linejoin="round" opacity="0.75"/>
<path d="M386,362L380,362L374,357L369,354L361,351" fill="none" stroke="#b85a80" stroke-width="4.9" stroke-linecap="round" stroke-linejoin="round" opacity="0.75"/>
<path d="M312,447L318,447L323,436L321,429" fill="none" stroke="#b85a80" stroke-width="4.5" stroke-linecap="round" stroke-linejoin="round" opacity="0.75"/>
<path d="M420,200L429,192L438,190L444,196" fill="none" stroke="#b85a80" stroke-width="3.3" stroke-linecap="round" stroke-linejoin="round" opacity="0.75"/>
<path d="M387,473L392,468L397,460L401,449" fill="none" stroke="#b85a80" stroke-width="3.7" stroke-linecap="round" stroke-linejoin="round" opacity="0.75"/>
<path d="M372,301L380,303L387,302L397,299L399,292" fill="none" stroke="#b85a80" stroke-width="4.1" stroke-linecap="round" stroke-linejoin="round" opacity="0.75"/>
<path d="M297,277L299,284L295,295L292,302" fill="none" stroke="#b85a80" stroke-width="3.1" stroke-linecap="round" stroke-linejoin="round" opacity="0.75"/>
<path d="M361,345L369,336L369,327L364,319L365,309" fill="none" stroke="#b85a80" stroke-width="3.3" stroke-linecap="round" stroke-linejoin="round" opacity="0.75"/>
<path d="M430,261L423,268L419,273L409,279L398,280" fill="none" stroke="#b85a80" stroke-width="3.9" stroke-linecap="round" stroke-linejoin="round" opacity="0.75"/>
<path d="M392,400L388,390L381,386L375,380L365,382" fill="none" stroke="#b85a80" stroke-width="3.7" stroke-linecap="round" stroke-linejoin="round" opacity="0.75"/>
<path d="M439,106L440,114L439,121" fill="none" stroke="#b85a80" stroke-width="3.4" stroke-linecap="round" stroke-linejoin="round" opacity="0.75"/>
<path d="M469,228L475,230L482,225L483,219" fill="none" stroke="#b85a80" stroke-width="4.7" stroke-linecap="round" stroke-linejoin="round" opacity="0.75"/>
<path d="M389,164L392,155L387,149L390,144" fill="none" stroke="#b85a80" stroke-width="4.6" stroke-linecap="round" stroke-linejoin="round" opacity="0.75"/>
<path d="M465,106L473,113L476,118L474,123" fill="none" stroke="#b85a80" stroke-width="4.4" stroke-linecap="round" stroke-linejoin="round" opacity="0.75"/>
<path d="M495,142L499,151L507,152" fill="none" stroke="#b85a80" stroke-width="4.8" stroke-linecap="round" stroke-linejoin="round" opacity="0.75"/>
<path d="M397,366L393,362L392,357L395,348" fill="none" stroke="#b85a80" stroke-width="4.3" stroke-linecap="round" stroke-linejoin="round" opacity="0.75"/>
<path d="M466,53L471,63L465,73L458,81L457,87" fill="none" stroke="#b85a80" stroke-width="3.6" stroke-linecap="round" stroke-linejoin="round" opacity="0.75"/>
<path d="M451,25L447,15L438,14L432,22" fill="none" stroke="#b85a80" stroke-width="4.6" stroke-linecap="round" stroke-linejoin="round" opacity="0.75"/>
<path d="M320,415L327,418L329,423" fill="none" stroke="#b85a80" stroke-width="4.4" stroke-linecap="round" stroke-linejoin="round" opacity="0.75"/>
<path d="M311,256L309,261L297,262" fill="none" stroke="#b85a80" stroke-width="4.8" stroke-linecap="round" stroke-linejoin="round" opacity="0.75"/>
<path d="M589,23L585,27L578,32L571,35" fill="none" stroke="#b85a80" stroke-width="4.1" stroke-linecap="round" stroke-linejoin="round" opacity="0.75"/>
<path d="M338,266L332,259L335,253L343,246" fill="none" stroke="#b85a80" stroke-width="3.8" stroke-linecap="round" stroke-linejoin="round" opacity="0.75"/>
<path d="M565,88L562,82L565,75" fill="none" stroke="#b85a80" stroke-width="4.9" stroke-linecap="round" stroke-linejoin="round" opacity="0.75"/>
<path d="M481,185L483,196L485,202L485,207" fill="none" stroke="#b85a80" stroke-width="4.7" stroke-linecap="round" stroke-linejoin="round" opacity="0.75"/>
<path d="M341,379L349,378L355,386" fill="none" stroke="#b85a80" stroke-width="4.8" stroke-linecap="round" stroke-linejoin="round" opacity="0.75"/>
<path d="M438,197L440,206L444,214L440,225" fill="none" stroke="#b85a80" stroke-width="3.7" stroke-linecap="round" stroke-linejoin="round" opacity="0.75"/>
<path d="M379,412L381,421L380,429L384,437L382,445" fill="none" stroke="#b85a80" stroke-width="4.3" stroke-linecap="round" stroke-linejoin="round" opacity="0.75"/>
<path d="M342,440L333,440L326,434" fill="none" stroke="#b85a80" stroke-width="3.3" stroke-linecap="round" stroke-linejoin="round" opacity="0.75"/>
<path d="M338,503L335,512L331,519L323,522" fill="none" stroke="#b85a80" stroke-width="3.4" stroke-linecap="round" stroke-linejoin="round" opacity="0.75"/>
<path d="M412,246L410,237L411,228L409,221L401,220" fill="none" stroke="#b85a80" stroke-width="4.8" stroke-linecap="round" stroke-linejoin="round" opacity="0.75"/>
<path d="M314,286L325,289L331,298L340,301" fill="none" stroke="#b85a80" stroke-width="4.2" stroke-linecap="round" stroke-linejoin="round" opacity="0.75"/>
<path d="M329,287L338,286L346,281L357,285" fill="none" stroke="#b85a80" stroke-width="4.2" stroke-linecap="round" stroke-linejoin="round" opacity="0.75"/>
<path d="M393,321L404,325L414,325L417,330" fill="none" stroke="#b85a80" stroke-width="4.5" stroke-linecap="round" stroke-linejoin="round" opacity="0.75"/>
<path d="M373,418L378,422L382,431" fill="none" stroke="#b85a80" stroke-width="3.7" stroke-linecap="round" stroke-linejoin="round" opacity="0.75"/>
<path d="M431,187L431,182L432,175L438,168L435,157" fill="none" stroke="#b85a80" stroke-width="4.9" stroke-linecap="round" stroke-linejoin="round" opacity="0.75"/>
<path d="M363,436L373,442L374,449L378,453L378,462" fill="none" stroke="#b85a80" stroke-width="4.3" stroke-linecap="round" stroke-linejoin="round" opacity="0.75"/>
<path d="M473,41L481,35L484,31L495,34L496,41" fill="none" stroke="#b85a80" stroke-width="3.1" stroke-linecap="round" stroke-linejoin="round" opacity="0.75"/>
<path d="M474,118L472,130L476,133L485,137" fill="none" stroke="#b85a80" stroke-width="4.7" stroke-linecap="round" stroke-linejoin="round" opacity="0.75"/>
<path d="M492,144L498,153L496,159L496,165" fill="none" stroke="#b85a80" stroke-width="4.1" stroke-linecap="round" stroke-linejoin="round" opacity="0.75"/>
<path d="M399,432L391,423L386,424" fill="none" stroke="#b85a80" stroke-width="4.5" stroke-linecap="round" stroke-linejoin="round" opacity="0.75"/>
<path d="M481,152L474,156L474,161" fill="none" stroke="#b85a80" stroke-width="4.5" stroke-linecap="round" stroke-linejoin="round" opacity="0.75"/>
<path d="M497,116L502,117L510,117L516,114L520,105" fill="none" stroke="#b85a80" stroke-width="3.5" stroke-linecap="round" stroke-linejoin="round" opacity="0.75"/>
<path d="M406,213L399,214L392,206L387,197" fill="none" stroke="#b85a80" stroke-width="3.7" stroke-linecap="round" stroke-linejoin="round" opacity="0.75"/>
<path d="M518,145L526,145L534,147L541,147" fill="none" stroke="#b85a80" stroke-width="5.0" stroke-linecap="round" stroke-linejoin="round" opacity="0.75"/>
<path d="M488,197L479,193L473,193L462,190" fill="none" stroke="#b85a80" stroke-width="4.5" stroke-linecap="round" stroke-linejoin="round" opacity="0.75"/>
<path d="M364,377L371,378L380,375L382,364" fill="none" stroke="#b85a80" stroke-width="4.9" stroke-linecap="round" stroke-linejoin="round" opacity="0.75"/>
<path d="M515,101L505,99L495,103L488,99L484,94" fill="none" stroke="#b85a80" stroke-width="4.9" stroke-linecap="round" stroke-linejoin="round" opacity="0.75"/>
<path d="M362,253L362,263L352,267L347,271L346,277" fill="none" stroke="#b85a80" stroke-width="3.0" stroke-linecap="round" stroke-linejoin="round" opacity="0.75"/>
<path d="M424,152L419,156L414,154" fill="none" stroke="#b85a80" stroke-width="4.6" stroke-linecap="round" stroke-linejoin="round" opacity="0.75"/>
<path d="M387,347L383,353L378,357L371,358L364,355" fill="none" stroke="#b85a80" stroke-width="4.9" stroke-linecap="round" stroke-linejoin="round" opacity="0.75"/>
<path d="M312,462L312,469L314,477" fill="none" stroke="#b85a80" stroke-width="4.0" stroke-linecap="round" stroke-linejoin="round" opacity="0.75"/>
<path d="M391,299L390,305L391,310L388,321" fill="none" stroke="#b85a80" stroke-width="5.0" stroke-linecap="round" stroke-linejoin="round" opacity="0.75"/>
<path d="M509,112L509,106L499,101" fill="none" stroke="#b85a80" stroke-width="3.9" stroke-linecap="round" stroke-linejoin="round" opacity="0.75"/>
<path d="M386,179L383,186L390,195L393,207L387,216" fill="none" stroke="#b85a80" stroke-width="4.1" stroke-linecap="round" stroke-linejoin="round" opacity="0.75"/>
<path d="M336,363L326,364L320,356" fill="none" stroke="#b85a80" stroke-width="4.4" stroke-linecap="round" stroke-linejoin="round" opacity="0.75"/>
<path d="M333,310L334,315L338,327" fill="none" stroke="#b85a80" stroke-width="4.0" stroke-linecap="round" stroke-linejoin="round" opacity="0.75"/>
<path d="M443,112L440,121L440,128L437,135L426,141" fill="none" stroke="#b85a80" stroke-width="3.3" stroke-linecap="round" stroke-linejoin="round" opacity="0.75"/>
<path d="M369,428L376,424L384,425L389,434" fill="none" stroke="#b85a80" stroke-width="3.8" stroke-linecap="round" stroke-linejoin="round" opacity="0.75"/>
<path d="M340,316L346,309L351,306L360,307L365,311" fill="none" stroke="#b85a80" stroke-width="3.2" stroke-linecap="round" stroke-linejoin="round" opacity="0.75"/>
<path d="M388,198L396,197L405,202" fill="none" stroke="#b85a80" stroke-width="4.2" stroke-linecap="round" stroke-linejoin="round" opacity="0.75"/>
<path d="M436,190L446,192L452,201L452,210L455,219" fill="none" stroke="#b85a80" stroke-width="4.3" stroke-linecap="round" stroke-linejoin="round" opacity="0.75"/>
<path d="M575,90L579,100L585,107L592,108" fill="none" stroke="#b85a80" stroke-width="4.6" stroke-linecap="round" stroke-linejoin="round" opacity="0.75"/>
<path d="M313,431L313,437L318,439" fill="none" stroke="#b85a80" stroke-width="4.3" stroke-linecap="round" stroke-linejoin="round" opacity="0.75"/>
<path d="M548,65L547,72L546,79L551,87L549,94" fill="none" stroke="#b85a80" stroke-width="4.4" stroke-linecap="round" stroke-linejoin="round" opacity="0.75"/>
<path d="M506,45L513,49L511,60L508,68L513,75" fill="none" stroke="#b85a80" stroke-width="4.4" stroke-linecap="round" stroke-linejoin="round" opacity="0.75"/>
<path d="M414,280L410,275L405,277L398,287" fill="none" stroke="#b85a80" stroke-width="3.1" stroke-linecap="round" stroke-linejoin="round" opacity="0.75"/>
<path d="M481,118L473,110L462,108" fill="none" stroke="#b85a80" stroke-width="4.0" stroke-linecap="round" stroke-linejoin="round" opacity="0.75"/>
<path d="M319,425L326,428L329,436" fill="none" stroke="#b85a80" stroke-width="3.9" stroke-linecap="round" stroke-linejoin="round" opacity="0.75"/>
<path d="M397,321L393,310L381,309" fill="none" stroke="#b85a80" stroke-width="4.4" stroke-linecap="round" stroke-linejoin="round" opacity="0.75"/>
<path d="M402,280L408,280L418,283" fill="none" stroke="#b85a80" stroke-width="3.0" stroke-linecap="round" stroke-linejoin="round" opacity="0.75"/>
<path d="M430,283L423,286L417,280L406,279L398,280" fill="none" stroke="#b85a80" stroke-width="4.7" stroke-linecap="round" stroke-linejoin="round" opacity="0.75"/>
<path d="M615,22L608,15L605,7" fill="none" stroke="#b85a80" stroke-width="3.8" stroke-linecap="round" stroke-linejoin="round" opacity="0.75"/>
<path d="M471,25L471,15L474,9L478,-2L481,-12" fill="none" stroke="#b85a80" stroke-width="3.6" stroke-linecap="round" stroke-linejoin="round" opacity="0.75"/>
<path d="M468,129L466,137L463,142" fill="none" stroke="#b85a80" stroke-width="3.7" stroke-linecap="round" stroke-linejoin="round" opacity="0.75"/>
<path d="M498,149L505,147L509,137L510,132" fill="none" stroke="#b85a80" stroke-width="3.2" stroke-linecap="round" stroke-linejoin="round" opacity="0.75"/>
<path d="M373,348L373,359L370,370L367,375L360,376" fill="none" stroke="#b85a80" stroke-width="3.1" stroke-linecap="round" stroke-linejoin="round" opacity="0.75"/>
<path d="M583,87L591,78L600,74L608,70" fill="none" stroke="#b85a80" stroke-width="4.5" stroke-linecap="round" stroke-linejoin="round" opacity="0.75"/>
<path d="M315,361L313,372L322,380L326,383" fill="none" stroke="#b85a80" stroke-width="4.4" stroke-linecap="round" stroke-linejoin="round" opacity="0.75"/>
<path d="M357,211L348,211L344,208" fill="none" stroke="#b85a80" stroke-width="4.7" stroke-linecap="round" stroke-linejoin="round" opacity="0.75"/>
<path d="M488,190L494,192L500,190L511,189" fill="none" stroke="#b85a80" stroke-width="4.5" stroke-linecap="round" stroke-linejoin="round" opacity="0.75"/>
<path d="M514,80L514,69L506,63" fill="none" stroke="#b85a80" stroke-width="3.2" stroke-linecap="round" stroke-linejoin="round" opacity="0.75"/>
<path d="M306,350L303,344L309,334" fill="none" stroke="#b85a80" stroke-width="3.8" stroke-linecap="round" stroke-linejoin="round" opacity="0.75"/>
<path d="M441,178L436,170L434,162L426,155" fill="none" stroke="#b85a80" stroke-width="4.4" stroke-linecap="round" stroke-linejoin="round" opacity="0.75"/>
<path d="M487,38L485,48L481,55" fill="none" stroke="#b85a80" stroke-width="3.3" stroke-linecap="round" stroke-linejoin="round" opacity="0.75"/>
<path d="M510,147L500,148L494,153L495,163L492,169" fill="none" stroke="#b85a80" stroke-width="3.9" stroke-linecap="round" stroke-linejoin="round" opacity="0.75"/>
<path d="M382,421L374,420L368,422L360,427L353,431" fill="none" stroke="#b85a80" stroke-width="3.5" stroke-linecap="round" stroke-linejoin="round" opacity="0.75"/>
<path d="M459,115L465,120L469,130L466,136" fill="none" stroke="#b85a80" stroke-width="4.6" stroke-linecap="round" stroke-linejoin="round" opacity="0.75"/>
<path d="M340,441L333,441L321,439L315,441L310,443" fill="none" stroke="#b85a80" stroke-width="4.2" stroke-linecap="round" stroke-linejoin="round" opacity="0.75"/>
<path d="M488,182L492,187L492,193" fill="none" stroke="#b85a80" stroke-width="4.5" stroke-linecap="round" stroke-linejoin="round" opacity="0.75"/>
<path d="M380,440L388,444L393,442L393,435" fill="none" stroke="#b85a80" stroke-width="4.4" stroke-linecap="round" stroke-linejoin="round" opacity="0.75"/>
<path d="M396,217L389,216L381,222L376,220L367,220" fill="none" stroke="#b85a80" stroke-width="4.7" stroke-linecap="round" stroke-linejoin="round" opacity="0.75"/>
<path d="M317,230L309,237L300,241L295,240L287,245" fill="none" stroke="#b85a80" stroke-width="4.4" stroke-linecap="round" stroke-linejoin="round" opacity="0.75"/>
<path d="M314,424L318,414L325,412" fill="none" stroke="#b85a80" stroke-width="3.1" stroke-linecap="round" stroke-linejoin="round" opacity="0.75"/>
<path d="M377,282L378,291L375,297L375,302L375,310" fill="none" stroke="#b85a80" stroke-width="4.2" stroke-linecap="round" stroke-linejoin="round" opacity="0.75"/>
<path d="M385,437L383,430L389,424" fill="none" stroke="#b85a80" stroke-width="4.1" stroke-linecap="round" stroke-linejoin="round" opacity="0.75"/>
<path d="M361,490L368,483L379,484" fill="none" stroke="#b85a80" stroke-width="4.6" stroke-linecap="round" stroke-linejoin="round" opacity="0.75"/>
<path d="M290,440L282,446L274,444L270,440L269,434" fill="none" stroke="#b85a80" stroke-width="3.4" stroke-linecap="round" stroke-linejoin="round" opacity="0.75"/>
<path d="M287,267L291,276L291,285L293,290L297,297" fill="none" stroke="#b85a80" stroke-width="3.7" stroke-linecap="round" stroke-linejoin="round" opacity="0.75"/>
<path d="M423,300L427,292L430,281" fill="none" stroke="#b85a80" stroke-width="4.1" stroke-linecap="round" stroke-linejoin="round" opacity="0.75"/>
<path d="M585,25L582,34L580,43" fill="none" stroke="#b85a80" stroke-width="3.5" stroke-linecap="round" stroke-linejoin="round" opacity="0.75"/>
<path d="M539,143L547,150L547,161L544,171L543,180" fill="none" stroke="#b85a80" stroke-width="4.1" stroke-linecap="round" stroke-linejoin="round" opacity="0.75"/>
<path d="M312,347L324,346L332,349" fill="none" stroke="#b85a80" stroke-width="4.3" stroke-linecap="round" stroke-linejoin="round" opacity="0.75"/>
<path d="M350,447L350,438L342,436L339,431L333,430" fill="none" stroke="#b85a80" stroke-width="4.9" stroke-linecap="round" stroke-linejoin="round" opacity="0.75"/>
<path d="M383,511L394,515L402,507" fill="none" stroke="#b85a80" stroke-width="3.3" stroke-linecap="round" stroke-linejoin="round" opacity="0.75"/>
<path d="M376,213L369,216L365,222L358,226L358,232" fill="none" stroke="#b85a80" stroke-width="3.5" stroke-linecap="round" stroke-linejoin="round" opacity="0.75"/>
<path d="M483,173L483,164L490,161L495,157L497,152" fill="none" stroke="#b85a80" stroke-width="4.1" stroke-linecap="round" stroke-linejoin="round" opacity="0.75"/>
<path d="M320,315L309,313L304,313L299,304L298,295" fill="none" stroke="#b85a80" stroke-width="3.6" stroke-linecap="round" stroke-linejoin="round" opacity="0.75"/>
<path d="M352,254L360,254L364,257" fill="none" stroke="#b85a80" stroke-width="3.9" stroke-linecap="round" stroke-linejoin="round" opacity="0.75"/>
<path d="M610,22L617,31L622,42L625,50L630,59" fill="none" stroke="#b85a80" stroke-width="4.1" stroke-linecap="round" stroke-linejoin="round" opacity="0.75"/>
<path d="M501,151L495,149L494,141L494,132" fill="none" stroke="#b85a80" stroke-width="3.5" stroke-linecap="round" stroke-linejoin="round" opacity="0.75"/>
<path d="M473,59L463,58L456,61L447,56" fill="none" stroke="#b85a80" stroke-width="4.4" stroke-linecap="round" stroke-linejoin="round" opacity="0.75"/>
<path d="M522,81L527,84L531,89L531,97L535,101" fill="none" stroke="#b85a80" stroke-width="3.8" stroke-linecap="round" stroke-linejoin="round" opacity="0.75"/>
<path d="M415,239L418,231L417,226" fill="none" stroke="#b85a80" stroke-width="4.2" stroke-linecap="round" stroke-linejoin="round" opacity="0.75"/>
<path d="M476,166L486,169L493,168L497,165" fill="none" stroke="#b85a80" stroke-width="3.2" stroke-linecap="round" stroke-linejoin="round" opacity="0.75"/>
<path d="M462,40L470,35L478,38L489,37" fill="none" stroke="#b85a80" stroke-width="3.3" stroke-linecap="round" stroke-linejoin="round" opacity="0.75"/>
<path d="M483,30L481,38L474,38L468,37L461,28" fill="none" stroke="#b85a80" stroke-width="3.1" stroke-linecap="round" stroke-linejoin="round" opacity="0.75"/>
<path d="M369,516L373,514L380,515L383,520" fill="none" stroke="#b85a80" stroke-width="3.5" stroke-linecap="round" stroke-linejoin="round" opacity="0.75"/>
<path d="M504,166L499,159L501,152" fill="none" stroke="#b85a80" stroke-width="4.9" stroke-linecap="round" stroke-linejoin="round" opacity="0.75"/>
<path d="M426,126L426,119L419,115L410,120" fill="none" stroke="#b85a80" stroke-width="3.2" stroke-linecap="round" stroke-linejoin="round" opacity="0.75"/>
<path d="M367,465L362,466L356,459L360,448L364,445" fill="none" stroke="#b85a80" stroke-width="3.6" stroke-linecap="round" stroke-linejoin="round" opacity="0.75"/>
<path d="M341,320L336,325L328,329L318,324L316,317" fill="none" stroke="#b85a80" stroke-width="3.7" stroke-linecap="round" stroke-linejoin="round" opacity="0.75"/>
<path d="M353,413L352,406L347,400L346,390" fill="none" stroke="#b85a80" stroke-width="4.7" stroke-linecap="round" stroke-linejoin="round" opacity="0.75"/>
<path d="M595,73L598,84L593,94" fill="none" stroke="#b85a80" stroke-width="3.2" stroke-linecap="round" stroke-linejoin="round" opacity="0.75"/>
<path d="M319,452L327,447L338,451L346,446L345,441" fill="none" stroke="#b85a80" stroke-width="3.7" stroke-linecap="round" stroke-linejoin="round" opacity="0.75"/>
<path d="M424,289L428,295L428,303L418,307L409,305" fill="none" stroke="#b85a80" stroke-width="5.0" stroke-linecap="round" stroke-linejoin="round" opacity="0.75"/>
<path d="M296,235L301,232L307,228L312,223L313,213" fill="none" stroke="#b85a80" stroke-width="3.6" stroke-linecap="round" stroke-linejoin="round" opacity="0.75"/>
<path d="M494,177L493,170L491,159L484,153" fill="none" stroke="#b85a80" stroke-width="3.4" stroke-linecap="round" stroke-linejoin="round" opacity="0.75"/>
<path d="M529,152L539,147L543,140L554,139L561,143" fill="none" stroke="#b85a80" stroke-width="3.3" stroke-linecap="round" stroke-linejoin="round" opacity="0.75"/>
<path d="M318,465L327,467L334,470" fill="none" stroke="#b85a80" stroke-width="3.5" stroke-linecap="round" stroke-linejoin="round" opacity="0.75"/>
<path d="M412,207L406,215L399,216L392,220" fill="none" stroke="#b85a80" stroke-width="3.5" stroke-linecap="round" stroke-linejoin="round" opacity="0.75"/>
<path d="M362,412L369,404L368,396L369,388L375,382" fill="none" stroke="#b85a80" stroke-width="3.3" stroke-linecap="round" stroke-linejoin="round" opacity="0.75"/>
<path d="M438,141L429,141L425,132L423,124" fill="none" stroke="#b85a80" stroke-width="5.0" stroke-linecap="round" stroke-linejoin="round" opacity="0.75"/>
<path d="M467,233L469,225L472,217L479,210L487,206" fill="none" stroke="#b85a80" stroke-width="4.7" stroke-linecap="round" stroke-linejoin="round" opacity="0.75"/>
<path d="M423,143L419,154L411,160L408,164" fill="none" stroke="#b85a80" stroke-width="3.8" stroke-linecap="round" stroke-linejoin="round" opacity="0.75"/>
<path d="M359,355L366,349L373,347" fill="none" stroke="#b85a80" stroke-width="4.3" stroke-linecap="round" stroke-linejoin="round" opacity="0.75"/>
<path d="M366,269L367,263L361,255" fill="none" stroke="#b85a80" stroke-width="3.3" stroke-linecap="round" stroke-linejoin="round" opacity="0.75"/>
<path d="M376,207L381,215L388,218L395,222L404,229" fill="none" stroke="#b85a80" stroke-width="3.6" stroke-linecap="round" stroke-linejoin="round" opacity="0.75"/>
<path d="M612,18L622,18L631,15L637,14" fill="none" stroke="#b85a80" stroke-width="4.4" stroke-linecap="round" stroke-linejoin="round" opacity="0.75"/>
<path d="M554,35L550,40L550,46L557,49L566,47" fill="none" stroke="#b85a80" stroke-width="4.9" stroke-linecap="round" stroke-linejoin="round" opacity="0.75"/>
<path d="M471,155L476,154L483,157L493,152L502,154" fill="none" stroke="#b85a80" stroke-width="3.0" stroke-linecap="round" stroke-linejoin="round" opacity="0.75"/>
<path d="M352,246L361,251L367,258" fill="none" stroke="#b85a80" stroke-width="4.9" stroke-linecap="round" stroke-linejoin="round" opacity="0.75"/>
<path d="M602,54L591,54L587,43L577,39" fill="none" stroke="#b85a80" stroke-width="3.0" stroke-linecap="round" stroke-linejoin="round" opacity="0.75"/>
<path d="M318,432L320,437L315,444L315,453L319,460" fill="none" stroke="#b85a80" stroke-width="4.9" stroke-linecap="round" stroke-linejoin="round" opacity="0.75"/>
<path d="M321,360L315,352L311,347L310,337" fill="none" stroke="#b85a80" stroke-width="3.0" stroke-linecap="round" stroke-linejoin="round" opacity="0.75"/>
<path d="M389,183L381,177L375,177" fill="none" stroke="#b85a80" stroke-width="3.8" stroke-linecap="round" stroke-linejoin="round" opacity="0.75"/>
<path d="M397,398L405,396L412,393L414,387L422,384" fill="none" stroke="#b85a80" stroke-width="4.1" stroke-linecap="round" stroke-linejoin="round" opacity="0.75"/>
<path d="M442,108L435,110L426,109L419,107L415,103" fill="none" stroke="#b85a80" stroke-width="4.6" stroke-linecap="round" stroke-linejoin="round" opacity="0.75"/>
<path d="M407,211L414,211L421,213L426,218" fill="none" stroke="#b85a80" stroke-width="4.7" stroke-linecap="round" stroke-linejoin="round" opacity="0.75"/>
<path d="M300,492L299,480L292,474L286,466L281,467" fill="none" stroke="#b85a80" stroke-width="4.5" stroke-linecap="round" stroke-linejoin="round" opacity="0.75"/>
<path d="M475,181L478,192L482,202" fill="none" stroke="#b85a80" stroke-width="4.5" stroke-linecap="round" stroke-linejoin="round" opacity="0.75"/>
<path d="M433,167L439,164L442,159" fill="none" stroke="#b85a80" stroke-width="4.4" stroke-linecap="round" stroke-linejoin="round" opacity="0.75"/>
<path d="M365,274L367,281L364,285" fill="none" stroke="#b85a80" stroke-width="4.9" stroke-linecap="round" stroke-linejoin="round" opacity="0.75"/>
<path d="M402,296L413,294L422,294L434,297" fill="none" stroke="#b85a80" stroke-width="3.2" stroke-linecap="round" stroke-linejoin="round" opacity="0.75"/>
<path d="M324,351L330,357L335,356L340,359L350,365" fill="none" stroke="#b85a80" stroke-width="3.3" stroke-linecap="round" stroke-linejoin="round" opacity="0.75"/>
<path d="M530,141L533,148L538,155L537,164" fill="none" stroke="#b85a80" stroke-width="3.2" stroke-linecap="round" stroke-linejoin="round" opacity="0.75"/>
<path d="M493,55L495,48L487,41" fill="none" stroke="#b85a80" stroke-width="3.8" stroke-linecap="round" stroke-linejoin="round" opacity="0.75"/>
<path d="M460,132L460,140L461,145L457,154L451,157" fill="none" stroke="#b85a80" stroke-width="4.4" stroke-linecap="round" stroke-linejoin="round" opacity="0.75"/>
<path d="M389,468L384,464L376,458L371,454L363,446" fill="none" stroke="#b85a80" stroke-width="4.5" stroke-linecap="round" stroke-linejoin="round" opacity="0.75"/>
<path d="M390,188L393,182L385,174L380,167L378,162" fill="none" stroke="#b85a80" stroke-width="3.5" stroke-linecap="round" stroke-linejoin="round" opacity="0.75"/>
<path d="M362,359L357,368L349,372" fill="none" stroke="#b85a80" stroke-width="4.5" stroke-linecap="round" stroke-linejoin="round" opacity="0.75"/>
<path d="M426,302L423,307L424,319L414,324L408,327" fill="none" stroke="#b85a80" stroke-width="3.7" stroke-linecap="round" stroke-linejoin="round" opacity="0.75"/>
<path d="M416,170L408,168L400,164L391,163L384,160" fill="none" stroke="#b85a80" stroke-width="4.6" stroke-linecap="round" stroke-linejoin="round" opacity="0.75"/>
<path d="M493,176L494,184L493,189L497,193" fill="none" stroke="#b85a80" stroke-width="4.4" stroke-linecap="round" stroke-linejoin="round" opacity="0.75"/>
<path d="M462,75L457,73L453,69L443,70" fill="none" stroke="#b85a80" stroke-width="4.8" stroke-linecap="round" stroke-linejoin="round" opacity="0.75"/>
<path d="M329,405L327,413L331,418" fill="none" stroke="#b85a80" stroke-width="4.4" stroke-linecap="round" stroke-linejoin="round" opacity="0.75"/>
<path d="M364,470L368,467L377,468L380,461" fill="none" stroke="#b85a80" stroke-width="3.5" stroke-linecap="round" stroke-linejoin="round" opacity="0.75"/>
<path d="M408,242L417,248L425,246" fill="none" stroke="#b85a80" stroke-width="3.3" stroke-linecap="round" stroke-linejoin="round" opacity="0.75"/>
<path d="M399,291L395,288L386,282L381,284L376,293" fill="none" stroke="#b85a80" stroke-width="3.1" stroke-linecap="round" stroke-linejoin="round" opacity="0.75"/>
<path d="M329,231L327,226L321,224L312,225L308,221" fill="none" stroke="#b85a80" stroke-width="4.4" stroke-linecap="round" stroke-linejoin="round" opacity="0.75"/>
<path d="M389,395L396,390L401,386L407,385" fill="none" stroke="#b85a80" stroke-width="3.9" stroke-linecap="round" stroke-linejoin="round" opacity="0.75"/>
<path d="M382,244L378,248L375,259" fill="none" stroke="#b85a80" stroke-width="4.1" stroke-linecap="round" stroke-linejoin="round" opacity="0.75"/>
<path d="M422,154L415,151L409,144" fill="none" stroke="#b85a80" stroke-width="3.7" stroke-linecap="round" stroke-linejoin="round" opacity="0.75"/>
<path d="M545,32L548,43L540,49L536,58L535,63" fill="none" stroke="#b85a80" stroke-width="4.1" stroke-linecap="round" stroke-linejoin="round" opacity="0.75"/>
<path d="M390,245L391,236L395,226L397,215" fill="none" stroke="#b85a80" stroke-width="3.3" stroke-linecap="round" stroke-linejoin="round" opacity="0.75"/>
<path d="M450,101L444,99L435,103L429,106L421,100" fill="none" stroke="#b85a80" stroke-width="3.6" stroke-linecap="round" stroke-linejoin="round" opacity="0.75"/>
<path d="M422,163L415,160L406,166" fill="none" stroke="#b85a80" stroke-width="4.7" stroke-linecap="round" stroke-linejoin="round" opacity="0.75"/>
<path d="M386,418L395,421L403,420L411,415" fill="none" stroke="#b85a80" stroke-width="4.7" stroke-linecap="round" stroke-linejoin="round" opacity="0.75"/>
<path d="M390,275L384,278L383,287" fill="none" stroke="#b85a80" stroke-width="3.9" stroke-linecap="round" stroke-linejoin="round" opacity="0.75"/>
<path d="M369,235L369,242L363,247L355,248" fill="none" stroke="#b85a80" stroke-width="3.9" stroke-linecap="round" stroke-linejoin="round" opacity="0.75"/>
<path d="M451,217L446,207L440,203" fill="none" stroke="#b85a80" stroke-width="3.0" stroke-linecap="round" stroke-linejoin="round" opacity="0.75"/>
<path d="M388,492L398,499L405,500L415,498L422,496" fill="none" stroke="#b85a80" stroke-width="4.1" stroke-linecap="round" stroke-linejoin="round" opacity="0.75"/>
<path d="M484,184L489,180L498,176L503,173L514,172" fill="none" stroke="#b85a80" stroke-width="3.6" stroke-linecap="round" stroke-linejoin="round" opacity="0.75"/>
<path d="M548,130L546,137L546,146" fill="none" stroke="#b85a80" stroke-width="3.9" stroke-linecap="round" stroke-linejoin="round" opacity="0.75"/>
<path d="M173,292L165,294L158,299" fill="none" stroke="#c87896" stroke-width="2.5" stroke-linecap="round" stroke-linejoin="round" opacity="0.6"/>
<path d="M739,151L742,145L744,138L752,136L761,139" fill="none" stroke="#c87896" stroke-width="2.7" stroke-linecap="round" stroke-linejoin="round" opacity="0.6"/>
<path d="M213,185L219,180L230,179L234,185L235,195" fill="none" stroke="#c87896" stroke-width="2.2" stroke-linecap="round" stroke-linejoin="round" opacity="0.6"/>
<path d="M392,449L380,451L374,450" fill="none" stroke="#c87896" stroke-width="2.8" stroke-linecap="round" stroke-linejoin="round" opacity="0.6"/>
<path d="M274,375L284,373L290,381" fill="none" stroke="#c87896" stroke-width="2.3" stroke-linecap="round" stroke-linejoin="round" opacity="0.6"/>
<path d="M633,367L638,365L648,361L655,362L658,371" fill="none" stroke="#c87896" stroke-width="2.4" stroke-linecap="round" stroke-linejoin="round" opacity="0.6"/>
<path d="M615,163L613,173L603,180L599,184" fill="none" stroke="#c87896" stroke-width="2.4" stroke-linecap="round" stroke-linejoin="round" opacity="0.6"/>
<path d="M496,293L494,286L493,280L483,276L475,274" fill="none" stroke="#c87896" stroke-width="2.1" stroke-linecap="round" stroke-linejoin="round" opacity="0.6"/>
<path d="M669,460L668,471L665,478L666,484" fill="none" stroke="#c87896" stroke-width="2.6" stroke-linecap="round" stroke-linejoin="round" opacity="0.6"/>
<path d="M339,167L346,167L354,169" fill="none" stroke="#c87896" stroke-width="2.8" stroke-linecap="round" stroke-linejoin="round" opacity="0.6"/>
<path d="M348,498L349,487L347,479" fill="none" stroke="#c87896" stroke-width="2.4" stroke-linecap="round" stroke-linejoin="round" opacity="0.6"/>
<path d="M239,299L246,305L244,311" fill="none" stroke="#c87896" stroke-width="2.7" stroke-linecap="round" stroke-linejoin="round" opacity="0.6"/>
<path d="M557,198L551,196L545,200L537,209" fill="none" stroke="#c87896" stroke-width="2.3" stroke-linecap="round" stroke-linejoin="round" opacity="0.6"/>
<path d="M317,153L309,151L300,151L290,146L280,141" fill="none" stroke="#c87896" stroke-width="2.0" stroke-linecap="round" stroke-linejoin="round" opacity="0.6"/>
<path d="M670,362L674,371L678,376L685,379L691,381" fill="none" stroke="#c87896" stroke-width="2.9" stroke-linecap="round" stroke-linejoin="round" opacity="0.6"/>
<path d="M153,58L156,65L158,76" fill="none" stroke="#c87896" stroke-width="2.0" stroke-linecap="round" stroke-linejoin="round" opacity="0.6"/>
<path d="M341,431L342,440L338,443L331,447L326,449" fill="none" stroke="#c87896" stroke-width="3.0" stroke-linecap="round" stroke-linejoin="round" opacity="0.6"/>
<path d="M480,316L472,308L467,303L461,298L457,291" fill="none" stroke="#c87896" stroke-width="2.2" stroke-linecap="round" stroke-linejoin="round" opacity="0.6"/>
<path d="M181,361L179,352L181,345" fill="none" stroke="#c87896" stroke-width="2.8" stroke-linecap="round" stroke-linejoin="round" opacity="0.6"/>
<path d="M524,489L526,481L532,478L540,481L540,489" fill="none" stroke="#c87896" stroke-width="2.3" stroke-linecap="round" stroke-linejoin="round" opacity="0.6"/>
<path d="M26,222L29,229L37,229L42,220L42,213" fill="none" stroke="#c87896" stroke-width="2.3" stroke-linecap="round" stroke-linejoin="round" opacity="0.6"/>
<path d="M415,387L422,388L427,399L427,405L422,411" fill="none" stroke="#c87896" stroke-width="2.0" stroke-linecap="round" stroke-linejoin="round" opacity="0.6"/>
<path d="M263,324L267,329L272,336" fill="none" stroke="#c87896" stroke-width="2.7" stroke-linecap="round" stroke-linejoin="round" opacity="0.6"/>
<path d="M661,174L660,163L664,160L667,153L669,147" fill="none" stroke="#c87896" stroke-width="2.2" stroke-linecap="round" stroke-linejoin="round" opacity="0.6"/>
<path d="M99,40L99,33L92,30" fill="none" stroke="#c87896" stroke-width="2.1" stroke-linecap="round" stroke-linejoin="round" opacity="0.6"/>
<path d="M33,339L42,337L50,330" fill="none" stroke="#c87896" stroke-width="2.6" stroke-linecap="round" stroke-linejoin="round" opacity="0.6"/>
<path d="M40,137L43,126L41,117L37,112" fill="none" stroke="#c87896" stroke-width="2.8" stroke-linecap="round" stroke-linejoin="round" opacity="0.6"/>
<path d="M712,424L717,435L721,440L731,437" fill="none" stroke="#c87896" stroke-width="2.9" stroke-linecap="round" stroke-linejoin="round" opacity="0.6"/>
<path d="M534,80L543,81L552,81L564,80L569,73" fill="none" stroke="#c87896" stroke-width="2.5" stroke-linecap="round" stroke-linejoin="round" opacity="0.6"/>
<path d="M613,28L607,27L598,19" fill="none" stroke="#c87896" stroke-width="2.9" stroke-linecap="round" stroke-linejoin="round" opacity="0.6"/>
<path d="M535,235L536,225L531,222L531,213L537,205" fill="none" stroke="#c87896" stroke-width="2.5" stroke-linecap="round" stroke-linejoin="round" opacity="0.6"/>
<path d="M654,103L658,94L659,82L660,74L655,65" fill="none" stroke="#c87896" stroke-width="2.1" stroke-linecap="round" stroke-linejoin="round" opacity="0.6"/>
<path d="M106,475L112,479L118,480" fill="none" stroke="#c87896" stroke-width="2.1" stroke-linecap="round" stroke-linejoin="round" opacity="0.6"/>
<path d="M114,301L108,297L97,299" fill="none" stroke="#c87896" stroke-width="2.4" stroke-linecap="round" stroke-linejoin="round" opacity="0.6"/>
<path d="M133,86L133,78L130,68" fill="none" stroke="#c87896" stroke-width="2.1" stroke-linecap="round" stroke-linejoin="round" opacity="0.6"/>
<path d="M479,90L473,90L466,97L469,107" fill="none" stroke="#c87896" stroke-width="2.6" stroke-linecap="round" stroke-linejoin="round" opacity="0.6"/>
<path d="M517,240L506,235L503,228L496,222" fill="none" stroke="#c87896" stroke-width="2.0" stroke-linecap="round" stroke-linejoin="round" opacity="0.6"/>
<path d="M273,49L271,57L271,68L279,73" fill="none" stroke="#c87896" stroke-width="2.6" stroke-linecap="round" stroke-linejoin="round" opacity="0.6"/>
<path d="M300,187L301,196L300,202" fill="none" stroke="#c87896" stroke-width="2.3" stroke-linecap="round" stroke-linejoin="round" opacity="0.6"/>
<path d="M40,76L41,71L41,61" fill="none" stroke="#c87896" stroke-width="2.6" stroke-linecap="round" stroke-linejoin="round" opacity="0.6"/>
<path d="M496,97L485,102L484,109L478,113L472,122" fill="none" stroke="#c87896" stroke-width="2.7" stroke-linecap="round" stroke-linejoin="round" opacity="0.6"/>
<path d="M696,451L700,447L703,437L710,430" fill="none" stroke="#c87896" stroke-width="2.9" stroke-linecap="round" stroke-linejoin="round" opacity="0.6"/>
<path d="M474,382L469,379L466,368L458,367" fill="none" stroke="#c87896" stroke-width="2.4" stroke-linecap="round" stroke-linejoin="round" opacity="0.6"/>
<path d="M121,335L131,339L134,345L131,354L132,366" fill="none" stroke="#c87896" stroke-width="2.9" stroke-linecap="round" stroke-linejoin="round" opacity="0.6"/>
<path d="M129,30L118,30L106,31L100,26" fill="none" stroke="#c87896" stroke-width="2.4" stroke-linecap="round" stroke-linejoin="round" opacity="0.6"/>
<path d="M478,203L475,210L477,215" fill="none" stroke="#c87896" stroke-width="2.3" stroke-linecap="round" stroke-linejoin="round" opacity="0.6"/>
<path d="M184,413L185,420L188,425" fill="none" stroke="#c87896" stroke-width="2.3" stroke-linecap="round" stroke-linejoin="round" opacity="0.6"/>
<path d="M311,374L312,369L313,359L316,350L321,344" fill="none" stroke="#c87896" stroke-width="2.7" stroke-linecap="round" stroke-linejoin="round" opacity="0.6"/>
<path d="M610,99L606,94L600,95L595,90" fill="none" stroke="#c87896" stroke-width="2.4" stroke-linecap="round" stroke-linejoin="round" opacity="0.6"/>
<path d="M617,505L617,511L614,516L609,523" fill="none" stroke="#c87896" stroke-width="2.2" stroke-linecap="round" stroke-linejoin="round" opacity="0.6"/>
<ellipse cx="375" cy="75" rx="18" ry="14" fill="#6aa060" opacity="0.7"/>
<path d="M20,250 L60,330 L100,440" fill="none" stroke="#9ab878" stroke-width="8" opacity="0.6"/>
</g></g>
<text x="153.5" y="1003.5" font-size="7.5" textLength="27" lengthAdjust="spacingAndGlyphs" text-anchor="middle" fill="#222">0.3 µm</text>
<rect x="120" y="991.25" width="67.5" height="3.8" fill="#000"/>
<rect x="542.5" y="884" width="36.25" height="2.8" fill="#000"/>
<rect x="704" y="885.6" width="36.7" height="2.9" fill="#000"/>
<rect x="542" y="995.75" width="35.5" height="3" fill="#000"/>
<rect x="705" y="995.75" width="35.5" height="3" fill="#000"/>
<path d="M74.5,1041L74.5,1227.5M74.5,1223L323.4,1223M198,1223L198,1227.3M323.4,1223L323.4,1227.3" stroke="#000" stroke-width="1.8" fill="none"/>
<line x1="70" y1="1042.0" x2="74.5" y2="1042.0" stroke="#000" stroke-width="1.4" stroke-linecap="butt"/>
<text x="62" y="1045.85" font-size="10.7" textLength="25.5" lengthAdjust="spacingAndGlyphs" text-anchor="end">2400</text>
<line x1="70" y1="1072.17" x2="74.5" y2="1072.17" stroke="#000" stroke-width="1.4" stroke-linecap="butt"/>
<text x="62" y="1076.02" font-size="10.7" textLength="25.5" lengthAdjust="spacingAndGlyphs" text-anchor="end">2000</text>
<line x1="70" y1="1102.34" x2="74.5" y2="1102.34" stroke="#000" stroke-width="1.4" stroke-linecap="butt"/>
<text x="62" y="1106.1899999999998" font-size="10.7" textLength="25.5" lengthAdjust="spacingAndGlyphs" text-anchor="end">1600</text>
<line x1="70" y1="1132.51" x2="74.5" y2="1132.51" stroke="#000" stroke-width="1.4" stroke-linecap="butt"/>
<text x="62" y="1136.36" font-size="10.7" textLength="25.5" lengthAdjust="spacingAndGlyphs" text-anchor="end">1200</text>
<line x1="70" y1="1162.68" x2="74.5" y2="1162.68" stroke="#000" stroke-width="1.4" stroke-linecap="butt"/>
<text x="62" y="1166.53" font-size="10.7" textLength="18.5" lengthAdjust="spacingAndGlyphs" text-anchor="end">800</text>
<line x1="70" y1="1192.85" x2="74.5" y2="1192.85" stroke="#000" stroke-width="1.4" stroke-linecap="butt"/>
<text x="62" y="1196.6999999999998" font-size="10.7" textLength="18.5" lengthAdjust="spacingAndGlyphs" text-anchor="end">400</text>
<line x1="70" y1="1223.02" x2="74.5" y2="1223.02" stroke="#000" stroke-width="1.4" stroke-linecap="butt"/>
<text x="62" y="1226.87" font-size="10.7" textLength="5.5" lengthAdjust="spacingAndGlyphs" text-anchor="end">0</text>
<rect x="101.25" y="1118.5" width="34.5" height="104.5" fill="#fff" stroke="#777" stroke-width="1"/>
<rect x="136.25" y="1101.75" width="35.75" height="121.25" fill="#000"/>
<rect x="225.5" y="1101.75" width="35" height="121.25" fill="#fff" stroke="#777" stroke-width="1"/>
<rect x="260.75" y="1090" width="35.5" height="133" fill="#000"/>
<line x1="119.25" y1="1112" x2="119.25" y2="1123" stroke="#555" stroke-width="1.3" stroke-linecap="butt"/>
<line x1="116.25" y1="1112" x2="122.25" y2="1112" stroke="#555" stroke-width="1.3" stroke-linecap="butt"/>
<line x1="116.25" y1="1123" x2="122.25" y2="1123" stroke="#555" stroke-width="1.3" stroke-linecap="butt"/>
<line x1="154.25" y1="1096" x2="154.25" y2="1108" stroke="#000" stroke-width="1.3" stroke-linecap="butt"/>
<line x1="151.25" y1="1096" x2="157.25" y2="1096" stroke="#000" stroke-width="1.3" stroke-linecap="butt"/>
<line x1="151.25" y1="1108" x2="157.25" y2="1108" stroke="#000" stroke-width="1.3" stroke-linecap="butt"/>
<line x1="243" y1="1096.5" x2="243" y2="1105.75" stroke="#555" stroke-width="1.3" stroke-linecap="butt"/>
<line x1="240" y1="1096.5" x2="246" y2="1096.5" stroke="#555" stroke-width="1.3" stroke-linecap="butt"/>
<line x1="240" y1="1105.75" x2="246" y2="1105.75" stroke="#555" stroke-width="1.3" stroke-linecap="butt"/>
<line x1="278.25" y1="1084" x2="278.25" y2="1096" stroke="#000" stroke-width="1.3" stroke-linecap="butt"/>
<line x1="275.25" y1="1084" x2="281.25" y2="1084" stroke="#000" stroke-width="1.3" stroke-linecap="butt"/>
<line x1="275.25" y1="1096" x2="281.25" y2="1096" stroke="#000" stroke-width="1.3" stroke-linecap="butt"/>
<path d="M121.75,1080L162,1080M139.25,1080L139.25,1072.5Q139.25,1070.5 141.25,1070.5L255.5,1070.5Q257.5,1070.5 257.5,1072.5L257.5,1080M240.75,1080L275,1080" stroke="#000" stroke-width="1.8" fill="none"/>
<text x="189.6" y="1057.6" font-size="14.5" textLength="27.6" lengthAdjust="spacingAndGlyphs">†, ‡</text>
<text x="85.4" y="1032.6" font-size="19" textLength="74.9" lengthAdjust="spacingAndGlyphs">Cardiac</text>
<text x="162.9" y="1032.6" font-size="19" textLength="74.6" lengthAdjust="spacingAndGlyphs">Myocyte</text>
<text x="245.3" y="1032.6" font-size="19" textLength="45.2" lengthAdjust="spacingAndGlyphs">Area</text>
<text transform="translate(31.5,1150) rotate(-90)" font-size="19">µm<tspan font-size="13" dy="-7">2</tspan></text>
<text x="107.5" y="1244.5" font-size="18.5" textLength="50.5" lengthAdjust="spacingAndGlyphs">Day 9</text>
<text x="229" y="1244.5" font-size="18.5" textLength="62" lengthAdjust="spacingAndGlyphs">Day 28</text>
<path d="M490,1040.5L490,1227M490,1221.25L736.25,1221.25M615,1221.25L615,1227" stroke="#000" stroke-width="1.8" fill="none"/>
<line x1="484" y1="1041.0" x2="490" y2="1041.0" stroke="#000" stroke-width="1.6" stroke-linecap="butt"/>
<text x="472.5" y="1046.0" font-size="13.8" textLength="8.25" lengthAdjust="spacingAndGlyphs" text-anchor="end">4</text>
<line x1="484" y1="1063.53" x2="490" y2="1063.53" stroke="#000" stroke-width="1.6" stroke-linecap="butt"/>
<text x="472.5" y="1068.53" font-size="13.8" textLength="23.75" lengthAdjust="spacingAndGlyphs" text-anchor="end">3.5</text>
<line x1="484" y1="1086.06" x2="490" y2="1086.06" stroke="#000" stroke-width="1.6" stroke-linecap="butt"/>
<text x="472.5" y="1091.06" font-size="13.8" textLength="8.25" lengthAdjust="spacingAndGlyphs" text-anchor="end">3</text>
<line x1="484" y1="1108.59" x2="490" y2="1108.59" stroke="#000" stroke-width="1.6" stroke-linecap="butt"/>
<text x="472.5" y="1113.59" font-size="13.8" textLength="23.75" lengthAdjust="spacingAndGlyphs" text-anchor="end">2.5</text>
<line x1="484" y1="1131.12" x2="490" y2="1131.12" stroke="#000" stroke-width="1.6" stroke-linecap="butt"/>
<text x="472.5" y="1136.12" font-size="13.8" textLength="8.25" lengthAdjust="spacingAndGlyphs" text-anchor="end">2</text>
<line x1="484" y1="1153.65" x2="490" y2="1153.65" stroke="#000" stroke-width="1.6" stroke-linecap="butt"/>
<text x="472.5" y="1158.65" font-size="13.8" textLength="23.75" lengthAdjust="spacingAndGlyphs" text-anchor="end">1.5</text>
<line x1="484" y1="1176.18" x2="490" y2="1176.18" stroke="#000" stroke-width="1.6" stroke-linecap="butt"/>
<text x="472.5" y="1181.18" font-size="13.8" textLength="8.25" lengthAdjust="spacingAndGlyphs" text-anchor="end">1</text>
<line x1="484" y1="1198.71" x2="490" y2="1198.71" stroke="#000" stroke-width="1.6" stroke-linecap="butt"/>
<text x="472.5" y="1203.71" font-size="13.8" textLength="23.75" lengthAdjust="spacingAndGlyphs" text-anchor="end">0.5</text>
<line x1="484" y1="1221.24" x2="490" y2="1221.24" stroke="#000" stroke-width="1.6" stroke-linecap="butt"/>
<text x="472.5" y="1226.24" font-size="13.8" textLength="8.25" lengthAdjust="spacingAndGlyphs" text-anchor="end">0</text>
<rect x="516.9" y="1194.4" width="34.6" height="27" fill="#fff" stroke="#000" stroke-width="1.5"/>
<rect x="551.75" y="1140.5" width="36.25" height="80.75" fill="#000"/>
<rect x="641.9" y="1156.9" width="34.6" height="64.5" fill="#fff" stroke="#000" stroke-width="1.5"/>
<rect x="676.75" y="1113" width="36.5" height="108.25" fill="#000"/>
<line x1="535" y1="1173" x2="535" y2="1213.75" stroke="#000" stroke-width="1.1" stroke-linecap="butt"/>
<line x1="531.2" y1="1173" x2="538.8" y2="1173" stroke="#000" stroke-width="1.1" stroke-linecap="butt"/>
<line x1="531.2" y1="1213.75" x2="538.8" y2="1213.75" stroke="#000" stroke-width="1.1" stroke-linecap="butt"/>
<line x1="570.5" y1="1093.75" x2="570.5" y2="1150" stroke="#000" stroke-width="1.1" stroke-linecap="butt"/>
<line x1="566.7" y1="1093.75" x2="574.3" y2="1093.75" stroke="#000" stroke-width="1.1" stroke-linecap="butt"/>
<line x1="566.7" y1="1150" x2="574.3" y2="1150" stroke="#000" stroke-width="1.1" stroke-linecap="butt"/>
<line x1="660" y1="1135.5" x2="660" y2="1177" stroke="#000" stroke-width="1.1" stroke-linecap="butt"/>
<line x1="656.2" y1="1135.5" x2="663.8" y2="1135.5" stroke="#000" stroke-width="1.1" stroke-linecap="butt"/>
<line x1="656.2" y1="1177" x2="663.8" y2="1177" stroke="#000" stroke-width="1.1" stroke-linecap="butt"/>
<line x1="695.5" y1="1066.25" x2="695.5" y2="1150" stroke="#000" stroke-width="1.1" stroke-linecap="butt"/>
<line x1="691.7" y1="1066.25" x2="699.3" y2="1066.25" stroke="#000" stroke-width="1.1" stroke-linecap="butt"/>
<line x1="691.7" y1="1150" x2="699.3" y2="1150" stroke="#000" stroke-width="1.1" stroke-linecap="butt"/>
<text x="525.9" y="1034" font-size="17.8" textLength="96.5" lengthAdjust="spacingAndGlyphs">Interstitial</text>
<text x="625.0" y="1034" font-size="17.8" textLength="77.4" lengthAdjust="spacingAndGlyphs">Fibrosis</text>
<text transform="translate(438.75,1117.5) rotate(-90)" font-size="20.5" textLength="13.75" lengthAdjust="spacingAndGlyphs">%</text>
<text x="533" y="1243" font-size="18" textLength="49.5" lengthAdjust="spacingAndGlyphs">Day 9</text>
<text x="645.5" y="1243.75" font-size="18" textLength="60.75" lengthAdjust="spacingAndGlyphs">Day 28</text>
</svg></body></html>
